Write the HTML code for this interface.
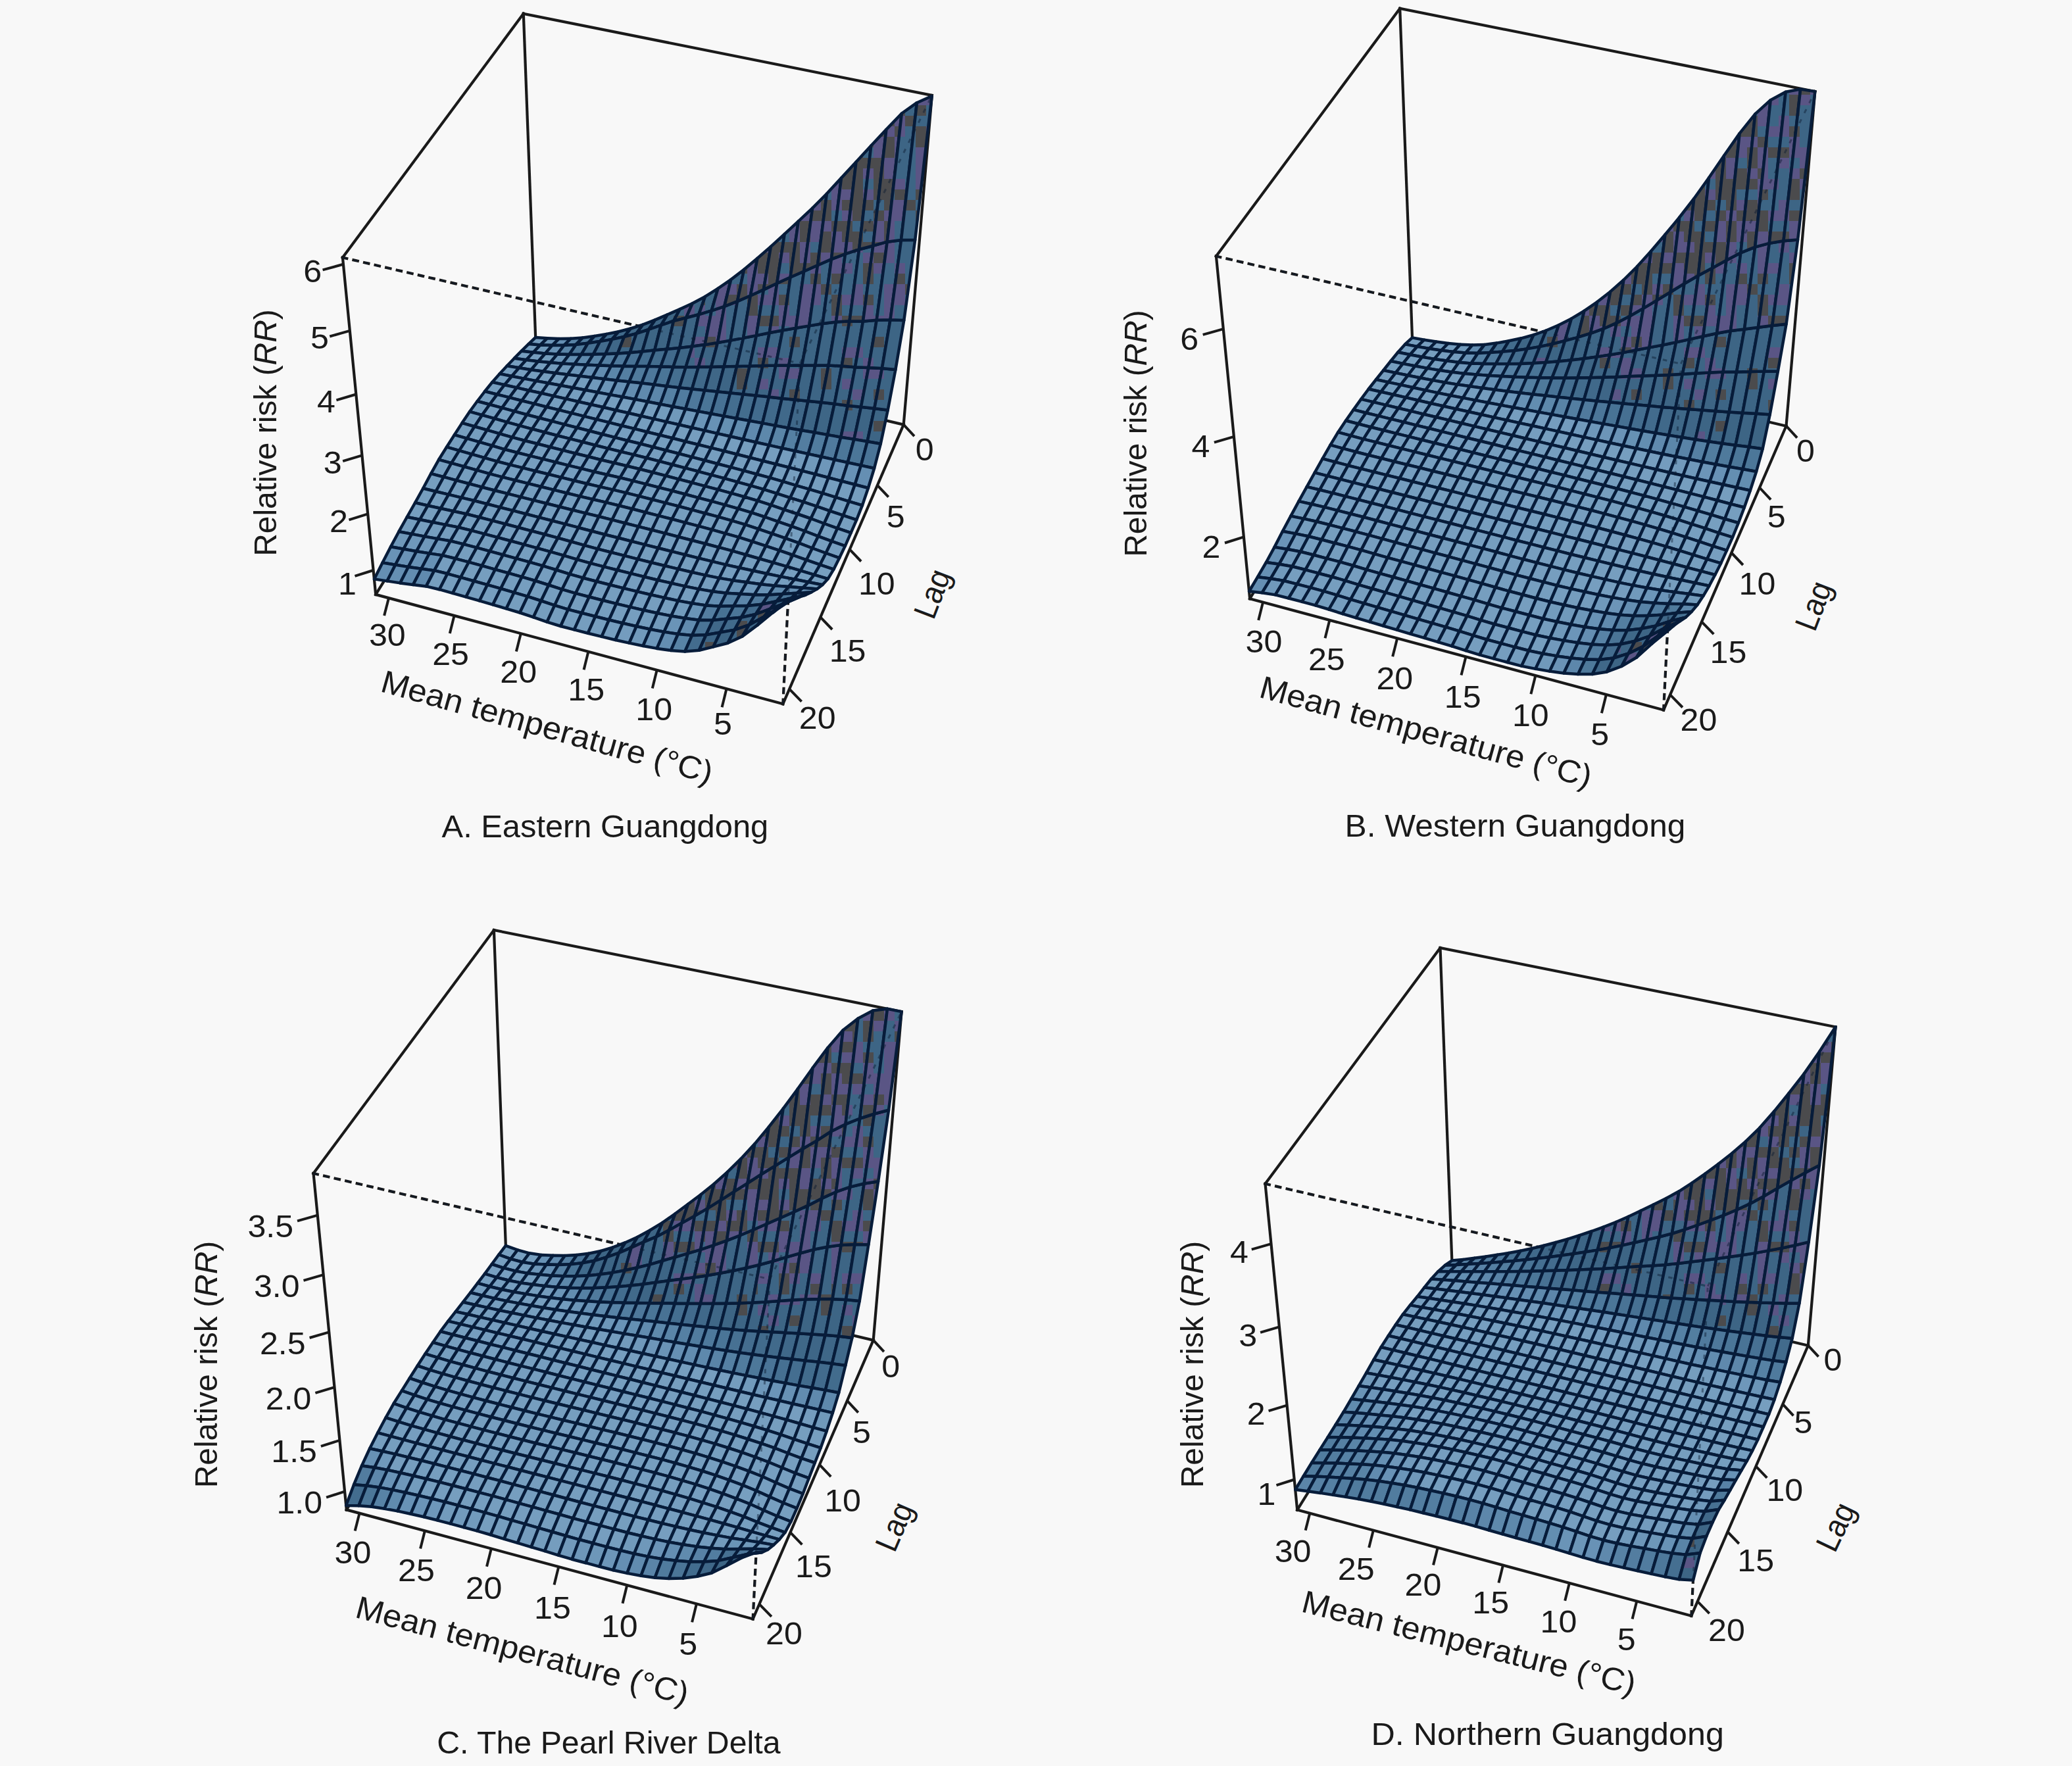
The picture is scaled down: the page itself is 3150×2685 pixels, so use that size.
<!DOCTYPE html>
<html><head><meta charset="utf-8"><title>Figure</title>
<style>html,body{margin:0;padding:0;background:#f8f8f8;}svg{display:block}text{font-family:"Liberation Sans",sans-serif;fill:#1a1a1a}</style>
</head><body>
<svg xmlns="http://www.w3.org/2000/svg" width="3150" height="2685" viewBox="0 0 3150 2685">
<rect width="3150" height="2685" fill="#f8f8f8"/>
<defs><pattern id="pd" patternUnits="userSpaceOnUse" width="128" height="128"><rect width="128" height="128" fill="#4b4b4d"/><rect x="0" y="32" width="16" height="16" fill="#5a5585"/><rect x="0" y="64" width="16" height="16" fill="#5a5585"/><rect x="0" y="112" width="16" height="16" fill="#5a5585"/><rect x="16" y="80" width="16" height="16" fill="#3d6585"/><rect x="32" y="0" width="16" height="16" fill="#5a5585"/><rect x="32" y="16" width="16" height="16" fill="#3d6585"/><rect x="32" y="32" width="16" height="16" fill="#5a5585"/><rect x="32" y="64" width="16" height="16" fill="#3d6585"/><rect x="32" y="96" width="16" height="16" fill="#3d6585"/><rect x="48" y="48" width="16" height="16" fill="#3d6585"/><rect x="48" y="80" width="16" height="16" fill="#5a5585"/><rect x="48" y="96" width="16" height="16" fill="#5a5585"/><rect x="64" y="0" width="16" height="16" fill="#5a5585"/><rect x="64" y="64" width="16" height="16" fill="#5a5585"/><rect x="64" y="112" width="16" height="16" fill="#5a5585"/><rect x="80" y="32" width="16" height="16" fill="#3d6585"/><rect x="80" y="48" width="16" height="16" fill="#5a5585"/><rect x="80" y="80" width="16" height="16" fill="#5a5585"/><rect x="80" y="96" width="16" height="16" fill="#5a5585"/><rect x="80" y="112" width="16" height="16" fill="#3d6585"/><rect x="96" y="0" width="16" height="16" fill="#5a5585"/><rect x="96" y="32" width="16" height="16" fill="#3d6585"/><rect x="96" y="80" width="16" height="16" fill="#5a5585"/><rect x="112" y="16" width="16" height="16" fill="#5a5585"/><rect x="112" y="32" width="16" height="16" fill="#5a5585"/><rect x="112" y="48" width="16" height="16" fill="#5a5585"/><rect x="112" y="64" width="16" height="16" fill="#3d6585"/><rect x="112" y="96" width="16" height="16" fill="#5a5585"/><rect x="112" y="112" width="16" height="16" fill="#5a5585"/></pattern><pattern id="pm" patternUnits="userSpaceOnUse" width="128" height="128"><rect width="128" height="128" fill="#3d6585"/><rect x="0" y="16" width="16" height="16" fill="#5a5585"/><rect x="0" y="64" width="16" height="16" fill="#5a5585"/><rect x="0" y="96" width="16" height="16" fill="#4b4b4d"/><rect x="16" y="48" width="16" height="16" fill="#5a5585"/><rect x="16" y="64" width="16" height="16" fill="#5a5585"/><rect x="16" y="96" width="16" height="16" fill="#4b4b4d"/><rect x="16" y="112" width="16" height="16" fill="#5a5585"/><rect x="32" y="0" width="16" height="16" fill="#5a5585"/><rect x="32" y="16" width="16" height="16" fill="#4b4b4d"/><rect x="32" y="32" width="16" height="16" fill="#4b4b4d"/><rect x="32" y="64" width="16" height="16" fill="#4b4b4d"/><rect x="32" y="80" width="16" height="16" fill="#5a5585"/><rect x="32" y="96" width="16" height="16" fill="#5a5585"/><rect x="48" y="0" width="16" height="16" fill="#4b4b4d"/><rect x="48" y="16" width="16" height="16" fill="#5a5585"/><rect x="48" y="96" width="16" height="16" fill="#5a5585"/><rect x="48" y="112" width="16" height="16" fill="#5a5585"/><rect x="64" y="0" width="16" height="16" fill="#5a5585"/><rect x="64" y="48" width="16" height="16" fill="#5a5585"/><rect x="64" y="64" width="16" height="16" fill="#5a5585"/><rect x="64" y="80" width="16" height="16" fill="#5a5585"/><rect x="64" y="96" width="16" height="16" fill="#5a5585"/><rect x="64" y="112" width="16" height="16" fill="#5a5585"/><rect x="80" y="16" width="16" height="16" fill="#5a5585"/><rect x="80" y="32" width="16" height="16" fill="#4b4b4d"/><rect x="80" y="48" width="16" height="16" fill="#5a5585"/><rect x="80" y="64" width="16" height="16" fill="#5a5585"/><rect x="96" y="48" width="16" height="16" fill="#4b4b4d"/><rect x="112" y="0" width="16" height="16" fill="#5a5585"/><rect x="112" y="16" width="16" height="16" fill="#5a5585"/><rect x="112" y="32" width="16" height="16" fill="#4b4b4d"/><rect x="112" y="64" width="16" height="16" fill="#4b4b4d"/><rect x="112" y="80" width="16" height="16" fill="#4b4b4d"/><rect x="112" y="96" width="16" height="16" fill="#5a5585"/><rect x="112" y="112" width="16" height="16" fill="#5a5585"/></pattern><pattern id="pb" patternUnits="userSpaceOnUse" width="128" height="128"><rect width="128" height="128" fill="#3d6585"/><rect x="0" y="16" width="16" height="16" fill="#5a5585"/><rect x="0" y="32" width="16" height="16" fill="#4b4b4d"/><rect x="0" y="64" width="16" height="16" fill="#5a5585"/><rect x="0" y="96" width="16" height="16" fill="#4b4b4d"/><rect x="16" y="16" width="16" height="16" fill="#5a5585"/><rect x="16" y="80" width="16" height="16" fill="#5a5585"/><rect x="32" y="32" width="16" height="16" fill="#5a5585"/><rect x="32" y="48" width="16" height="16" fill="#5a5585"/><rect x="48" y="0" width="16" height="16" fill="#4b4b4d"/><rect x="48" y="48" width="16" height="16" fill="#5a5585"/><rect x="48" y="80" width="16" height="16" fill="#4b4b4d"/><rect x="96" y="48" width="16" height="16" fill="#4b4b4d"/><rect x="96" y="64" width="16" height="16" fill="#4b4b4d"/></pattern></defs>
<g stroke="#1a1a1a" stroke-width="4.2" stroke-linecap="square" fill="none">
<line x1="520.9" y1="391.5" x2="795.8" y2="20.8"/>
<line x1="795.8" y1="20.8" x2="1416.8" y2="145"/>
<line x1="795.8" y1="20.8" x2="814.2" y2="513.7"/>
<line x1="520.9" y1="391.5" x2="571.2" y2="903.9"/>
<line x1="1416.8" y1="145" x2="1373.7" y2="645.6"/>
<line x1="571.2" y1="903.9" x2="1190.3" y2="1070.3"/>
<line x1="1190.3" y1="1070.3" x2="1373.7" y2="645.6"/>
<line x1="571.2" y1="903.9" x2="814.2" y2="513.7"/>
<line x1="814.2" y1="513.7" x2="1373.7" y2="645.6"/>
<line x1="520.9" y1="391.5" x2="1216.1" y2="552.6" stroke-dasharray="6.5 10.5"/>
<line x1="1216.1" y1="552.6" x2="1416.8" y2="145" stroke-dasharray="6.5 10.5"/>
<line x1="1190.3" y1="1070.3" x2="1216.1" y2="552.6" stroke-dasharray="6.5 10.5"/>
</g>
<g stroke="#071c3a" stroke-width="4.5" stroke-linejoin="round">
<polygon fill="#749cbe" points="832,514.3 814.2,513 803.5,523.1 821.5,524.4"/>
<polygon fill="#6d96b9" points="849.9,514.9 832,514.3 821.5,524.4 839.5,525.1"/>
<polygon fill="#658fb3" points="867.9,514.7 849.9,514.9 839.5,525.1 857.5,525"/>
<polygon fill="#769ebf" points="821.5,524.4 803.5,523.1 792.8,533.7 810.8,535.8"/>
<polygon fill="#5883a6" points="885.9,513.4 867.9,514.7 857.5,525 875.6,523.9"/>
<polygon fill="#7099bb" points="839.5,525.1 821.5,524.4 810.8,535.8 828.9,537.4"/>
<polygon fill="#4f7a9c" points="903.9,511 885.9,513.4 875.6,523.9 893.8,521.8"/>
<polygon fill="#6892b6" points="857.5,525 839.5,525.1 828.9,537.4 847.1,538.6"/>
<polygon fill="#4a7497" points="922.1,507.9 903.9,511 893.8,521.8 912.1,519.1"/>
<polygon fill="#5a85a8" points="875.6,523.9 857.5,525 847.1,538.6 865.4,539.1"/>
<polygon fill="#769ebf" points="810.8,535.8 792.8,533.7 781.9,544.7 800,547.2"/>
<polygon fill="#769ebf" points="828.9,537.4 810.8,535.8 800,547.2 818.3,549.4"/>
<polygon fill="#456f91" points="940.4,504.2 922.1,507.9 912.1,519.1 930.4,515.9"/>
<polygon fill="#4f7a9c" points="893.8,521.8 875.6,523.9 865.4,539.1 883.6,539.1"/>
<polygon fill="#739cbd" points="847.1,538.6 828.9,537.4 818.3,549.4 836.6,551.3"/>
<polygon fill="#487294" points="912.1,519.1 893.8,521.8 883.6,539.1 902,538.8"/>
<polygon fill="#426b8c" points="958.8,499.5 940.4,504.2 930.4,515.9 948.9,512"/>
<polygon fill="#6b95b8" points="865.4,539.1 847.1,538.6 836.6,551.3 854.9,552.7"/>
<polygon fill="#769ebf" points="800,547.2 781.9,544.7 770.8,556.2 789.1,559.3"/>
<polygon fill="#436c8e" points="930.4,515.9 912.1,519.1 902,538.8 920.5,538.3"/>
<polygon fill="#648fb2" points="883.6,539.1 865.4,539.1 854.9,552.7 873.3,553.7"/>
<polygon fill="#769ebf" points="818.3,549.4 800,547.2 789.1,559.3 807.5,562.2"/>
<polygon fill="#3e6787" points="977.3,493.7 958.8,499.5 948.9,512 967.5,507.1"/>
<polygon fill="#769ebf" points="836.6,551.3 818.3,549.4 807.5,562.2 825.9,564.8"/>
<polygon fill="#5f8aad" points="902,538.8 883.6,539.1 873.3,553.7 891.8,554.7"/>
<polygon fill="#3f6788" points="948.9,512 930.4,515.9 920.5,538.3 939,537.5"/>
<polygon fill="#749cbd" points="854.9,552.7 836.6,551.3 825.9,564.8 844.4,567.2"/>
<polygon fill="url(#pb)" points="995.9,486.4 977.3,493.7 967.5,507.1 986.2,501"/>
<polygon fill="#5a85a8" points="920.5,538.3 902,538.8 891.8,554.7 910.4,555.6"/>
<polygon fill="#769ebf" points="789.1,559.3 770.8,556.2 759.7,568.3 778.1,572"/>
<polygon fill="url(#pb)" points="967.5,507.1 948.9,512 939,537.5 957.7,536.2"/>
<polygon fill="#6f98ba" points="873.3,553.7 854.9,552.7 844.4,567.2 862.9,569.5"/>
<polygon fill="#769ebf" points="807.5,562.2 789.1,559.3 778.1,572 796.6,575.6"/>
<polygon fill="#547fa2" points="939,537.5 920.5,538.3 910.4,555.6 929,556.2"/>
<polygon fill="#6b95b8" points="891.8,554.7 873.3,553.7 862.9,569.5 881.5,571.8"/>
<polygon fill="url(#pb)" points="1014.7,478.3 995.9,486.4 986.2,501 1005,494.4"/>
<polygon fill="#769ebf" points="825.9,564.8 807.5,562.2 796.6,575.6 815.1,579.1"/>
<polygon fill="url(#pb)" points="986.2,501 967.5,507.1 957.7,536.2 976.4,534.4"/>
<polygon fill="#4e799c" points="957.7,536.2 939,537.5 929,556.2 947.7,556.7"/>
<polygon fill="#6791b5" points="910.4,555.6 891.8,554.7 881.5,571.8 900.2,574.1"/>
<polygon fill="#769ebf" points="844.4,567.2 825.9,564.8 815.1,579.1 833.7,582.5"/>
<polygon fill="#769ebf" points="778.1,572 759.7,568.3 748.4,581 767,585.2"/>
<polygon fill="url(#pb)" points="1005,494.4 986.2,501 976.4,534.4 995.2,532.5"/>
<polygon fill="#487295" points="976.4,534.4 957.7,536.2 947.7,556.7 966.5,556.9"/>
<polygon fill="#769ebf" points="862.9,569.5 844.4,567.2 833.7,582.5 852.4,586"/>
<polygon fill="url(#pb)" points="1033.6,470.1 1014.7,478.3 1005,494.4 1024,488"/>
<polygon fill="#628cb0" points="929,556.2 910.4,555.6 900.2,574.1 918.9,576.3"/>
<polygon fill="#769ebf" points="796.6,575.6 778.1,572 767,585.2 785.6,589.4"/>
<polygon fill="#769ebf" points="881.5,571.8 862.9,569.5 852.4,586 871.1,589.5"/>
<polygon fill="#5b86a9" points="947.7,556.7 929,556.2 918.9,576.3 937.7,578.4"/>
<polygon fill="#446e90" points="995.2,532.5 976.4,534.4 966.5,556.9 985.4,557.1"/>
<polygon fill="#769ebf" points="815.1,579.1 796.6,575.6 785.6,589.4 804.3,593.7"/>
<polygon fill="url(#pb)" points="1024,488 1005,494.4 995.2,532.5 1014.2,530.8"/>
<polygon fill="#749dbe" points="900.2,574.1 881.5,571.8 871.1,589.5 889.9,593"/>
<polygon fill="url(#pb)" points="1052.7,461.3 1033.6,470.1 1024,488 1043.1,483.2"/>
<polygon fill="#769ebf" points="833.7,582.5 815.1,579.1 804.3,593.7 823,597.8"/>
<polygon fill="#547fa2" points="966.5,556.9 947.7,556.7 937.7,578.4 956.6,580.4"/>
<polygon fill="#436d8e" points="1014.2,530.8 995.2,532.5 985.4,557.1 1004.4,557.5"/>
<polygon fill="#7099bb" points="918.9,576.3 900.2,574.1 889.9,593 908.7,596.5"/>
<polygon fill="#769ebf" points="852.4,586 833.7,582.5 823,597.8 841.7,602.1"/>
<polygon fill="#769ebf" points="767,585.2 748.4,581 737.1,595 755.8,599.7"/>
<polygon fill="url(#pb)" points="1043.1,483.2 1024,488 1014.2,530.8 1033.2,529.1"/>
<polygon fill="#507b9d" points="985.4,557.1 966.5,556.9 956.6,580.4 975.5,582.5"/>
<polygon fill="#6c96b9" points="937.7,578.4 918.9,576.3 908.7,596.5 927.6,600.1"/>
<polygon fill="#769ebf" points="871.1,589.5 852.4,586 841.7,602.1 860.6,606.4"/>
<polygon fill="#769ebf" points="785.6,589.4 767,585.2 755.8,599.7 774.5,604.4"/>
<polygon fill="#416a8c" points="1033.2,529.1 1014.2,530.8 1004.4,557.5 1023.4,558"/>
<polygon fill="url(#pb)" points="1072,450.9 1052.7,461.3 1043.1,483.2 1062.3,478.3"/>
<polygon fill="#4e789b" points="1004.4,557.5 985.4,557.1 975.5,582.5 994.5,584.8"/>
<polygon fill="#6791b5" points="956.6,580.4 937.7,578.4 927.6,600.1 946.5,603.5"/>
<polygon fill="#769ebf" points="804.3,593.7 785.6,589.4 774.5,604.4 793.3,609.2"/>
<polygon fill="#769ebf" points="889.9,593 871.1,589.5 860.6,606.4 879.4,610.7"/>
<polygon fill="url(#pb)" points="1062.3,478.3 1043.1,483.2 1033.2,529.1 1052.3,526.8"/>
<polygon fill="#3e6787" points="1052.3,526.8 1033.2,529.1 1023.4,558 1042.6,558.2"/>
<polygon fill="#769ebf" points="823,597.8 804.3,593.7 793.3,609.2 812.1,613.9"/>
<polygon fill="#769ebf" points="908.7,596.5 889.9,593 879.4,610.7 898.4,615"/>
<polygon fill="#638db1" points="975.5,582.5 956.6,580.4 946.5,603.5 965.6,607.1"/>
<polygon fill="#4a7597" points="1023.4,558 1004.4,557.5 994.5,584.8 1013.6,587.2"/>
<polygon fill="#769ebf" points="841.7,602.1 823,597.8 812.1,613.9 831,618.7"/>
<polygon fill="#769ebf" points="927.6,600.1 908.7,596.5 898.4,615 917.4,619.3"/>
<polygon fill="url(#pm)" points="1091.5,438.7 1072,450.9 1062.3,478.3 1081.7,472.4"/>
<polygon fill="#769ebf" points="755.8,599.7 737.1,595 725.6,610 744.4,615"/>
<polygon fill="#608aae" points="994.5,584.8 975.5,582.5 965.6,607.1 984.6,610.8"/>
<polygon fill="url(#pm)" points="1081.7,472.4 1062.3,478.3 1052.3,526.8 1071.6,524.1"/>
<polygon fill="url(#pb)" points="1071.6,524.1 1052.3,526.8 1042.6,558.2 1061.8,558.1"/>
<polygon fill="#456f91" points="1042.6,558.2 1023.4,558 1013.6,587.2 1032.8,589.4"/>
<polygon fill="#769ebf" points="860.6,606.4 841.7,602.1 831,618.7 849.9,623.4"/>
<polygon fill="#769ebf" points="946.5,603.5 927.6,600.1 917.4,619.3 936.4,623.7"/>
<polygon fill="#769ebf" points="774.5,604.4 755.8,599.7 744.4,615 763.3,620.1"/>
<polygon fill="#5c86aa" points="1013.6,587.2 994.5,584.8 984.6,610.8 1003.8,614.5"/>
<polygon fill="#769ebf" points="879.4,610.7 860.6,606.4 849.9,623.4 868.9,628.1"/>
<polygon fill="#769ebf" points="793.3,609.2 774.5,604.4 763.3,620.1 782.2,625.3"/>
<polygon fill="#426c8d" points="1061.8,558.1 1042.6,558.2 1032.8,589.4 1052,591.5"/>
<polygon fill="#769ebf" points="965.6,607.1 946.5,603.5 936.4,623.7 955.5,628"/>
<polygon fill="url(#pb)" points="1091,521 1071.6,524.1 1061.8,558.1 1081.2,557.9"/>
<polygon fill="#5681a4" points="1032.8,589.4 1013.6,587.2 1003.8,614.5 1023,618.2"/>
<polygon fill="url(#pm)" points="1101.2,465.9 1081.7,472.4 1071.6,524.1 1091,521"/>
<polygon fill="#769ebf" points="898.4,615 879.4,610.7 868.9,628.1 887.9,632.9"/>
<polygon fill="#769ebf" points="812.1,613.9 793.3,609.2 782.2,625.3 801.1,630.5"/>
<polygon fill="url(#pm)" points="1111.2,425.1 1091.5,438.7 1081.7,472.4 1101.2,465.9"/>
<polygon fill="#769ebf" points="984.6,610.8 965.6,607.1 955.5,628 974.6,632.5"/>
<polygon fill="#40698a" points="1081.2,557.9 1061.8,558.1 1052,591.5 1071.3,593.5"/>
<polygon fill="#769ebf" points="917.4,619.3 898.4,615 887.9,632.9 907,637.6"/>
<polygon fill="#769ebf" points="831,618.7 812.1,613.9 801.1,630.5 820.1,635.5"/>
<polygon fill="#517c9f" points="1052,591.5 1032.8,589.4 1023,618.2 1042.2,621.8"/>
<polygon fill="#769ebf" points="1003.8,614.5 984.6,610.8 974.6,632.5 993.8,636.9"/>
<polygon fill="url(#pb)" points="1110.5,517.6 1091,521 1081.2,557.9 1100.6,557.5"/>
<polygon fill="#779fc0" points="744.4,615 725.6,610 714.1,625.8 733,631.1"/>
<polygon fill="#769ebf" points="936.4,623.7 917.4,619.3 907,637.6 926.1,642.4"/>
<polygon fill="#769ebf" points="849.9,623.4 831,618.7 820.1,635.5 839.1,640.4"/>
<polygon fill="#4e789b" points="1071.3,593.5 1052,591.5 1042.2,621.8 1061.5,625.4"/>
<polygon fill="#3f6787" points="1100.6,557.5 1081.2,557.9 1071.3,593.5 1090.7,595.5"/>
<polygon fill="url(#pm)" points="1121,458.1 1101.2,465.9 1091,521 1110.5,517.6"/>
<polygon fill="#779fc0" points="763.3,620.1 744.4,615 733,631.1 751.9,636.4"/>
<polygon fill="#739cbd" points="1023,618.2 1003.8,614.5 993.8,636.9 1013.1,641.4"/>
<polygon fill="#769ebf" points="955.5,628 936.4,623.7 926.1,642.4 945.3,647.2"/>
<polygon fill="#769ebf" points="868.9,628.1 849.9,623.4 839.1,640.4 858.2,645.4"/>
<polygon fill="#779fc0" points="782.2,625.3 763.3,620.1 751.9,636.4 770.9,641.8"/>
<polygon fill="url(#pb)" points="1130.1,513.9 1110.5,517.6 1100.6,557.5 1120.1,557"/>
<polygon fill="#4a7597" points="1090.7,595.5 1071.3,593.5 1061.5,625.4 1080.9,629"/>
<polygon fill="#7099bb" points="1042.2,621.8 1023,618.2 1013.1,641.4 1032.4,645.8"/>
<polygon fill="url(#pd)" points="1131.1,409.7 1111.2,425.1 1101.2,465.9 1121,458.1"/>
<polygon fill="#769ebf" points="887.9,632.9 868.9,628.1 858.2,645.4 877.3,650.3"/>
<polygon fill="#769ebf" points="974.6,632.5 955.5,628 945.3,647.2 964.5,651.9"/>
<polygon fill="url(#pb)" points="1120.1,557 1100.6,557.5 1090.7,595.5 1110.2,597.5"/>
<polygon fill="#779fc0" points="801.1,630.5 782.2,625.3 770.9,641.8 790,647.2"/>
<polygon fill="#6e97ba" points="1061.5,625.4 1042.2,621.8 1032.4,645.8 1051.8,650.2"/>
<polygon fill="#769ebf" points="907,637.6 887.9,632.9 877.3,650.3 896.5,655.2"/>
<polygon fill="#477194" points="1110.2,597.5 1090.7,595.5 1080.9,629 1100.4,632.6"/>
<polygon fill="#769ebf" points="993.8,636.9 974.6,632.5 964.5,651.9 983.8,656.7"/>
<polygon fill="url(#pm)" points="1140.9,449.5 1121,458.1 1110.5,517.6 1130.1,513.9"/>
<polygon fill="#769ebf" points="820.1,635.5 801.1,630.5 790,647.2 809.1,652.3"/>
<polygon fill="url(#pb)" points="1139.7,556.6 1120.1,557 1110.2,597.5 1129.7,599.5"/>
<polygon fill="url(#pb)" points="1149.9,510.1 1130.1,513.9 1120.1,557 1139.7,556.6"/>
<polygon fill="#769ebf" points="733,631.1 714.1,625.8 702.5,643.1 721.5,648.5"/>
<polygon fill="#6b95b8" points="1080.9,629 1061.5,625.4 1051.8,650.2 1071.2,654.6"/>
<polygon fill="#769ebf" points="926.1,642.4 907,637.6 896.5,655.2 915.7,660.2"/>
<polygon fill="#769ebf" points="1013.1,641.4 993.8,636.9 983.8,656.7 1003.2,661.5"/>
<polygon fill="#769ebf" points="839.1,640.4 820.1,635.5 809.1,652.3 828.2,657.2"/>
<polygon fill="#446e90" points="1129.7,599.5 1110.2,597.5 1100.4,632.6 1119.9,636.2"/>
<polygon fill="#769ebf" points="751.9,636.4 733,631.1 721.5,648.5 740.5,653.9"/>
<polygon fill="#769ebf" points="945.3,647.2 926.1,642.4 915.7,660.2 935,665.1"/>
<polygon fill="#6892b6" points="1100.4,632.6 1080.9,629 1071.2,654.6 1090.7,659.1"/>
<polygon fill="#769ebf" points="1032.4,645.8 1013.1,641.4 1003.2,661.5 1022.6,666.3"/>
<polygon fill="#769ebf" points="858.2,645.4 839.1,640.4 828.2,657.2 847.3,662.2"/>
<polygon fill="url(#pb)" points="1159.5,556 1139.7,556.6 1129.7,599.5 1149.3,601.4"/>
<polygon fill="url(#pd)" points="1151.4,392.8 1131.1,409.7 1121,458.1 1140.9,449.5"/>
<polygon fill="#436d8e" points="1149.3,601.4 1129.7,599.5 1119.9,636.2 1139.4,639.8"/>
<polygon fill="#769ebf" points="770.9,641.8 751.9,636.4 740.5,653.9 759.6,659.4"/>
<polygon fill="url(#pm)" points="1160.9,440.4 1140.9,449.5 1130.1,513.9 1149.9,510.1"/>
<polygon fill="url(#pb)" points="1169.8,506 1149.9,510.1 1139.7,556.6 1159.5,556"/>
<polygon fill="#769ebf" points="964.5,651.9 945.3,647.2 935,665.1 954.3,670"/>
<polygon fill="#769ebf" points="1051.8,650.2 1032.4,645.8 1022.6,666.3 1042,671.2"/>
<polygon fill="#6590b3" points="1119.9,636.2 1100.4,632.6 1090.7,659.1 1110.2,663.5"/>
<polygon fill="#769ebf" points="877.3,650.3 858.2,645.4 847.3,662.2 866.6,667.1"/>
<polygon fill="#769ebf" points="790,647.2 770.9,641.8 759.6,659.4 778.8,664.9"/>
<polygon fill="url(#pb)" points="1179.3,555.6 1159.5,556 1149.3,601.4 1169,603.5"/>
<polygon fill="#426b8d" points="1169,603.5 1149.3,601.4 1139.4,639.8 1159.1,643.4"/>
<polygon fill="#769ebf" points="983.8,656.7 964.5,651.9 954.3,670 973.7,674.8"/>
<polygon fill="#769ebf" points="1071.2,654.6 1051.8,650.2 1042,671.2 1061.5,676"/>
<polygon fill="#769ebf" points="896.5,655.2 877.3,650.3 866.6,667.1 885.8,672"/>
<polygon fill="#628db0" points="1139.4,639.8 1119.9,636.2 1110.2,663.5 1129.8,668"/>
<polygon fill="#769ebf" points="809.1,652.3 790,647.2 778.8,664.9 797.9,670"/>
<polygon fill="url(#pb)" points="1189.8,502.2 1169.8,506 1159.5,556 1179.3,555.6"/>
<polygon fill="#769ebf" points="721.5,648.5 702.5,643.1 690.8,661.2 709.9,666.7"/>
<polygon fill="#769ebf" points="1003.2,661.5 983.8,656.7 973.7,674.8 993.1,679.7"/>
<polygon fill="#769ebf" points="915.7,660.2 896.5,655.2 885.8,672 905.2,677"/>
<polygon fill="#769ebf" points="1090.7,659.1 1071.2,654.6 1061.5,676 1081.1,680.9"/>
<polygon fill="#416a8b" points="1188.8,605.7 1169,603.5 1159.1,643.4 1178.8,647.1"/>
<polygon fill="#608aae" points="1159.1,643.4 1139.4,639.8 1129.8,668 1149.5,672.5"/>
<polygon fill="#769ebf" points="828.2,657.2 809.1,652.3 797.9,670 817.1,674.8"/>
<polygon fill="url(#pm)" points="1181.2,430.8 1160.9,440.4 1149.9,510.1 1169.8,506"/>
<polygon fill="url(#pb)" points="1199.2,555.6 1179.3,555.6 1169,603.5 1188.8,605.7"/>
<polygon fill="#769ebf" points="740.5,653.9 721.5,648.5 709.9,666.7 729,672.1"/>
<polygon fill="#769ebf" points="1022.6,666.3 1003.2,661.5 993.1,679.7 1012.6,684.7"/>
<polygon fill="url(#pd)" points="1171.9,374.9 1151.4,392.8 1140.9,449.5 1160.9,440.4"/>
<polygon fill="#769ebf" points="935,665.1 915.7,660.2 905.2,677 924.5,681.9"/>
<polygon fill="#769ebf" points="1110.2,663.5 1090.7,659.1 1081.1,680.9 1100.7,685.8"/>
<polygon fill="#769ebf" points="847.3,662.2 828.2,657.2 817.1,674.8 836.4,679.7"/>
<polygon fill="#40698a" points="1208.6,607.8 1188.8,605.7 1178.8,647.1 1198.5,650.7"/>
<polygon fill="#5d88ab" points="1178.8,647.1 1159.1,643.4 1149.5,672.5 1169.2,676.9"/>
<polygon fill="#769ebf" points="759.6,659.4 740.5,653.9 729,672.1 748.2,677.7"/>
<polygon fill="url(#pb)" points="1210,498.8 1189.8,502.2 1179.3,555.6 1199.2,555.6"/>
<polygon fill="#769ebf" points="1042,671.2 1022.6,666.3 1012.6,684.7 1032.2,689.8"/>
<polygon fill="url(#pb)" points="1219.2,555.5 1199.2,555.6 1188.8,605.7 1208.6,607.8"/>
<polygon fill="#769ebf" points="954.3,670 935,665.1 924.5,681.9 944,686.7"/>
<polygon fill="#769ebf" points="1129.8,668 1110.2,663.5 1100.7,685.8 1120.4,690.8"/>
<polygon fill="#769ebf" points="866.6,667.1 847.3,662.2 836.4,679.7 855.7,684.6"/>
<polygon fill="#769ebf" points="778.8,664.9 759.6,659.4 748.2,677.7 767.4,683.3"/>
<polygon fill="#5a85a8" points="1198.5,650.7 1178.8,647.1 1169.2,676.9 1189,681.4"/>
<polygon fill="#3f6788" points="1228.6,609.8 1208.6,607.8 1198.5,650.7 1218.4,654.2"/>
<polygon fill="#769ebf" points="1061.5,676 1042,671.2 1032.2,689.8 1051.8,694.9"/>
<polygon fill="#769ebf" points="973.7,674.8 954.3,670 944,686.7 963.5,691.4"/>
<polygon fill="url(#pm)" points="1201.6,421.5 1181.2,430.8 1169.8,506 1189.8,502.2"/>
<polygon fill="#769ebf" points="1149.5,672.5 1129.8,668 1120.4,690.8 1140.1,695.7"/>
<polygon fill="#769ebf" points="885.8,672 866.6,667.1 855.7,684.6 875.1,689.5"/>
<polygon fill="#769ebf" points="797.9,670 778.8,664.9 767.4,683.3 786.7,688.3"/>
<polygon fill="url(#pb)" points="1239.3,555.3 1219.2,555.5 1208.6,607.8 1228.6,609.8"/>
<polygon fill="#5580a3" points="1218.4,654.2 1198.5,650.7 1189,681.4 1208.8,685.8"/>
<polygon fill="#769ebf" points="1081.1,680.9 1061.5,676 1051.8,694.9 1071.4,700"/>
<polygon fill="url(#pb)" points="1230.2,495.4 1210,498.8 1199.2,555.6 1219.2,555.5"/>
<polygon fill="#769ebf" points="709.9,666.7 690.8,661.2 679,679.7 698.2,685.1"/>
<polygon fill="#769ebf" points="993.1,679.7 973.7,674.8 963.5,691.4 983,696.3"/>
<polygon fill="#3e6686" points="1248.6,611.7 1228.6,609.8 1218.4,654.2 1238.3,657.5"/>
<polygon fill="#769ebf" points="1169.2,676.9 1149.5,672.5 1140.1,695.7 1159.8,700.7"/>
<polygon fill="#769ebf" points="905.2,677 885.8,672 875.1,689.5 894.5,694.3"/>
<polygon fill="#769ebf" points="817.1,674.8 797.9,670 786.7,688.3 806,693.1"/>
<polygon fill="url(#pd)" points="1192.7,355.8 1171.9,374.9 1160.9,440.4 1181.2,430.8"/>
<polygon fill="#769ebf" points="729,672.1 709.9,666.7 698.2,685.1 717.4,690.6"/>
<polygon fill="#769ebf" points="1100.7,685.8 1081.1,680.9 1071.4,700 1091.1,705.2"/>
<polygon fill="#537da0" points="1238.3,657.5 1218.4,654.2 1208.8,685.8 1228.7,690.1"/>
<polygon fill="#769ebf" points="1012.6,684.7 993.1,679.7 983,696.3 1002.6,701.4"/>
<polygon fill="url(#pb)" points="1259.5,555.6 1239.3,555.3 1228.6,609.8 1248.6,611.7"/>
<polygon fill="#769ebf" points="1189,681.4 1169.2,676.9 1159.8,700.7 1179.7,705.7"/>
<polygon fill="#769ebf" points="924.5,681.9 905.2,677 894.5,694.3 914,699.2"/>
<polygon fill="#3e6686" points="1268.6,614.1 1248.6,611.7 1238.3,657.5 1258.2,661.1"/>
<polygon fill="#769ebf" points="836.4,679.7 817.1,674.8 806,693.1 825.3,697.9"/>
<polygon fill="#769ebf" points="748.2,677.7 729,672.1 717.4,690.6 736.7,696.1"/>
<polygon fill="#769ebf" points="1120.4,690.8 1100.7,685.8 1091.1,705.2 1110.9,710.4"/>
<polygon fill="url(#pb)" points="1250.6,492 1230.2,495.4 1219.2,555.5 1239.3,555.3"/>
<polygon fill="url(#pm)" points="1222.2,412.5 1201.6,421.5 1189.8,502.2 1210,498.8"/>
<polygon fill="#769ebf" points="1032.2,689.8 1012.6,684.7 1002.6,701.4 1022.2,706.5"/>
<polygon fill="#517c9f" points="1258.2,661.1 1238.3,657.5 1228.7,690.1 1248.7,694.5"/>
<polygon fill="#759dbe" points="1208.8,685.8 1189,681.4 1179.7,705.7 1199.5,710.8"/>
<polygon fill="#769ebf" points="944,686.7 924.5,681.9 914,699.2 933.5,703.8"/>
<polygon fill="#769ebf" points="855.7,684.6 836.4,679.7 825.3,697.9 844.8,702.7"/>
<polygon fill="#769ebf" points="767.4,683.3 748.2,677.7 736.7,696.1 756,701.6"/>
<polygon fill="#3d6686" points="1288.8,616.8 1268.6,614.1 1258.2,661.1 1278.3,664.7"/>
<polygon fill="url(#pb)" points="1279.7,556.5 1259.5,555.6 1248.6,611.7 1268.6,614.1"/>
<polygon fill="#769ebf" points="1140.1,695.7 1120.4,690.8 1110.9,710.4 1130.7,715.6"/>
<polygon fill="#769ebf" points="1051.8,694.9 1032.2,689.8 1022.2,706.5 1041.9,711.6"/>
<polygon fill="#507a9d" points="1278.3,664.7 1258.2,661.1 1248.7,694.5 1268.7,698.9"/>
<polygon fill="#729bbd" points="1228.7,690.1 1208.8,685.8 1199.5,710.8 1219.5,715.9"/>
<polygon fill="#769ebf" points="963.5,691.4 944,686.7 933.5,703.8 953.1,708.5"/>
<polygon fill="#769ebf" points="875.1,689.5 855.7,684.6 844.8,702.7 864.2,707.6"/>
<polygon fill="#769ebf" points="786.7,688.3 767.4,683.3 756,701.6 775.3,706.6"/>
<polygon fill="#769ebf" points="1159.8,700.7 1140.1,695.7 1130.7,715.6 1150.5,721"/>
<polygon fill="url(#pb)" points="1271,489.5 1250.6,492 1239.3,555.3 1259.5,555.6"/>
<polygon fill="#769ebf" points="698.2,685.1 679,679.7 667.1,698.8 686.3,704.2"/>
<polygon fill="#769ebf" points="1071.4,700 1051.8,694.9 1041.9,711.6 1061.7,716.8"/>
<polygon fill="url(#pb)" points="1309,618.7 1288.8,616.8 1278.3,664.7 1298.4,667.9"/>
<polygon fill="url(#pb)" points="1300,558.3 1279.7,556.5 1268.6,614.1 1288.8,616.8"/>
<polygon fill="#7099bb" points="1248.7,694.5 1228.7,690.1 1219.5,715.9 1239.5,721"/>
<polygon fill="#4c7799" points="1298.4,667.9 1278.3,664.7 1268.7,698.9 1288.8,703.2"/>
<polygon fill="#769ebf" points="983,696.3 963.5,691.4 953.1,708.5 972.7,713.3"/>
<polygon fill="#769ebf" points="894.5,694.3 875.1,689.5 864.2,707.6 883.7,712.4"/>
<polygon fill="url(#pm)" points="1243,403.2 1222.2,412.5 1210,498.8 1230.2,495.4"/>
<polygon fill="#769ebf" points="806,693.1 786.7,688.3 775.3,706.6 794.7,711.4"/>
<polygon fill="url(#pd)" points="1213.8,336.3 1192.7,355.8 1181.2,430.8 1201.6,421.5"/>
<polygon fill="#769ebf" points="1179.7,705.7 1159.8,700.7 1150.5,721 1170.4,726.4"/>
<polygon fill="#769ebf" points="717.4,690.6 698.2,685.1 686.3,704.2 705.6,709.5"/>
<polygon fill="#769ebf" points="1091.1,705.2 1071.4,700 1061.7,716.8 1081.5,722.1"/>
<polygon fill="#6e97ba" points="1268.7,698.9 1248.7,694.5 1239.5,721 1259.5,726.2"/>
<polygon fill="#769ebf" points="1002.6,701.4 983,696.3 972.7,713.3 992.4,718.3"/>
<polygon fill="url(#pb)" points="1329.3,621 1309,618.7 1298.4,667.9 1318.6,671.3"/>
<polygon fill="#769ebf" points="914,699.2 894.5,694.3 883.7,712.4 903.3,717.2"/>
<polygon fill="#4b7698" points="1318.6,671.3 1298.4,667.9 1288.8,703.2 1308.9,707.6"/>
<polygon fill="#769ebf" points="825.3,697.9 806,693.1 794.7,711.4 814.2,716.2"/>
<polygon fill="#769ebf" points="1199.5,710.8 1179.7,705.7 1170.4,726.4 1190.4,732.1"/>
<polygon fill="url(#pb)" points="1291.5,488.2 1271,489.5 1259.5,555.6 1279.7,556.5"/>
<polygon fill="url(#pb)" points="1320.4,558.9 1300,558.3 1288.8,616.8 1309,618.7"/>
<polygon fill="#769ebf" points="736.7,696.1 717.4,690.6 705.6,709.5 725,714.9"/>
<polygon fill="#769ebf" points="1110.9,710.4 1091.1,705.2 1081.5,722.1 1101.4,727.4"/>
<polygon fill="#6b94b8" points="1288.8,703.2 1268.7,698.9 1259.5,726.2 1279.6,731.5"/>
<polygon fill="#769ebf" points="1022.2,706.5 1002.6,701.4 992.4,718.3 1012.2,723.4"/>
<polygon fill="#769ebf" points="1219.5,715.9 1199.5,710.8 1190.4,732.1 1210.3,738.1"/>
<polygon fill="#769ebf" points="933.5,703.8 914,699.2 903.3,717.2 922.9,721.8"/>
<polygon fill="#769ebf" points="844.8,702.7 825.3,697.9 814.2,716.2 833.7,721"/>
<polygon fill="#769ebf" points="756,701.6 736.7,696.1 725,714.9 744.4,720.4"/>
<polygon fill="url(#pb)" points="1349.7,623.6 1329.3,621 1318.6,671.3 1338.8,674.8"/>
<polygon fill="#4a7497" points="1338.8,674.8 1318.6,671.3 1308.9,707.6 1329.1,712"/>
<polygon fill="#769ebf" points="1130.7,715.6 1110.9,710.4 1101.4,727.4 1121.3,732.8"/>
<polygon fill="url(#pm)" points="1263.9,394.1 1243,403.2 1230.2,495.4 1250.6,492"/>
<polygon fill="url(#pb)" points="1340.9,560.1 1320.4,558.9 1309,618.7 1329.3,621"/>
<polygon fill="url(#pb)" points="1312,488.4 1291.5,488.2 1279.7,556.5 1300,558.3"/>
<polygon fill="#769ebf" points="1041.9,711.6 1022.2,706.5 1012.2,723.4 1032,728.6"/>
<polygon fill="#6892b6" points="1308.9,707.6 1288.8,703.2 1279.6,731.5 1299.7,736.7"/>
<polygon fill="#769ebf" points="1239.5,721 1219.5,715.9 1210.3,738.1 1230.4,743.9"/>
<polygon fill="#769ebf" points="775.3,706.6 756,701.6 744.4,720.4 763.8,725.4"/>
<polygon fill="#769ebf" points="864.2,707.6 844.8,702.7 833.7,721 853.2,725.9"/>
<polygon fill="#769ebf" points="953.1,708.5 933.5,703.8 922.9,721.8 942.6,726.3"/>
<polygon fill="#769ebf" points="686.3,704.2 667.1,698.8 655.2,720.1 674.5,725.2"/>
<polygon fill="#769ebf" points="1150.5,721 1130.7,715.6 1121.3,732.8 1141.2,738.4"/>
<polygon fill="#769ebf" points="1061.7,716.8 1041.9,711.6 1032,728.6 1051.9,733.8"/>
<polygon fill="#769ebf" points="1259.5,726.2 1239.5,721 1230.4,743.9 1250.5,749.9"/>
<polygon fill="#658fb3" points="1329.1,712 1308.9,707.6 1299.7,736.7 1319.9,742"/>
<polygon fill="url(#pd)" points="1235.2,316.3 1213.8,336.3 1201.6,421.5 1222.2,412.5"/>
<polygon fill="#769ebf" points="794.7,711.4 775.3,706.6 763.8,725.4 783.3,730.3"/>
<polygon fill="url(#pb)" points="1361.4,562.1 1340.9,560.1 1329.3,621 1349.7,623.6"/>
<polygon fill="#769ebf" points="883.7,712.4 864.2,707.6 853.2,725.9 872.8,730.7"/>
<polygon fill="#769ebf" points="705.6,709.5 686.3,704.2 674.5,725.2 693.9,730.4"/>
<polygon fill="#769ebf" points="972.7,713.3 953.1,708.5 942.6,726.3 962.4,731.1"/>
<polygon fill="#779fc0" points="1170.4,726.4 1150.5,721 1141.2,738.4 1161.2,744.1"/>
<polygon fill="url(#pb)" points="1332.7,486.7 1312,488.4 1300,558.3 1320.4,558.9"/>
<polygon fill="#769ebf" points="1279.6,731.5 1259.5,726.2 1250.5,749.9 1270.6,756.2"/>
<polygon fill="#769ebf" points="1081.5,722.1 1061.7,716.8 1051.9,733.8 1071.8,739.1"/>
<polygon fill="#779fc0" points="1190.4,732.1 1170.4,726.4 1161.2,744.1 1181.2,750.3"/>
<polygon fill="#769ebf" points="725,714.9 705.6,709.5 693.9,730.4 713.3,735.5"/>
<polygon fill="#769ebf" points="814.2,716.2 794.7,711.4 783.3,730.3 802.9,735.1"/>
<polygon fill="#769ebf" points="903.3,717.2 883.7,712.4 872.8,730.7 892.5,735.5"/>
<polygon fill="#769ebf" points="992.4,718.3 972.7,713.3 962.4,731.1 982.2,736.1"/>
<polygon fill="url(#pm)" points="1285,386.1 1263.9,394.1 1250.6,492 1271,489.5"/>
<polygon fill="#769ebf" points="1299.7,736.7 1279.6,731.5 1270.6,756.2 1290.7,762.3"/>
<polygon fill="#769ebf" points="1101.4,727.4 1081.5,722.1 1071.8,739.1 1091.7,744.4"/>
<polygon fill="#779fc0" points="1210.3,738.1 1190.4,732.1 1181.2,750.3 1201.3,756.8"/>
<polygon fill="#769ebf" points="744.4,720.4 725,714.9 713.3,735.5 732.8,740.7"/>
<polygon fill="#769ebf" points="833.7,721 814.2,716.2 802.9,735.1 822.5,740"/>
<polygon fill="#769ebf" points="1012.2,723.4 992.4,718.3 982.2,736.1 1002,741.2"/>
<polygon fill="#769ebf" points="922.9,721.8 903.3,717.2 892.5,735.5 912.2,740.1"/>
<polygon fill="url(#pb)" points="1353.5,486.2 1332.7,486.7 1320.4,558.9 1340.9,560.1"/>
<polygon fill="#769ebf" points="1319.9,742 1299.7,736.7 1290.7,762.3 1310.9,768.4"/>
<polygon fill="#779fc0" points="1121.3,732.8 1101.4,727.4 1091.7,744.4 1111.8,749.9"/>
<polygon fill="#779fc0" points="1230.4,743.9 1210.3,738.1 1201.3,756.8 1221.4,763.2"/>
<polygon fill="#769ebf" points="674.5,725.2 655.2,720.1 643.2,742.5 662.6,747.2"/>
<polygon fill="#769ebf" points="763.8,725.4 744.4,720.4 732.8,740.7 752.3,745.7"/>
<polygon fill="#769ebf" points="1032,728.6 1012.2,723.4 1002,741.2 1021.9,746.3"/>
<polygon fill="#769ebf" points="853.2,725.9 833.7,721 822.5,740 842.1,744.9"/>
<polygon fill="#769ebf" points="942.6,726.3 922.9,721.8 912.2,740.1 932,744.6"/>
<polygon fill="#779fc0" points="1250.5,749.9 1230.4,743.9 1221.4,763.2 1241.6,769.9"/>
<polygon fill="#779fc0" points="1141.2,738.4 1121.3,732.8 1111.8,749.9 1131.8,755.5"/>
<polygon fill="url(#pm)" points="1306.1,379.2 1285,386.1 1271,489.5 1291.5,488.2"/>
<polygon fill="#769ebf" points="693.9,730.4 674.5,725.2 662.6,747.2 682,751.9"/>
<polygon fill="url(#pb)" points="1374.3,486.9 1353.5,486.2 1340.9,560.1 1361.4,562.1"/>
<polygon fill="url(#pd)" points="1256.9,294.5 1235.2,316.3 1222.2,412.5 1243,403.2"/>
<polygon fill="#769ebf" points="783.3,730.3 763.8,725.4 752.3,745.7 771.9,750.6"/>
<polygon fill="#769ebf" points="1051.9,733.8 1032,728.6 1021.9,746.3 1041.9,751.5"/>
<polygon fill="#769ebf" points="872.8,730.7 853.2,725.9 842.1,744.9 861.8,749.7"/>
<polygon fill="#779fc0" points="1270.6,756.2 1250.5,749.9 1241.6,769.9 1261.7,776.8"/>
<polygon fill="#769ebf" points="962.4,731.1 942.6,726.3 932,744.6 951.8,749.4"/>
<polygon fill="#779fc0" points="1161.2,744.1 1141.2,738.4 1131.8,755.5 1151.9,761.4"/>
<polygon fill="#769ebf" points="713.3,735.5 693.9,730.4 682,751.9 701.5,756.6"/>
<polygon fill="#779fc0" points="1290.7,762.3 1270.6,756.2 1261.7,776.8 1281.9,783.6"/>
<polygon fill="#769ebf" points="802.9,735.1 783.3,730.3 771.9,750.6 791.5,755.6"/>
<polygon fill="#769ebf" points="1071.8,739.1 1051.9,733.8 1041.9,751.5 1061.9,756.8"/>
<polygon fill="#769ebf" points="892.5,735.5 872.8,730.7 861.8,749.7 881.6,754.6"/>
<polygon fill="#779fc0" points="1181.2,750.3 1161.2,744.1 1151.9,761.4 1172.1,767.9"/>
<polygon fill="#769ebf" points="982.2,736.1 962.4,731.1 951.8,749.4 971.7,754.4"/>
<polygon fill="#769ebf" points="1310.9,768.4 1290.7,762.3 1281.9,783.6 1302.2,790.3"/>
<polygon fill="#769ebf" points="732.8,740.7 713.3,735.5 701.5,756.6 721,761.3"/>
<polygon fill="url(#pm)" points="1327.3,373.7 1306.1,379.2 1291.5,488.2 1312,488.4"/>
<polygon fill="#769ebf" points="1091.7,744.4 1071.8,739.1 1061.9,756.8 1082,762.2"/>
<polygon fill="#769ebf" points="822.5,740 802.9,735.1 791.5,755.6 811.2,760.6"/>
<polygon fill="#779fc0" points="1201.3,756.8 1181.2,750.3 1172.1,767.9 1192.2,774.8"/>
<polygon fill="#769ebf" points="912.2,740.1 892.5,735.5 881.6,754.6 901.4,759.3"/>
<polygon fill="#769ebf" points="1002,741.2 982.2,736.1 971.7,754.4 991.7,759.5"/>
<polygon fill="#769ebf" points="662.6,747.2 643.2,742.5 631.1,764.3 650.5,768.7"/>
<polygon fill="#779fc0" points="1221.4,763.2 1201.3,756.8 1192.2,774.8 1212.4,781.5"/>
<polygon fill="#769ebf" points="752.3,745.7 732.8,740.7 721,761.3 740.6,766.3"/>
<polygon fill="#769ebf" points="1111.8,749.9 1091.7,744.4 1082,762.2 1102.1,767.7"/>
<polygon fill="#769ebf" points="842.1,744.9 822.5,740 811.2,760.6 830.9,765.5"/>
<polygon fill="#769ebf" points="1021.9,746.3 1002,741.2 991.7,759.5 1011.7,764.6"/>
<polygon fill="#769ebf" points="932,744.6 912.2,740.1 901.4,759.3 921.3,763.9"/>
<polygon fill="#769ebf" points="682,751.9 662.6,747.2 650.5,768.7 670,773"/>
<polygon fill="#779fc0" points="1241.6,769.9 1221.4,763.2 1212.4,781.5 1232.7,788.5"/>
<polygon fill="url(#pd)" points="1279,270.6 1256.9,294.5 1243,403.2 1263.9,394.1"/>
<polygon fill="#769ebf" points="771.9,750.6 752.3,745.7 740.6,766.3 760.3,771.4"/>
<polygon fill="#779fc0" points="1131.8,755.5 1111.8,749.9 1102.1,767.7 1122.3,773.4"/>
<polygon fill="url(#pm)" points="1348.7,367.7 1327.3,373.7 1312,488.4 1332.7,486.7"/>
<polygon fill="#769ebf" points="861.8,749.7 842.1,744.9 830.9,765.5 850.7,770.5"/>
<polygon fill="#779fc0" points="1261.7,776.8 1241.6,769.9 1232.7,788.5 1252.9,796"/>
<polygon fill="#769ebf" points="1041.9,751.5 1021.9,746.3 1011.7,764.6 1031.8,769.8"/>
<polygon fill="#769ebf" points="951.8,749.4 932,744.6 921.3,763.9 941.2,768.8"/>
<polygon fill="#769ebf" points="701.5,756.6 682,751.9 670,773 689.5,777.3"/>
<polygon fill="#779fc0" points="1151.9,761.4 1131.8,755.5 1122.3,773.4 1142.5,779.4"/>
<polygon fill="#769ebf" points="791.5,755.6 771.9,750.6 760.3,771.4 780,776.4"/>
<polygon fill="#779fc0" points="1281.9,783.6 1261.7,776.8 1252.9,796 1273.2,803.2"/>
<polygon fill="#769ebf" points="881.6,754.6 861.8,749.7 850.7,770.5 870.6,775.5"/>
<polygon fill="#769ebf" points="1061.9,756.8 1041.9,751.5 1031.8,769.8 1051.9,775.1"/>
<polygon fill="#769ebf" points="971.7,754.4 951.8,749.4 941.2,768.8 961.2,773.8"/>
<polygon fill="#779fc0" points="1172.1,767.9 1151.9,761.4 1142.5,779.4 1162.7,786"/>
<polygon fill="#769ebf" points="721,761.3 701.5,756.6 689.5,777.3 709.1,781.5"/>
<polygon fill="#779fc0" points="1302.2,790.3 1281.9,783.6 1273.2,803.2 1293.6,810.2"/>
<polygon fill="#769ebf" points="811.2,760.6 791.5,755.6 780,776.4 799.8,781.5"/>
<polygon fill="#769ebf" points="650.5,768.7 631.1,764.3 618.8,786 638.3,790"/>
<polygon fill="url(#pm)" points="1370,365.1 1348.7,367.7 1332.7,486.7 1353.5,486.2"/>
<polygon fill="#769ebf" points="901.4,759.3 881.6,754.6 870.6,775.5 890.5,780.4"/>
<polygon fill="#769ebf" points="1082,762.2 1061.9,756.8 1051.9,775.1 1072.1,780.5"/>
<polygon fill="#779fc0" points="1192.2,774.8 1172.1,767.9 1162.7,786 1183,793.2"/>
<polygon fill="#769ebf" points="991.7,759.5 971.7,754.4 961.2,773.8 981.3,779"/>
<polygon fill="#769ebf" points="740.6,766.3 721,761.3 709.1,781.5 728.8,786.5"/>
<polygon fill="#769ebf" points="830.9,765.5 811.2,760.6 799.8,781.5 819.6,786.6"/>
<polygon fill="#779fc0" points="1212.4,781.5 1192.2,774.8 1183,793.2 1203.3,800.2"/>
<polygon fill="#769ebf" points="670,773 650.5,768.7 638.3,790 657.8,794"/>
<polygon fill="#769ebf" points="1102.1,767.7 1082,762.2 1072.1,780.5 1092.3,785.9"/>
<polygon fill="#769ebf" points="921.3,763.9 901.4,759.3 890.5,780.4 910.5,785.3"/>
<polygon fill="#769ebf" points="1011.7,764.6 991.7,759.5 981.3,779 1001.4,784.1"/>
<polygon fill="#769ebf" points="760.3,771.4 740.6,766.3 728.8,786.5 748.6,791.6"/>
<polygon fill="#779fc0" points="1232.7,788.5 1212.4,781.5 1203.3,800.2 1223.6,807.5"/>
<polygon fill="url(#pd)" points="1301.5,246.2 1279,270.6 1263.9,394.1 1285,386.1"/>
<polygon fill="url(#pm)" points="1391.2,364.8 1370,365.1 1353.5,486.2 1374.3,486.9"/>
<polygon fill="#769ebf" points="850.7,770.5 830.9,765.5 819.6,786.6 839.5,791.8"/>
<polygon fill="#779fc0" points="1122.3,773.4 1102.1,767.7 1092.3,785.9 1112.6,791.7"/>
<polygon fill="#769ebf" points="941.2,768.8 921.3,763.9 910.5,785.3 930.5,790.4"/>
<polygon fill="#769ebf" points="689.5,777.3 670,773 657.8,794 677.4,797.9"/>
<polygon fill="#779fc0" points="1252.9,796 1232.7,788.5 1223.6,807.5 1244,815.3"/>
<polygon fill="#769ebf" points="1031.8,769.8 1011.7,764.6 1001.4,784.1 1021.6,789.3"/>
<polygon fill="#769ebf" points="780,776.4 760.3,771.4 748.6,791.6 768.4,796.8"/>
<polygon fill="#769ebf" points="870.6,775.5 850.7,770.5 839.5,791.8 859.5,796.9"/>
<polygon fill="#779fc0" points="1273.2,803.2 1252.9,796 1244,815.3 1264.4,822.8"/>
<polygon fill="#779fc0" points="1142.5,779.4 1122.3,773.4 1112.6,791.7 1133,797.7"/>
<polygon fill="#769ebf" points="961.2,773.8 941.2,768.8 930.5,790.4 950.6,795.5"/>
<polygon fill="#769ebf" points="1051.9,775.1 1031.8,769.8 1021.6,789.3 1041.8,794.6"/>
<polygon fill="#769ebf" points="709.1,781.5 689.5,777.3 677.4,797.9 697,801.7"/>
<polygon fill="#779fc0" points="1293.6,810.2 1273.2,803.2 1264.4,822.8 1284.8,830.1"/>
<polygon fill="#759dbe" points="638.3,790 618.8,786 606.4,808.2 625.9,811.9"/>
<polygon fill="#769ebf" points="799.8,781.5 780,776.4 768.4,796.8 788.2,802"/>
<polygon fill="#779fc0" points="1162.7,786 1142.5,779.4 1133,797.7 1153.3,804.3"/>
<polygon fill="#769ebf" points="890.5,780.4 870.6,775.5 859.5,796.9 879.5,802.2"/>
<polygon fill="#769ebf" points="981.3,779 961.2,773.8 950.6,795.5 970.7,800.6"/>
<polygon fill="#769ebf" points="1072.1,780.5 1051.9,775.1 1041.8,794.6 1062.1,799.9"/>
<polygon fill="#779fc0" points="1183,793.2 1162.7,786 1153.3,804.3 1173.7,811.4"/>
<polygon fill="#769ebf" points="728.8,786.5 709.1,781.5 697,801.7 716.8,806.6"/>
<polygon fill="#769ebf" points="819.6,786.6 799.8,781.5 788.2,802 808.2,807.3"/>
<polygon fill="#769ebf" points="657.8,794 638.3,790 625.9,811.9 645.5,815.6"/>
<polygon fill="#769ebf" points="910.5,785.3 890.5,780.4 879.5,802.2 899.6,807.5"/>
<polygon fill="#779fc0" points="1203.3,800.2 1183,793.2 1173.7,811.4 1194.1,818.4"/>
<polygon fill="#769ebf" points="1001.4,784.1 981.3,779 970.7,800.6 991,805.8"/>
<polygon fill="#769ebf" points="1092.3,785.9 1072.1,780.5 1062.1,799.9 1082.4,805.4"/>
<polygon fill="#769ebf" points="748.6,791.6 728.8,786.5 716.8,806.6 736.7,811.9"/>
<polygon fill="#769ebf" points="839.5,791.8 819.6,786.6 808.2,807.3 828.2,812.5"/>
<polygon fill="url(#pd)" points="1324.3,221.5 1301.5,246.2 1285,386.1 1306.1,379.2"/>
<polygon fill="#769ebf" points="930.5,790.4 910.5,785.3 899.6,807.5 919.7,812.7"/>
<polygon fill="#779fc0" points="1223.6,807.5 1203.3,800.2 1194.1,818.4 1214.6,825.7"/>
<polygon fill="#759dbe" points="677.4,797.9 657.8,794 645.5,815.6 665.2,819.1"/>
<polygon fill="#769ebf" points="1112.6,791.7 1092.3,785.9 1082.4,805.4 1102.8,811.1"/>
<polygon fill="#769ebf" points="1021.6,789.3 1001.4,784.1 991,805.8 1011.2,810.9"/>
<polygon fill="#779fc0" points="1244,815.3 1223.6,807.5 1214.6,825.7 1235,833.5"/>
<polygon fill="#769ebf" points="768.4,796.8 748.6,791.6 736.7,811.9 756.6,817.2"/>
<polygon fill="#769ebf" points="859.5,796.9 839.5,791.8 828.2,812.5 848.2,817.9"/>
<polygon fill="#769ebf" points="950.6,795.5 930.5,790.4 919.7,812.7 939.9,817.8"/>
<polygon fill="#779fc0" points="1264.4,822.8 1244,815.3 1235,833.5 1255.6,841"/>
<polygon fill="#769ebf" points="1133,797.7 1112.6,791.7 1102.8,811.1 1123.3,816.9"/>
<polygon fill="#6f98ba" points="625.9,811.9 606.4,808.2 594,831.3 613.5,834.8"/>
<polygon fill="#769ebf" points="1041.8,794.6 1021.6,789.3 1011.2,810.9 1031.5,816.2"/>
<polygon fill="#759dbe" points="697,801.7 677.4,797.9 665.2,819.1 684.8,822.5"/>
<polygon fill="#769ebf" points="788.2,802 768.4,796.8 756.6,817.2 776.6,822.5"/>
<polygon fill="#769ebf" points="879.5,802.2 859.5,796.9 848.2,817.9 868.3,823.5"/>
<polygon fill="#779fc0" points="1284.8,830.1 1264.4,822.8 1255.6,841 1276.1,848.3"/>
<polygon fill="#769ebf" points="970.7,800.6 950.6,795.5 939.9,817.8 960.1,823"/>
<polygon fill="#779fc0" points="1153.3,804.3 1133,797.7 1123.3,816.9 1143.7,823.4"/>
<polygon fill="#769ebf" points="1062.1,799.9 1041.8,794.6 1031.5,816.2 1051.9,821.5"/>
<polygon fill="#769ebf" points="716.8,806.6 697,801.7 684.8,822.5 704.7,827.4"/>
<polygon fill="#6f98bb" points="645.5,815.6 625.9,811.9 613.5,834.8 633.2,838.2"/>
<polygon fill="#769ebf" points="808.2,807.3 788.2,802 776.6,822.5 796.6,827.9"/>
<polygon fill="#769ebf" points="899.6,807.5 879.5,802.2 868.3,823.5 888.5,829.1"/>
<polygon fill="#779fc0" points="1173.7,811.4 1153.3,804.3 1143.7,823.4 1164.3,830.2"/>
<polygon fill="#769ebf" points="991,805.8 970.7,800.6 960.1,823 980.4,828.1"/>
<polygon fill="#769ebf" points="1082.4,805.4 1062.1,799.9 1051.9,821.5 1072.4,826.8"/>
<polygon fill="#779fc0" points="1194.1,818.4 1173.7,811.4 1164.3,830.2 1184.8,836.9"/>
<polygon fill="#769ebf" points="736.7,811.9 716.8,806.6 704.7,827.4 724.7,832.7"/>
<polygon fill="#769ebf" points="828.2,812.5 808.2,807.3 796.6,827.9 816.7,833.3"/>
<polygon fill="url(#pd)" points="1347.4,196.9 1324.3,221.5 1306.1,379.2 1327.3,373.7"/>
<polygon fill="#769ebf" points="919.7,812.7 899.6,807.5 888.5,829.1 908.7,834.6"/>
<polygon fill="#6f98ba" points="665.2,819.1 645.5,815.6 633.2,838.2 652.8,841.4"/>
<polygon fill="#769ebf" points="1011.2,810.9 991,805.8 980.4,828.1 1000.8,833.3"/>
<polygon fill="#779fc0" points="1214.6,825.7 1194.1,818.4 1184.8,836.9 1205.4,844"/>
<polygon fill="#769ebf" points="1102.8,811.1 1082.4,805.4 1072.4,826.8 1092.9,832.2"/>
<polygon fill="#769ebf" points="756.6,817.2 736.7,811.9 724.7,832.7 744.7,838.2"/>
<polygon fill="#769ebf" points="848.2,817.9 828.2,812.5 816.7,833.3 836.8,838.8"/>
<polygon fill="#769ebf" points="939.9,817.8 919.7,812.7 908.7,834.6 929,839.8"/>
<polygon fill="#6993b7" points="613.5,834.8 594,831.3 581.5,855.5 601.1,858.7"/>
<polygon fill="#779fc0" points="1235,833.5 1214.6,825.7 1205.4,844 1226,851.4"/>
<polygon fill="#769ebf" points="1031.5,816.2 1011.2,810.9 1000.8,833.3 1021.2,838.4"/>
<polygon fill="#6e97ba" points="684.8,822.5 665.2,819.1 652.8,841.4 672.6,844.4"/>
<polygon fill="#769ebf" points="1123.3,816.9 1102.8,811.1 1092.9,832.2 1113.4,837.7"/>
<polygon fill="#769ebf" points="868.3,823.5 848.2,817.9 836.8,838.8 857.1,844.7"/>
<polygon fill="#769ebf" points="776.6,822.5 756.6,817.2 744.7,838.2 764.8,843.6"/>
<polygon fill="#779fc0" points="1255.6,841 1235,833.5 1226,851.4 1246.7,858.6"/>
<polygon fill="#769ebf" points="960.1,823 939.9,817.8 929,839.8 949.3,844.9"/>
<polygon fill="#769ebf" points="1051.9,821.5 1031.5,816.2 1021.2,838.4 1041.7,843.5"/>
<polygon fill="#6a93b7" points="633.2,838.2 613.5,834.8 601.1,858.7 620.8,861.9"/>
<polygon fill="#769ebf" points="1143.7,823.4 1123.3,816.9 1113.4,837.7 1134,843.5"/>
<polygon fill="#779fc0" points="1276.1,848.3 1255.6,841 1246.7,858.6 1267.4,865.7"/>
<polygon fill="#769ebf" points="704.7,827.4 684.8,822.5 672.6,844.4 692.5,849.3"/>
<polygon fill="#769ebf" points="888.5,829.1 868.3,823.5 857.1,844.7 877.3,850.7"/>
<polygon fill="#769ebf" points="796.6,827.9 776.6,822.5 764.8,843.6 784.9,849.1"/>
<polygon fill="#769ebf" points="980.4,828.1 960.1,823 949.3,844.9 969.7,850.1"/>
<polygon fill="#779fc0" points="1164.3,830.2 1143.7,823.4 1134,843.5 1154.7,849.5"/>
<polygon fill="#769ebf" points="1072.4,826.8 1051.9,821.5 1041.7,843.5 1062.2,848.6"/>
<polygon fill="url(#pd)" points="1370.8,172.5 1347.4,196.9 1327.3,373.7 1348.7,367.7"/>
<polygon fill="#769ebf" points="724.7,832.7 704.7,827.4 692.5,849.3 712.6,854.7"/>
<polygon fill="#769ebf" points="908.7,834.6 888.5,829.1 877.3,850.7 897.7,856.4"/>
<polygon fill="#6892b6" points="652.8,841.4 633.2,838.2 620.8,861.9 640.5,864.8"/>
<polygon fill="#769ebf" points="816.7,833.3 796.6,827.9 784.9,849.1 805.1,854.7"/>
<polygon fill="#769ebf" points="1000.8,833.3 980.4,828.1 969.7,850.1 990.2,855.2"/>
<polygon fill="#779fc0" points="1184.8,836.9 1164.3,830.2 1154.7,849.5 1175.4,855.4"/>
<polygon fill="#769ebf" points="1092.9,832.2 1072.4,826.8 1062.2,848.6 1082.8,853.6"/>
<polygon fill="#658fb3" points="601.1,858.7 581.5,855.5 568.9,880.4 588.5,883.4"/>
<polygon fill="#769ebf" points="744.7,838.2 724.7,832.7 712.6,854.7 732.7,860.2"/>
<polygon fill="#769ebf" points="929,839.8 908.7,834.6 897.7,856.4 918,861.6"/>
<polygon fill="#769ebf" points="836.8,838.8 816.7,833.3 805.1,854.7 825.3,860.4"/>
<polygon fill="#779fc0" points="1205.4,844 1184.8,836.9 1175.4,855.4 1196.2,861.4"/>
<polygon fill="#769ebf" points="1021.2,838.4 1000.8,833.3 990.2,855.2 1010.7,860.2"/>
<polygon fill="#6791b5" points="672.6,844.4 652.8,841.4 640.5,864.8 660.3,867.4"/>
<polygon fill="#769ebf" points="1113.4,837.7 1092.9,832.2 1082.8,853.6 1103.5,858.6"/>
<polygon fill="#769ebf" points="764.8,843.6 744.7,838.2 732.7,860.2 752.9,865.8"/>
<polygon fill="#779fc0" points="1226,851.4 1205.4,844 1196.2,861.4 1217,867.7"/>
<polygon fill="#769ebf" points="857.1,844.7 836.8,838.8 825.3,860.4 845.7,866.5"/>
<polygon fill="#769ebf" points="949.3,844.9 929,839.8 918,861.6 938.4,866.8"/>
<polygon fill="#658fb3" points="620.8,861.9 601.1,858.7 588.5,883.4 608.3,886.4"/>
<polygon fill="#769ebf" points="1041.7,843.5 1021.2,838.4 1010.7,860.2 1031.3,865.1"/>
<polygon fill="#769ebf" points="692.5,849.3 672.6,844.4 660.3,867.4 680.3,872.3"/>
<polygon fill="#769ebf" points="1134,843.5 1113.4,837.7 1103.5,858.6 1124.2,863.2"/>
<polygon fill="#779fc0" points="1246.7,858.6 1226,851.4 1217,867.7 1237.8,873.9"/>
<polygon fill="#769ebf" points="877.3,850.7 857.1,844.7 845.7,866.5 866,872.9"/>
<polygon fill="#769ebf" points="784.9,849.1 764.8,843.6 752.9,865.8 773.1,871.4"/>
<polygon fill="#769ebf" points="969.7,850.1 949.3,844.9 938.4,866.8 958.9,871.9"/>
<polygon fill="url(#pm)" points="1393.9,156.2 1370.8,172.5 1348.7,367.7 1370,365.1"/>
<polygon fill="#769ebf" points="1062.2,848.6 1041.7,843.5 1031.3,865.1 1051.9,870"/>
<polygon fill="#638db1" points="640.5,864.8 620.8,861.9 608.3,886.4 628,889.1"/>
<polygon fill="#779fc0" points="1267.4,865.7 1246.7,858.6 1237.8,873.9 1258.7,880.1"/>
<polygon fill="#769ebf" points="712.6,854.7 692.5,849.3 680.3,872.3 700.4,877.8"/>
<polygon fill="#769ebf" points="1154.7,849.5 1134,843.5 1124.2,863.2 1145.1,867.7"/>
<polygon fill="#769ebf" points="897.7,856.4 877.3,850.7 866,872.9 886.5,878.7"/>
<polygon fill="#769ebf" points="805.1,854.7 784.9,849.1 773.1,871.4 793.4,877.2"/>
<polygon fill="#769ebf" points="990.2,855.2 969.7,850.1 958.9,871.9 979.5,877"/>
<polygon fill="#769ebf" points="1082.8,853.6 1062.2,848.6 1051.9,870 1072.6,874.6"/>
<polygon fill="#769ebf" points="732.7,860.2 712.6,854.7 700.4,877.8 720.6,883.5"/>
<polygon fill="#769ebf" points="1175.4,855.4 1154.7,849.5 1145.1,867.7 1165.9,872.3"/>
<polygon fill="#769ebf" points="918,861.6 897.7,856.4 886.5,878.7 906.9,884"/>
<polygon fill="#769ebf" points="825.3,860.4 805.1,854.7 793.4,877.2 813.7,883"/>
<polygon fill="#608aae" points="660.3,867.4 640.5,864.8 628,889.1 647.9,891.4"/>
<polygon fill="#769ebf" points="1010.7,860.2 990.2,855.2 979.5,877 1000.1,882"/>
<polygon fill="#769ebf" points="752.9,865.8 732.7,860.2 720.6,883.5 740.9,889.2"/>
<polygon fill="#769ebf" points="1103.5,858.6 1082.8,853.6 1072.6,874.6 1093.4,878.9"/>
<polygon fill="#769ebf" points="845.7,866.5 825.3,860.4 813.7,883 834.2,889.5"/>
<polygon fill="#769ebf" points="1196.2,861.4 1175.4,855.4 1165.9,872.3 1186.9,876.6"/>
<polygon fill="#769ebf" points="938.4,866.8 918,861.6 906.9,884 927.4,889.2"/>
<polygon fill="url(#pm)" points="1416.7,146 1393.9,156.2 1370,365.1 1391.2,364.8"/>
<polygon fill="#769ebf" points="680.3,872.3 660.3,867.4 647.9,891.4 668,896.2"/>
<polygon fill="#769ebf" points="1031.3,865.1 1010.7,860.2 1000.1,882 1020.8,886.7"/>
<polygon fill="#769ebf" points="866,872.9 845.7,866.5 834.2,889.5 854.6,896.1"/>
<polygon fill="#769ebf" points="773.1,871.4 752.9,865.8 740.9,889.2 761.2,894.9"/>
<polygon fill="#769ebf" points="1124.2,863.2 1103.5,858.6 1093.4,878.9 1114.3,882.4"/>
<polygon fill="#779fc0" points="1217,867.7 1196.2,861.4 1186.9,876.6 1208,880.8"/>
<polygon fill="#769ebf" points="958.9,871.9 938.4,866.8 927.4,889.2 948,894.4"/>
<polygon fill="#769ebf" points="700.4,877.8 680.3,872.3 668,896.2 688.2,901.9"/>
<polygon fill="#769ebf" points="1051.9,870 1031.3,865.1 1020.8,886.7 1041.5,891.4"/>
<polygon fill="#769ebf" points="886.5,878.7 866,872.9 854.6,896.1 875.2,902.1"/>
<polygon fill="#769ebf" points="793.4,877.2 773.1,871.4 761.2,894.9 781.6,900.8"/>
<polygon fill="#779fc0" points="1237.8,873.9 1217,867.7 1208,880.8 1229.1,885"/>
<polygon fill="#769ebf" points="979.5,877 958.9,871.9 948,894.4 968.7,899.4"/>
<polygon fill="#769ebf" points="1145.1,867.7 1124.2,863.2 1114.3,882.4 1135.3,885.3"/>
<polygon fill="#769ebf" points="720.6,883.5 700.4,877.8 688.2,901.9 708.5,907.6"/>
<polygon fill="#769ebf" points="906.9,884 886.5,878.7 875.2,902.1 895.7,907.5"/>
<polygon fill="#769ebf" points="1072.6,874.6 1051.9,870 1041.5,891.4 1062.4,895.6"/>
<polygon fill="#769ebf" points="813.7,883 793.4,877.2 781.6,900.8 802.1,906.8"/>
<polygon fill="#779fc0" points="1258.7,880.1 1237.8,873.9 1229.1,885 1250.3,889.3"/>
<polygon fill="#769ebf" points="1000.1,882 979.5,877 968.7,899.4 989.4,904.3"/>
<polygon fill="#769ebf" points="740.9,889.2 720.6,883.5 708.5,907.6 728.9,913.4"/>
<polygon fill="#769ebf" points="1165.9,872.3 1145.1,867.7 1135.3,885.3 1156.4,888.3"/>
<polygon fill="#769ebf" points="834.2,889.5 813.7,883 802.1,906.8 822.6,913.5"/>
<polygon fill="#769ebf" points="927.4,889.2 906.9,884 895.7,907.5 916.3,912.7"/>
<polygon fill="#769ebf" points="1093.4,878.9 1072.6,874.6 1062.4,895.6 1083.3,899.3"/>
<polygon fill="#769ebf" points="1020.8,886.7 1000.1,882 989.4,904.3 1010.2,908.9"/>
<polygon fill="#769ebf" points="761.2,894.9 740.9,889.2 728.9,913.4 749.3,919.3"/>
<polygon fill="#769ebf" points="854.6,896.1 834.2,889.5 822.6,913.5 843.2,920.4"/>
<polygon fill="#769ebf" points="948,894.4 927.4,889.2 916.3,912.7 937,917.9"/>
<polygon fill="#769ebf" points="1186.9,876.6 1165.9,872.3 1156.4,888.3 1177.6,890.6"/>
<polygon fill="#719abc" points="1114.3,882.4 1093.4,878.9 1083.3,899.3 1104.3,901.7"/>
<polygon fill="#769ebf" points="875.2,902.1 854.6,896.1 843.2,920.4 863.8,926.6"/>
<polygon fill="#769ebf" points="781.6,900.8 761.2,894.9 749.3,919.3 769.7,925.3"/>
<polygon fill="#769ebf" points="1041.5,891.4 1020.8,886.7 1010.2,908.9 1031,913.4"/>
<polygon fill="#769ebf" points="968.7,899.4 948,894.4 937,917.9 957.8,922.9"/>
<polygon fill="#769ebf" points="895.7,907.5 875.2,902.1 863.8,926.6 884.4,932"/>
<polygon fill="#769ebf" points="802.1,906.8 781.6,900.8 769.7,925.3 790.3,931.5"/>
<polygon fill="#769ebf" points="1208,880.8 1186.9,876.6 1177.6,890.6 1198.9,892.1"/>
<polygon fill="#769ebf" points="1062.4,895.6 1041.5,891.4 1031,913.4 1052,917.2"/>
<polygon fill="#6a94b7" points="1135.3,885.3 1114.3,882.4 1104.3,901.7 1125.5,902.9"/>
<polygon fill="#769ebf" points="989.4,904.3 968.7,899.4 957.8,922.9 978.6,927.7"/>
<polygon fill="#769ebf" points="822.6,913.5 802.1,906.8 790.3,931.5 810.9,938.4"/>
<polygon fill="#769ebf" points="916.3,912.7 895.7,907.5 884.4,932 905.1,937.3"/>
<polygon fill="#769ebf" points="1229.1,885 1208,880.8 1198.9,892.1 1220.4,893.8"/>
<polygon fill="#769ebf" points="843.2,920.4 822.6,913.5 810.9,938.4 831.6,945.6"/>
<polygon fill="#739bbd" points="1083.3,899.3 1062.4,895.6 1052,917.2 1073,920.4"/>
<polygon fill="#769ebf" points="1010.2,908.9 989.4,904.3 978.6,927.7 999.4,932.2"/>
<polygon fill="#6f98bb" points="1156.4,888.3 1135.3,885.3 1125.5,902.9 1146.7,904.3"/>
<polygon fill="#769ebf" points="937,917.9 916.3,912.7 905.1,937.3 925.9,942.5"/>
<polygon fill="#769ebf" points="863.8,926.6 843.2,920.4 831.6,945.6 852.3,952"/>
<polygon fill="#769ebf" points="1250.3,889.3 1229.1,885 1220.4,893.8 1241.9,895.6"/>
<polygon fill="#769ebf" points="1031,913.4 1010.2,908.9 999.4,932.2 1020.4,936.5"/>
<polygon fill="#769ebf" points="957.8,922.9 937,917.9 925.9,942.5 946.7,947.5"/>
<polygon fill="#638db1" points="1104.3,901.7 1083.3,899.3 1073,920.4 1094.2,921.7"/>
<polygon fill="#769ebf" points="884.4,932 863.8,926.6 852.3,952 873,957.4"/>
<polygon fill="#6993b6" points="1177.6,890.6 1156.4,888.3 1146.7,904.3 1168.2,904.4"/>
<polygon fill="#719abc" points="1052,917.2 1031,913.4 1020.4,936.5 1041.4,940"/>
<polygon fill="#769ebf" points="978.6,927.7 957.8,922.9 946.7,947.5 967.6,952.2"/>
<polygon fill="#769ebf" points="905.1,937.3 884.4,932 873,957.4 893.8,962.7"/>
<polygon fill="#5681a4" points="1125.5,902.9 1104.3,901.7 1094.2,921.7 1115.5,921.3"/>
<polygon fill="#608bae" points="1198.9,892.1 1177.6,890.6 1168.2,904.4 1189.8,903.1"/>
<polygon fill="#749dbe" points="999.4,932.2 978.6,927.7 967.6,952.2 988.6,956.7"/>
<polygon fill="#769ebf" points="925.9,942.5 905.1,937.3 893.8,962.7 914.7,967.9"/>
<polygon fill="#6a94b7" points="1073,920.4 1052,917.2 1041.4,940 1062.6,942.7"/>
<polygon fill="#769ebf" points="946.7,947.5 925.9,942.5 914.7,967.9 935.6,973"/>
<polygon fill="#729abc" points="1020.4,936.5 999.4,932.2 988.6,956.7 1009.6,960.7"/>
<polygon fill="#5c86aa" points="1146.7,904.3 1125.5,902.9 1115.5,921.3 1136.9,921"/>
<polygon fill="#547ea1" points="1094.2,921.7 1073,920.4 1062.6,942.7 1083.8,942.9"/>
<polygon fill="#6690b4" points="1220.4,893.8 1198.9,892.1 1189.8,903.1 1211.5,901.8"/>
<polygon fill="#749cbe" points="967.6,952.2 946.7,947.5 935.6,973 956.6,977.6"/>
<polygon fill="#6a94b7" points="1041.4,940 1020.4,936.5 1009.6,960.7 1030.8,964"/>
<polygon fill="#517b9e" points="1168.2,904.4 1146.7,904.3 1136.9,921 1158.6,918.8"/>
<polygon fill="#719abc" points="988.6,956.7 967.6,952.2 956.6,977.6 977.6,982"/>
<polygon fill="#6892b6" points="1241.9,895.6 1220.4,893.8 1211.5,901.8 1233.4,900.4"/>
<polygon fill="#477294" points="1115.5,921.3 1094.2,921.7 1083.8,942.9 1105.3,940.8"/>
<polygon fill="#618baf" points="1062.6,942.7 1041.4,940 1030.8,964 1052,966.1"/>
<polygon fill="#6e97ba" points="1009.6,960.7 988.6,956.7 977.6,982 998.7,985.9"/>
<polygon fill="#477193" points="1189.8,903.1 1168.2,904.4 1158.6,918.8 1180.5,914.2"/>
<polygon fill="#4a7496" points="1083.8,942.9 1062.6,942.7 1052,966.1 1073.4,965.3"/>
<polygon fill="#4b7698" points="1136.9,921 1115.5,921.3 1105.3,940.8 1126.9,938.7"/>
<polygon fill="#648eb2" points="1030.8,964 1009.6,960.7 998.7,985.9 1020,988.9"/>
<polygon fill="#5883a6" points="1052,966.1 1030.8,964 1020,988.9 1041.3,990.6"/>
<polygon fill="#4b7698" points="1211.5,901.8 1189.8,903.1 1180.5,914.2 1202.5,909.6"/>
<polygon fill="#406889" points="1105.3,940.8 1083.8,942.9 1073.4,965.3 1095,961.5"/>
<polygon fill="#426b8d" points="1158.6,918.8 1136.9,921 1126.9,938.7 1148.8,934"/>
<polygon fill="#436c8e" points="1073.4,965.3 1052,966.1 1041.3,990.6 1062.8,988.8"/>
<polygon fill="#4d789a" points="1233.4,900.4 1211.5,901.8 1202.5,909.6 1224.8,904.5"/>
<polygon fill="#416a8b" points="1126.9,938.7 1105.3,940.8 1095,961.5 1116.8,957.6"/>
<polygon fill="url(#pb)" points="1180.5,914.2 1158.6,918.8 1148.8,934 1171,925.7"/>
<polygon fill="url(#pb)" points="1095,961.5 1073.4,965.3 1062.8,988.8 1084.5,983.4"/>
<polygon fill="url(#pb)" points="1148.8,934 1126.9,938.7 1116.8,957.6 1138.8,950.2"/>
<polygon fill="#3e6686" points="1202.5,909.6 1180.5,914.2 1171,925.7 1193.4,917.1"/>
<polygon fill="url(#pb)" points="1116.8,957.6 1095,961.5 1084.5,983.4 1106.4,977.7"/>
<polygon fill="url(#pb)" points="1171,925.7 1148.8,934 1138.8,950.2 1161.3,937.8"/>
<polygon fill="#3f6788" points="1224.8,904.5 1202.5,909.6 1193.4,917.1 1216.1,907.4"/>
<polygon fill="url(#pb)" points="1138.8,950.2 1116.8,957.6 1106.4,977.7 1128.7,967.4"/>
<polygon fill="url(#pb)" points="1193.4,917.1 1171,925.7 1161.3,937.8 1184.1,924.3"/>
<polygon fill="url(#pm)" points="1161.3,937.8 1138.8,950.2 1128.7,967.4 1151.5,950.4"/>
<polygon fill="url(#pb)" points="1216.1,907.4 1193.4,917.1 1184.1,924.3 1207.3,909.2"/>
<polygon fill="url(#pm)" points="1184.1,924.3 1161.3,937.8 1151.5,950.4 1174.6,931.6"/>
<polygon fill="url(#pm)" points="1207.3,909.2 1184.1,924.3 1174.6,931.6 1198.3,909.9"/>
</g>
<g stroke="#0a1a30" stroke-width="3" fill="none" opacity="0.45">
<line x1="520.9" y1="391.5" x2="1216.1" y2="552.6" stroke-dasharray="6.5 10.5"/>
<line x1="1216.1" y1="552.6" x2="1416.8" y2="145" stroke-dasharray="6.5 10.5"/>
<line x1="1190.3" y1="1070.3" x2="1216.1" y2="552.6" stroke-dasharray="6.5 10.5"/>
</g>
<g stroke="#1a1a1a" stroke-width="4" stroke-linecap="butt" fill="none">
<line x1="1104.5" y1="1047.3" x2="1097.6" y2="1075.2"/>
<line x1="998.7" y1="1018.8" x2="991.8" y2="1046.6"/>
<line x1="894.4" y1="990.8" x2="887.6" y2="1018.3"/>
<line x1="791.8" y1="963.2" x2="784.9" y2="990.5"/>
<line x1="690.6" y1="936" x2="683.8" y2="963.1"/>
<line x1="591" y1="909.2" x2="584.1" y2="936.1"/>
<line x1="1373.7" y1="645.6" x2="1390" y2="663.2"/>
<line x1="1333.9" y1="737.8" x2="1350.7" y2="755.7"/>
<line x1="1291.8" y1="835.3" x2="1309.1" y2="853.5"/>
<line x1="1247.3" y1="938.4" x2="1265.2" y2="957"/>
<line x1="1200.1" y1="1047.7" x2="1218.6" y2="1066.6"/>
<line x1="567.6" y1="867" x2="539.5" y2="875.9"/>
<line x1="559.2" y1="781.4" x2="530.5" y2="790.3"/>
<line x1="550.4" y1="692.3" x2="521.2" y2="701.2"/>
<line x1="541.3" y1="599.5" x2="511.4" y2="608.3"/>
<line x1="531.8" y1="502.8" x2="501.3" y2="511.5"/>
<line x1="521.9" y1="401.8" x2="490.6" y2="410.4"/>
</g>
<text x="1099" y="1117.3" font-size="48.5" text-anchor="middle" textLength="27.9" lengthAdjust="spacingAndGlyphs">5</text>
<text x="994.2" y="1095.3" font-size="48.5" text-anchor="middle" textLength="55.8" lengthAdjust="spacingAndGlyphs">10</text>
<text x="891.2" y="1064.9" font-size="48.5" text-anchor="middle" textLength="55.8" lengthAdjust="spacingAndGlyphs">15</text>
<text x="788.2" y="1037.9" font-size="48.5" text-anchor="middle" textLength="55.8" lengthAdjust="spacingAndGlyphs">20</text>
<text x="685.1" y="1010.9" font-size="48.5" text-anchor="middle" textLength="55.8" lengthAdjust="spacingAndGlyphs">25</text>
<text x="588.8" y="982.2" font-size="48.5" text-anchor="middle" textLength="55.8" lengthAdjust="spacingAndGlyphs">30</text>
<text x="1405.8" y="700.2" font-size="48.5" text-anchor="middle" textLength="27.9" lengthAdjust="spacingAndGlyphs">0</text>
<text x="1361.6" y="802.2" font-size="48.5" text-anchor="middle" textLength="27.9" lengthAdjust="spacingAndGlyphs">5</text>
<text x="1332.8" y="904.1" font-size="48.5" text-anchor="middle" textLength="55.8" lengthAdjust="spacingAndGlyphs">10</text>
<text x="1288.6" y="1006" font-size="48.5" text-anchor="middle" textLength="55.8" lengthAdjust="spacingAndGlyphs">15</text>
<text x="1242.7" y="1108" font-size="48.5" text-anchor="middle" textLength="55.8" lengthAdjust="spacingAndGlyphs">20</text>
<text x="542" y="903.6" font-size="48.5" text-anchor="end" textLength="27.9" lengthAdjust="spacingAndGlyphs">1</text>
<text x="529" y="809" font-size="48.5" text-anchor="end" textLength="27.9" lengthAdjust="spacingAndGlyphs">2</text>
<text x="519.7" y="719.9" font-size="48.5" text-anchor="end" textLength="27.9" lengthAdjust="spacingAndGlyphs">3</text>
<text x="509.9" y="627" font-size="48.5" text-anchor="end" textLength="27.9" lengthAdjust="spacingAndGlyphs">4</text>
<text x="499.8" y="530.2" font-size="48.5" text-anchor="end" textLength="27.9" lengthAdjust="spacingAndGlyphs">5</text>
<text x="489.1" y="429.1" font-size="48.5" text-anchor="end" textLength="27.9" lengthAdjust="spacingAndGlyphs">6</text>
<text transform="translate(576.5 1050.7) rotate(15.7)" font-size="48.5" text-anchor="start" textLength="521.2" lengthAdjust="spacingAndGlyphs">Mean temperature (°C)</text>
<text transform="translate(1419.3 944) rotate(-69)" font-size="48.5" text-anchor="start" textLength="75.4" lengthAdjust="spacingAndGlyphs">Lag</text>
<text transform="translate(420 658) rotate(-90)" font-size="48.5" text-anchor="middle" textLength="375.7" lengthAdjust="spacingAndGlyphs">Relative risk (<tspan font-style="italic">RR</tspan>)</text>
<text x="671.6" y="1272.5" font-size="48.5" text-anchor="start" textLength="496.6" lengthAdjust="spacingAndGlyphs">A. Eastern Guangdong</text>
<g stroke="#1a1a1a" stroke-width="4.2" stroke-linecap="square" fill="none">
<line x1="1848.9" y1="389.5" x2="2128.2" y2="12.9"/>
<line x1="2128.2" y1="12.9" x2="2759.3" y2="139.1"/>
<line x1="2128.2" y1="12.9" x2="2147" y2="513.7"/>
<line x1="1848.9" y1="389.5" x2="1900.1" y2="910.2"/>
<line x1="2759.3" y1="139.1" x2="2715.5" y2="647.7"/>
<line x1="1900.1" y1="910.2" x2="2529.1" y2="1079.4"/>
<line x1="2529.1" y1="1079.4" x2="2715.5" y2="647.7"/>
<line x1="1900.1" y1="910.2" x2="2147" y2="513.7"/>
<line x1="2147" y1="513.7" x2="2715.5" y2="647.7"/>
<line x1="1848.9" y1="389.5" x2="2555.4" y2="553.2" stroke-dasharray="6.5 10.5"/>
<line x1="2555.4" y1="553.2" x2="2759.3" y2="139.1" stroke-dasharray="6.5 10.5"/>
<line x1="2529.1" y1="1079.4" x2="2555.4" y2="553.2" stroke-dasharray="6.5 10.5"/>
</g>
<g stroke="#071c3a" stroke-width="4.5" stroke-linejoin="round">
<polygon fill="#769ebf" points="2165.2,516.7 2147,513.4 2136.1,523.4 2154.5,526.9"/>
<polygon fill="#769ebf" points="2183.4,519.5 2165.2,516.7 2154.5,526.9 2172.8,530"/>
<polygon fill="#769ebf" points="2201.7,522 2183.4,519.5 2172.8,530 2191.2,532.8"/>
<polygon fill="#769ebf" points="2220,523.7 2201.7,522 2191.2,532.8 2209.7,535"/>
<polygon fill="#769ebf" points="2154.5,526.9 2136.1,523.4 2125.3,535.5 2143.7,539.3"/>
<polygon fill="#719abc" points="2238.4,524.6 2220,523.7 2209.7,535 2228.2,536.5"/>
<polygon fill="#769ebf" points="2172.8,530 2154.5,526.9 2143.7,539.3 2162.1,542.7"/>
<polygon fill="#628cb0" points="2256.9,524 2238.4,524.6 2228.2,536.5 2246.7,537"/>
<polygon fill="#769ebf" points="2191.2,532.8 2172.8,530 2162.1,542.7 2180.6,545.9"/>
<polygon fill="#769ebf" points="2209.7,535 2191.2,532.8 2180.6,545.9 2199.2,548.6"/>
<polygon fill="#4f799c" points="2275.4,521.6 2256.9,524 2246.7,537 2265.3,536.1"/>
<polygon fill="#769ebf" points="2143.7,539.3 2125.3,535.5 2114.3,549 2132.8,552.9"/>
<polygon fill="#749cbe" points="2228.2,536.5 2209.7,535 2199.2,548.6 2217.8,550.9"/>
<polygon fill="#769ebf" points="2162.1,542.7 2143.7,539.3 2132.8,552.9 2151.4,556.5"/>
<polygon fill="#487294" points="2294,518.3 2275.4,521.6 2265.3,536.1 2284,534.7"/>
<polygon fill="#6892b6" points="2246.7,537 2228.2,536.5 2217.8,550.9 2236.5,552.4"/>
<polygon fill="#769ebf" points="2180.6,545.9 2162.1,542.7 2151.4,556.5 2170,559.9"/>
<polygon fill="#426c8d" points="2312.7,514.3 2294,518.3 2284,534.7 2302.8,532.9"/>
<polygon fill="#5782a5" points="2265.3,536.1 2246.7,537 2236.5,552.4 2255.2,552.9"/>
<polygon fill="#769ebf" points="2199.2,548.6 2180.6,545.9 2170,559.9 2188.6,563.1"/>
<polygon fill="#769ebf" points="2132.8,552.9 2114.3,549 2103.2,563 2121.8,566.9"/>
<polygon fill="#769ebf" points="2217.8,550.9 2199.2,548.6 2188.6,563.1 2207.4,565.8"/>
<polygon fill="#517c9f" points="2284,534.7 2265.3,536.1 2255.2,552.9 2274,553.2"/>
<polygon fill="#3e6686" points="2331.6,509.1 2312.7,514.3 2302.8,532.9 2321.7,530.4"/>
<polygon fill="#769ebf" points="2151.4,556.5 2132.8,552.9 2121.8,566.9 2140.5,570.7"/>
<polygon fill="#7199bc" points="2236.5,552.4 2217.8,550.9 2207.4,565.8 2226.1,568"/>
<polygon fill="#769ebf" points="2170,559.9 2151.4,556.5 2140.5,570.7 2159.2,574.5"/>
<polygon fill="#4c7698" points="2302.8,532.9 2284,534.7 2274,553.2 2292.9,553.3"/>
<polygon fill="#6590b3" points="2255.2,552.9 2236.5,552.4 2226.1,568 2244.9,569.5"/>
<polygon fill="#769ebf" points="2188.6,563.1 2170,559.9 2159.2,574.5 2178,578.1"/>
<polygon fill="url(#pb)" points="2350.5,502.5 2331.6,509.1 2321.7,530.4 2340.8,527.1"/>
<polygon fill="#446e90" points="2321.7,530.4 2302.8,532.9 2292.9,553.3 2311.8,553"/>
<polygon fill="#769ebf" points="2121.8,566.9 2103.2,563 2092,577 2110.7,581.1"/>
<polygon fill="#769ebf" points="2207.4,565.8 2188.6,563.1 2178,578.1 2196.8,581.5"/>
<polygon fill="#618baf" points="2274,553.2 2255.2,552.9 2244.9,569.5 2263.8,570.9"/>
<polygon fill="#769ebf" points="2140.5,570.7 2121.8,566.9 2110.7,581.1 2129.5,585.1"/>
<polygon fill="#769ebf" points="2226.1,568 2207.4,565.8 2196.8,581.5 2215.7,584.6"/>
<polygon fill="url(#pb)" points="2369.7,494.3 2350.5,502.5 2340.8,527.1 2359.9,523"/>
<polygon fill="#5c86aa" points="2292.9,553.3 2274,553.2 2263.8,570.9 2282.8,572.1"/>
<polygon fill="#40698a" points="2340.8,527.1 2321.7,530.4 2311.8,553 2330.9,552.3"/>
<polygon fill="#769ebf" points="2159.2,574.5 2140.5,570.7 2129.5,585.1 2148.3,589.3"/>
<polygon fill="#6f98ba" points="2244.9,569.5 2226.1,568 2215.7,584.6 2234.6,587.3"/>
<polygon fill="#769ebf" points="2178,578.1 2159.2,574.5 2148.3,589.3 2167.2,593.4"/>
<polygon fill="#5580a3" points="2311.8,553 2292.9,553.3 2282.8,572.1 2301.8,573.1"/>
<polygon fill="url(#pb)" points="2359.9,523 2340.8,527.1 2330.9,552.3 2350.1,551.1"/>
<polygon fill="#6a94b8" points="2263.8,570.9 2244.9,569.5 2234.6,587.3 2253.6,589.9"/>
<polygon fill="url(#pm)" points="2389,484.4 2369.7,494.3 2359.9,523 2379.2,518.1"/>
<polygon fill="#769ebf" points="2196.8,581.5 2178,578.1 2167.2,593.4 2186.1,597.4"/>
<polygon fill="#769ebf" points="2110.7,581.1 2092,577 2080.6,591.5 2099.5,595.7"/>
<polygon fill="#507a9d" points="2330.9,552.3 2311.8,553 2301.8,573.1 2321,573.8"/>
<polygon fill="#6690b4" points="2282.8,572.1 2263.8,570.9 2253.6,589.9 2272.6,592.4"/>
<polygon fill="#769ebf" points="2129.5,585.1 2110.7,581.1 2099.5,595.7 2118.3,600"/>
<polygon fill="#769ebf" points="2215.7,584.6 2196.8,581.5 2186.1,597.4 2205.1,601.2"/>
<polygon fill="url(#pb)" points="2379.2,518.1 2359.9,523 2350.1,551.1 2369.3,549.6"/>
<polygon fill="#769ebf" points="2148.3,589.3 2129.5,585.1 2118.3,600 2137.3,604.4"/>
<polygon fill="#769ebf" points="2234.6,587.3 2215.7,584.6 2205.1,601.2 2224.1,604.9"/>
<polygon fill="#4a7597" points="2350.1,551.1 2330.9,552.3 2321,573.8 2340.2,574.3"/>
<polygon fill="#608aae" points="2301.8,573.1 2282.8,572.1 2272.6,592.4 2291.8,594.9"/>
<polygon fill="url(#pm)" points="2408.5,472.7 2389,484.4 2379.2,518.1 2398.6,512.8"/>
<polygon fill="#769ebf" points="2167.2,593.4 2148.3,589.3 2137.3,604.4 2156.2,608.8"/>
<polygon fill="#769ebf" points="2253.6,589.9 2234.6,587.3 2224.1,604.9 2243.2,608.6"/>
<polygon fill="url(#pb)" points="2398.6,512.8 2379.2,518.1 2369.3,549.6 2388.7,547.6"/>
<polygon fill="#5984a7" points="2321,573.8 2301.8,573.1 2291.8,594.9 2310.9,597.2"/>
<polygon fill="#456f91" points="2369.3,549.6 2350.1,551.1 2340.2,574.3 2359.5,574.6"/>
<polygon fill="#769ebf" points="2186.1,597.4 2167.2,593.4 2156.2,608.8 2175.3,613.2"/>
<polygon fill="#769ebf" points="2099.5,595.7 2080.6,591.5 2069.2,606.9 2088.1,611.4"/>
<polygon fill="#749cbe" points="2272.6,592.4 2253.6,589.9 2243.2,608.6 2262.4,612.3"/>
<polygon fill="#769ebf" points="2205.1,601.2 2186.1,597.4 2175.3,613.2 2194.4,617.5"/>
<polygon fill="#769ebf" points="2118.3,600 2099.5,595.7 2088.1,611.4 2107.1,615.9"/>
<polygon fill="#537ea0" points="2340.2,574.3 2321,573.8 2310.9,597.2 2330.2,599.5"/>
<polygon fill="url(#pd)" points="2428.2,459.1 2408.5,472.7 2398.6,512.8 2418.1,506.9"/>
<polygon fill="#7099bb" points="2291.8,594.9 2272.6,592.4 2262.4,612.3 2281.6,615.9"/>
<polygon fill="#426b8d" points="2388.7,547.6 2369.3,549.6 2359.5,574.6 2378.9,574.7"/>
<polygon fill="url(#pb)" points="2418.1,506.9 2398.6,512.8 2388.7,547.6 2408.2,545.3"/>
<polygon fill="#769ebf" points="2224.1,604.9 2205.1,601.2 2194.4,617.5 2213.5,621.8"/>
<polygon fill="#769ebf" points="2137.3,604.4 2118.3,600 2107.1,615.9 2126.1,620.5"/>
<polygon fill="#4e799b" points="2359.5,574.6 2340.2,574.3 2330.2,599.5 2349.6,601.6"/>
<polygon fill="#6c96b9" points="2310.9,597.2 2291.8,594.9 2281.6,615.9 2300.8,619.5"/>
<polygon fill="#769ebf" points="2156.2,608.8 2137.3,604.4 2126.1,620.5 2145.2,625.1"/>
<polygon fill="#769ebf" points="2243.2,608.6 2224.1,604.9 2213.5,621.8 2232.7,626"/>
<polygon fill="#406889" points="2408.2,545.3 2388.7,547.6 2378.9,574.7 2398.4,574.5"/>
<polygon fill="#769ebf" points="2175.3,613.2 2156.2,608.8 2145.2,625.1 2164.3,629.7"/>
<polygon fill="#6791b5" points="2330.2,599.5 2310.9,597.2 2300.8,619.5 2320.2,623"/>
<polygon fill="#497396" points="2378.9,574.7 2359.5,574.6 2349.6,601.6 2369,603.7"/>
<polygon fill="#769ebf" points="2262.4,612.3 2243.2,608.6 2232.7,626 2251.9,630.3"/>
<polygon fill="#769ebf" points="2088.1,611.4 2069.2,606.9 2057.7,622.9 2076.7,627.7"/>
<polygon fill="url(#pb)" points="2437.8,499.7 2418.1,506.9 2408.2,545.3 2427.8,542.6"/>
<polygon fill="url(#pd)" points="2448.2,443.4 2428.2,459.1 2418.1,506.9 2437.8,499.7"/>
<polygon fill="#769ebf" points="2194.4,617.5 2175.3,613.2 2164.3,629.7 2183.5,634.3"/>
<polygon fill="#769ebf" points="2107.1,615.9 2088.1,611.4 2076.7,627.7 2095.8,632.4"/>
<polygon fill="#769ebf" points="2281.6,615.9 2262.4,612.3 2251.9,630.3 2271.3,634.6"/>
<polygon fill="#628db0" points="2349.6,601.6 2330.2,599.5 2320.2,623 2339.6,626.6"/>
<polygon fill="#3d6585" points="2427.8,542.6 2408.2,545.3 2398.4,574.5 2417.9,574.2"/>
<polygon fill="#446e90" points="2398.4,574.5 2378.9,574.7 2369,603.7 2388.5,605.7"/>
<polygon fill="#769ebf" points="2213.5,621.8 2194.4,617.5 2183.5,634.3 2202.8,638.9"/>
<polygon fill="#769ebf" points="2126.1,620.5 2107.1,615.9 2095.8,632.4 2114.9,637.1"/>
<polygon fill="#769ebf" points="2300.8,619.5 2281.6,615.9 2271.3,634.6 2290.6,638.8"/>
<polygon fill="#5d88ab" points="2369,603.7 2349.6,601.6 2339.6,626.6 2359,630.1"/>
<polygon fill="url(#pm)" points="2457.7,490.9 2437.8,499.7 2427.8,542.6 2447.5,539.5"/>
<polygon fill="#769ebf" points="2232.7,626 2213.5,621.8 2202.8,638.9 2222.1,643.5"/>
<polygon fill="#426c8d" points="2417.9,574.2 2398.4,574.5 2388.5,605.7 2408,607.8"/>
<polygon fill="#769ebf" points="2145.2,625.1 2126.1,620.5 2114.9,637.1 2134.1,641.8"/>
<polygon fill="url(#pb)" points="2447.5,539.5 2427.8,542.6 2417.9,574.2 2437.6,573.8"/>
<polygon fill="#769ebf" points="2320.2,623 2300.8,619.5 2290.6,638.8 2310,643.1"/>
<polygon fill="#5883a6" points="2388.5,605.7 2369,603.7 2359,630.1 2378.6,633.7"/>
<polygon fill="#769ebf" points="2251.9,630.3 2232.7,626 2222.1,643.5 2241.4,648.1"/>
<polygon fill="#769ebf" points="2164.3,629.7 2145.2,625.1 2134.1,641.8 2153.3,646.6"/>
<polygon fill="url(#pd)" points="2468.5,425.5 2448.2,443.4 2437.8,499.7 2457.7,490.9"/>
<polygon fill="#769ebf" points="2076.7,627.7 2057.7,622.9 2046,639.5 2065.1,644.5"/>
<polygon fill="#769ebf" points="2339.6,626.6 2320.2,623 2310,643.1 2329.5,647.3"/>
<polygon fill="#40698a" points="2437.6,573.8 2417.9,574.2 2408,607.8 2427.7,609.7"/>
<polygon fill="#537ea1" points="2408,607.8 2388.5,605.7 2378.6,633.7 2398.1,637.3"/>
<polygon fill="#769ebf" points="2271.3,634.6 2251.9,630.3 2241.4,648.1 2260.8,652.7"/>
<polygon fill="#769ebf" points="2183.5,634.3 2164.3,629.7 2153.3,646.6 2172.6,651.3"/>
<polygon fill="url(#pb)" points="2467.3,536.1 2447.5,539.5 2437.6,573.8 2457.4,573.2"/>
<polygon fill="#769ebf" points="2095.8,632.4 2076.7,627.7 2065.1,644.5 2084.3,649.5"/>
<polygon fill="url(#pm)" points="2477.9,480.5 2457.7,490.9 2447.5,539.5 2467.3,536.1"/>
<polygon fill="#769ebf" points="2359,630.1 2339.6,626.6 2329.5,647.3 2349.1,651.6"/>
<polygon fill="#769ebf" points="2202.8,638.9 2183.5,634.3 2172.6,651.3 2191.9,656.1"/>
<polygon fill="#769ebf" points="2290.6,638.8 2271.3,634.6 2260.8,652.7 2280.3,657.4"/>
<polygon fill="#769ebf" points="2114.9,637.1 2095.8,632.4 2084.3,649.5 2103.5,654.3"/>
<polygon fill="#3e6687" points="2457.4,573.2 2437.6,573.8 2427.7,609.7 2447.4,611.6"/>
<polygon fill="#507a9d" points="2427.7,609.7 2408,607.8 2398.1,637.3 2417.8,640.9"/>
<polygon fill="#759dbf" points="2378.6,633.7 2359,630.1 2349.1,651.6 2368.6,655.9"/>
<polygon fill="#769ebf" points="2222.1,643.5 2202.8,638.9 2191.9,656.1 2211.3,660.9"/>
<polygon fill="#769ebf" points="2310,643.1 2290.6,638.8 2280.3,657.4 2299.8,662"/>
<polygon fill="#769ebf" points="2134.1,641.8 2114.9,637.1 2103.5,654.3 2122.8,659.1"/>
<polygon fill="url(#pb)" points="2487.3,532.3 2467.3,536.1 2457.4,573.2 2477.3,572.3"/>
<polygon fill="#4c7699" points="2447.4,611.6 2427.7,609.7 2417.8,640.9 2437.5,644.4"/>
<polygon fill="#749cbe" points="2398.1,637.3 2378.6,633.7 2368.6,655.9 2388.3,660.3"/>
<polygon fill="url(#pb)" points="2477.3,572.3 2457.4,573.2 2447.4,611.6 2467.2,613.4"/>
<polygon fill="url(#pd)" points="2489.1,405.1 2468.5,425.5 2457.7,490.9 2477.9,480.5"/>
<polygon fill="#769ebf" points="2241.4,648.1 2222.1,643.5 2211.3,660.9 2230.8,665.7"/>
<polygon fill="url(#pm)" points="2498.2,468.9 2477.9,480.5 2467.3,536.1 2487.3,532.3"/>
<polygon fill="#769ebf" points="2329.5,647.3 2310,643.1 2299.8,662 2319.4,666.7"/>
<polygon fill="#769ebf" points="2153.3,646.6 2134.1,641.8 2122.8,659.1 2142.1,663.9"/>
<polygon fill="#769ebf" points="2065.1,644.5 2046,639.5 2034.2,657.2 2053.5,662.4"/>
<polygon fill="#719abc" points="2417.8,640.9 2398.1,637.3 2388.3,660.3 2408,664.6"/>
<polygon fill="#487395" points="2467.2,613.4 2447.4,611.6 2437.5,644.4 2457.3,647.9"/>
<polygon fill="#769ebf" points="2260.8,652.7 2241.4,648.1 2230.8,665.7 2250.3,670.5"/>
<polygon fill="#769ebf" points="2172.6,651.3 2153.3,646.6 2142.1,663.9 2161.5,668.7"/>
<polygon fill="#769ebf" points="2349.1,651.6 2329.5,647.3 2319.4,666.7 2339,671.4"/>
<polygon fill="url(#pb)" points="2507.4,528.4 2487.3,532.3 2477.3,572.3 2497.3,571.5"/>
<polygon fill="#769ebf" points="2084.3,649.5 2065.1,644.5 2053.5,662.4 2072.8,667.6"/>
<polygon fill="url(#pb)" points="2497.3,571.5 2477.3,572.3 2467.2,613.4 2487.1,615.3"/>
<polygon fill="#6e97ba" points="2437.5,644.4 2417.8,640.9 2408,664.6 2427.8,668.9"/>
<polygon fill="#769ebf" points="2280.3,657.4 2260.8,652.7 2250.3,670.5 2269.8,675.3"/>
<polygon fill="#769ebf" points="2191.9,656.1 2172.6,651.3 2161.5,668.7 2180.9,673.5"/>
<polygon fill="#769ebf" points="2368.6,655.9 2349.1,651.6 2339,671.4 2358.7,676.1"/>
<polygon fill="#467092" points="2487.1,615.3 2467.2,613.4 2457.3,647.9 2477.1,651.5"/>
<polygon fill="#769ebf" points="2103.5,654.3 2084.3,649.5 2072.8,667.6 2092.1,672.4"/>
<polygon fill="url(#pm)" points="2518.8,456.6 2498.2,468.9 2487.3,532.3 2507.4,528.4"/>
<polygon fill="#769ebf" points="2299.8,662 2280.3,657.4 2269.8,675.3 2289.4,680.2"/>
<polygon fill="url(#pb)" points="2517.4,570.8 2497.3,571.5 2487.1,615.3 2507,617.1"/>
<polygon fill="#769ebf" points="2211.3,660.9 2191.9,656.1 2180.9,673.5 2200.4,678.3"/>
<polygon fill="#6c95b8" points="2457.3,647.9 2437.5,644.4 2427.8,668.9 2447.6,673.2"/>
<polygon fill="#769ebf" points="2122.8,659.1 2103.5,654.3 2092.1,672.4 2111.4,677.3"/>
<polygon fill="#769ebf" points="2388.3,660.3 2368.6,655.9 2358.7,676.1 2378.4,680.8"/>
<polygon fill="url(#pb)" points="2527.7,524.6 2507.4,528.4 2497.3,571.5 2517.4,570.8"/>
<polygon fill="#436d8f" points="2507,617.1 2487.1,615.3 2477.1,651.5 2497.1,655"/>
<polygon fill="#769ebf" points="2319.4,666.7 2299.8,662 2289.4,680.2 2309.1,685.1"/>
<polygon fill="url(#pd)" points="2510.1,381.8 2489.1,405.1 2477.9,480.5 2498.2,468.9"/>
<polygon fill="#769ebf" points="2230.8,665.7 2211.3,660.9 2200.4,678.3 2220,683.2"/>
<polygon fill="#769ebf" points="2142.1,663.9 2122.8,659.1 2111.4,677.3 2130.9,682.1"/>
<polygon fill="#769ebf" points="2053.5,662.4 2034.2,657.2 2022.5,676.6 2041.8,681.9"/>
<polygon fill="#6a93b7" points="2477.1,651.5 2457.3,647.9 2447.6,673.2 2467.5,677.5"/>
<polygon fill="#769ebf" points="2408,664.6 2388.3,660.3 2378.4,680.8 2398.2,685.5"/>
<polygon fill="url(#pb)" points="2537.6,569.9 2517.4,570.8 2507,617.1 2527.1,618.9"/>
<polygon fill="#426b8d" points="2527.1,618.9 2507,617.1 2497.1,655 2517,658.4"/>
<polygon fill="#769ebf" points="2339,671.4 2319.4,666.7 2309.1,685.1 2328.8,689.9"/>
<polygon fill="#769ebf" points="2250.3,670.5 2230.8,665.7 2220,683.2 2239.6,688.1"/>
<polygon fill="#769ebf" points="2072.8,667.6 2053.5,662.4 2041.8,681.9 2061.2,687"/>
<polygon fill="#769ebf" points="2161.5,668.7 2142.1,663.9 2130.9,682.1 2150.3,686.9"/>
<polygon fill="#769ebf" points="2427.8,668.9 2408,664.6 2398.2,685.5 2418,690.2"/>
<polygon fill="url(#pb)" points="2548.1,520.4 2527.7,524.6 2517.4,570.8 2537.6,569.9"/>
<polygon fill="#6691b4" points="2497.1,655 2477.1,651.5 2467.5,677.5 2487.4,681.8"/>
<polygon fill="url(#pm)" points="2539.6,444 2518.8,456.6 2507.4,528.4 2527.7,524.6"/>
<polygon fill="#769ebf" points="2358.7,676.1 2339,671.4 2328.8,689.9 2348.6,694.8"/>
<polygon fill="#769ebf" points="2269.8,675.3 2250.3,670.5 2239.6,688.1 2259.2,693"/>
<polygon fill="#769ebf" points="2092.1,672.4 2072.8,667.6 2061.2,687 2080.6,692"/>
<polygon fill="#40698a" points="2547.2,620.5 2527.1,618.9 2517,658.4 2537.1,661.8"/>
<polygon fill="#769ebf" points="2180.9,673.5 2161.5,668.7 2150.3,686.9 2169.9,691.7"/>
<polygon fill="#769ebf" points="2447.6,673.2 2427.8,668.9 2418,690.2 2437.9,695"/>
<polygon fill="url(#pb)" points="2557.9,568.7 2537.6,569.9 2527.1,618.9 2547.2,620.5"/>
<polygon fill="#638eb1" points="2517,658.4 2497.1,655 2487.4,681.8 2507.5,686"/>
<polygon fill="#769ebf" points="2378.4,680.8 2358.7,676.1 2348.6,694.8 2368.4,699.7"/>
<polygon fill="#769ebf" points="2289.4,680.2 2269.8,675.3 2259.2,693 2278.9,697.9"/>
<polygon fill="#769ebf" points="2111.4,677.3 2092.1,672.4 2080.6,692 2100,696.8"/>
<polygon fill="#769ebf" points="2200.4,678.3 2180.9,673.5 2169.9,691.7 2189.4,696.6"/>
<polygon fill="#769ebf" points="2467.5,677.5 2447.6,673.2 2437.9,695 2457.9,699.7"/>
<polygon fill="url(#pb)" points="2568.6,515.9 2548.1,520.4 2537.6,569.9 2557.9,568.7"/>
<polygon fill="#3f6888" points="2567.5,622 2547.2,620.5 2537.1,661.8 2557.2,665"/>
<polygon fill="#608aae" points="2537.1,661.8 2517,658.4 2507.5,686 2527.5,690.2"/>
<polygon fill="#769ebf" points="2041.8,681.9 2022.5,676.6 2010.6,697.3 2030,702.5"/>
<polygon fill="#769ebf" points="2398.2,685.5 2378.4,680.8 2368.4,699.7 2388.3,704.6"/>
<polygon fill="#769ebf" points="2309.1,685.1 2289.4,680.2 2278.9,697.9 2298.7,702.8"/>
<polygon fill="url(#pb)" points="2578.3,567.5 2557.9,568.7 2547.2,620.5 2567.5,622"/>
<polygon fill="#769ebf" points="2130.9,682.1 2111.4,677.3 2100,696.8 2119.5,701.7"/>
<polygon fill="#769ebf" points="2220,683.2 2200.4,678.3 2189.4,696.6 2209.1,701.4"/>
<polygon fill="url(#pd)" points="2531.4,356.8 2510.1,381.8 2498.2,468.9 2518.8,456.6"/>
<polygon fill="#769ebf" points="2487.4,681.8 2467.5,677.5 2457.9,699.7 2477.9,704.4"/>
<polygon fill="url(#pm)" points="2560.6,431.2 2539.6,444 2527.7,524.6 2548.1,520.4"/>
<polygon fill="#5c87aa" points="2557.2,665 2537.1,661.8 2527.5,690.2 2547.7,694.3"/>
<polygon fill="#3e6687" points="2587.8,623.5 2567.5,622 2557.2,665 2577.4,668.2"/>
<polygon fill="#769ebf" points="2061.2,687 2041.8,681.9 2030,702.5 2049.5,707.7"/>
<polygon fill="#769ebf" points="2418,690.2 2398.2,685.5 2388.3,704.6 2408.2,709.5"/>
<polygon fill="#769ebf" points="2328.8,689.9 2309.1,685.1 2298.7,702.8 2318.5,707.8"/>
<polygon fill="#769ebf" points="2150.3,686.9 2130.9,682.1 2119.5,701.7 2139.1,706.5"/>
<polygon fill="#769ebf" points="2239.6,688.1 2220,683.2 2209.1,701.4 2228.8,706.3"/>
<polygon fill="#769ebf" points="2507.5,686 2487.4,681.8 2477.9,704.4 2498,709.1"/>
<polygon fill="url(#pb)" points="2589.3,511.2 2568.6,515.9 2557.9,568.7 2578.3,567.5"/>
<polygon fill="url(#pb)" points="2598.8,566.4 2578.3,567.5 2567.5,622 2587.8,623.5"/>
<polygon fill="#769ebf" points="2080.6,692 2061.2,687 2049.5,707.7 2069,712.6"/>
<polygon fill="#769ebf" points="2437.9,695 2418,690.2 2408.2,709.5 2428.2,714.5"/>
<polygon fill="#5983a7" points="2577.4,668.2 2557.2,665 2547.7,694.3 2567.9,698.3"/>
<polygon fill="#769ebf" points="2348.6,694.8 2328.8,689.9 2318.5,707.8 2338.4,712.7"/>
<polygon fill="#769ebf" points="2169.9,691.7 2150.3,686.9 2139.1,706.5 2158.7,711.3"/>
<polygon fill="#769ebf" points="2259.2,693 2239.6,688.1 2228.8,706.3 2248.5,711.2"/>
<polygon fill="url(#pb)" points="2608.2,625 2587.8,623.5 2577.4,668.2 2597.7,671.3"/>
<polygon fill="#769ebf" points="2527.5,690.2 2507.5,686 2498,709.1 2518.1,713.8"/>
<polygon fill="#769ebf" points="2100,696.8 2080.6,692 2069,712.6 2088.5,717.5"/>
<polygon fill="#769ebf" points="2457.9,699.7 2437.9,695 2428.2,714.5 2448.3,719.5"/>
<polygon fill="#769ebf" points="2368.4,699.7 2348.6,694.8 2338.4,712.7 2358.3,717.7"/>
<polygon fill="#769ebf" points="2189.4,696.6 2169.9,691.7 2158.7,711.3 2178.4,716.2"/>
<polygon fill="#769ebf" points="2278.9,697.9 2259.2,693 2248.5,711.2 2268.3,716.1"/>
<polygon fill="#5580a3" points="2597.7,671.3 2577.4,668.2 2567.9,698.3 2588.2,702.2"/>
<polygon fill="url(#pb)" points="2619.5,565.6 2598.8,566.4 2587.8,623.5 2608.2,625"/>
<polygon fill="#769ebf" points="2030,702.5 2010.6,697.3 1998.7,718.6 2018.2,723.6"/>
<polygon fill="#749cbe" points="2547.7,694.3 2527.5,690.2 2518.1,713.8 2538.3,718.5"/>
<polygon fill="url(#pb)" points="2628.7,626.5 2608.2,625 2597.7,671.3 2618.1,674.2"/>
<polygon fill="url(#pm)" points="2581.8,419 2560.6,431.2 2548.1,520.4 2568.6,515.9"/>
<polygon fill="url(#pb)" points="2610.1,506.7 2589.3,511.2 2578.3,567.5 2598.8,566.4"/>
<polygon fill="#769ebf" points="2119.5,701.7 2100,696.8 2088.5,717.5 2108.1,722.4"/>
<polygon fill="#769ebf" points="2477.9,704.4 2457.9,699.7 2448.3,719.5 2468.4,724.5"/>
<polygon fill="#769ebf" points="2388.3,704.6 2368.4,699.7 2358.3,717.7 2378.3,722.6"/>
<polygon fill="#769ebf" points="2209.1,701.4 2189.4,696.6 2178.4,716.2 2198.1,721"/>
<polygon fill="#769ebf" points="2298.7,702.8 2278.9,697.9 2268.3,716.1 2288.2,721.1"/>
<polygon fill="#527d9f" points="2618.1,674.2 2597.7,671.3 2588.2,702.2 2608.5,706"/>
<polygon fill="#769ebf" points="2049.5,707.7 2030,702.5 2018.2,723.6 2037.7,728.6"/>
<polygon fill="#729abc" points="2567.9,698.3 2547.7,694.3 2538.3,718.5 2558.6,723.1"/>
<polygon fill="url(#pd)" points="2553.2,330.5 2531.4,356.8 2518.8,456.6 2539.6,444"/>
<polygon fill="#769ebf" points="2139.1,706.5 2119.5,701.7 2108.1,722.4 2127.7,727.3"/>
<polygon fill="#769ebf" points="2408.2,709.5 2388.3,704.6 2378.3,722.6 2398.4,727.7"/>
<polygon fill="#769ebf" points="2498,709.1 2477.9,704.4 2468.4,724.5 2488.5,729.5"/>
<polygon fill="url(#pb)" points="2649.2,627.8 2628.7,626.5 2618.1,674.2 2638.5,676.9"/>
<polygon fill="url(#pb)" points="2640.1,565.5 2619.5,565.6 2608.2,625 2628.7,626.5"/>
<polygon fill="#769ebf" points="2228.8,706.3 2209.1,701.4 2198.1,721 2217.9,725.9"/>
<polygon fill="#769ebf" points="2318.5,707.8 2298.7,702.8 2288.2,721.1 2308.1,726"/>
<polygon fill="#769ebf" points="2069,712.6 2049.5,707.7 2037.7,728.6 2057.3,733.6"/>
<polygon fill="#4f7a9c" points="2638.5,676.9 2618.1,674.2 2608.5,706 2629,709.7"/>
<polygon fill="#6f98ba" points="2588.2,702.2 2567.9,698.3 2558.6,723.1 2578.9,727.7"/>
<polygon fill="url(#pb)" points="2631,503 2610.1,506.7 2598.8,566.4 2619.5,565.6"/>
<polygon fill="#769ebf" points="2158.7,711.3 2139.1,706.5 2127.7,727.3 2147.4,732.2"/>
<polygon fill="#769ebf" points="2428.2,714.5 2408.2,709.5 2398.4,727.7 2418.4,732.7"/>
<polygon fill="#769ebf" points="2518.1,713.8 2498,709.1 2488.5,729.5 2508.8,734.6"/>
<polygon fill="#769ebf" points="2248.5,711.2 2228.8,706.3 2217.9,725.9 2237.7,730.9"/>
<polygon fill="#769ebf" points="2338.4,712.7 2318.5,707.8 2308.1,726 2328.1,731"/>
<polygon fill="#769ebf" points="2088.5,717.5 2069,712.6 2057.3,733.6 2076.9,738.5"/>
<polygon fill="url(#pb)" points="2669.9,628.8 2649.2,627.8 2638.5,676.9 2659.1,679.5"/>
<polygon fill="url(#pm)" points="2603.1,407.5 2581.8,419 2568.6,515.9 2589.3,511.2"/>
<polygon fill="url(#pb)" points="2660.9,565.1 2640.1,565.5 2628.7,626.5 2649.2,627.8"/>
<polygon fill="#769ebf" points="2178.4,716.2 2158.7,711.3 2147.4,732.2 2167.2,737.1"/>
<polygon fill="#6c95b8" points="2608.5,706 2588.2,702.2 2578.9,727.7 2599.3,732.3"/>
<polygon fill="#4c7799" points="2659.1,679.5 2638.5,676.9 2629,709.7 2649.5,713.2"/>
<polygon fill="#769ebf" points="2448.3,719.5 2428.2,714.5 2418.4,732.7 2438.6,737.8"/>
<polygon fill="#769ebf" points="2538.3,718.5 2518.1,713.8 2508.8,734.6 2529,739.7"/>
<polygon fill="#769ebf" points="2268.3,716.1 2248.5,711.2 2237.7,730.9 2257.6,735.8"/>
<polygon fill="#769ebf" points="2358.3,717.7 2338.4,712.7 2328.1,731 2348.1,735.9"/>
<polygon fill="#769ebf" points="2018.2,723.6 1998.7,718.6 1986.7,740.1 2006.2,744.8"/>
<polygon fill="#769ebf" points="2108.1,722.4 2088.5,717.5 2076.9,738.5 2096.6,743.5"/>
<polygon fill="url(#pb)" points="2652,500.5 2631,503 2619.5,565.6 2640.1,565.5"/>
<polygon fill="#769ebf" points="2198.1,721 2178.4,716.2 2167.2,737.1 2187,742"/>
<polygon fill="#769ebf" points="2468.4,724.5 2448.3,719.5 2438.6,737.8 2458.8,743"/>
<polygon fill="url(#pb)" points="2690.7,630.3 2669.9,628.8 2659.1,679.5 2679.7,682.4"/>
<polygon fill="#6892b6" points="2629,709.7 2608.5,706 2599.3,732.3 2619.7,736.8"/>
<polygon fill="#769ebf" points="2558.6,723.1 2538.3,718.5 2529,739.7 2549.4,744.9"/>
<polygon fill="#769ebf" points="2288.2,721.1 2268.3,716.1 2257.6,735.8 2277.6,740.7"/>
<polygon fill="#769ebf" points="2378.3,722.6 2358.3,717.7 2348.1,735.9 2368.2,740.8"/>
<polygon fill="#769ebf" points="2037.7,728.6 2018.2,723.6 2006.2,744.8 2025.8,749.6"/>
<polygon fill="#4c7799" points="2679.7,682.4 2659.1,679.5 2649.5,713.2 2670.1,717"/>
<polygon fill="url(#pb)" points="2681.9,564.6 2660.9,565.1 2649.2,627.8 2669.9,628.8"/>
<polygon fill="#769ebf" points="2127.7,727.3 2108.1,722.4 2096.6,743.5 2116.3,748.5"/>
<polygon fill="#769ebf" points="2217.9,725.9 2198.1,721 2187,742 2206.9,746.9"/>
<polygon fill="#769ebf" points="2488.5,729.5 2468.4,724.5 2458.8,743 2479.1,748.3"/>
<polygon fill="#769ebf" points="2578.9,727.7 2558.6,723.1 2549.4,744.9 2569.7,750.1"/>
<polygon fill="#769ebf" points="2398.4,727.7 2378.3,722.6 2368.2,740.8 2388.4,745.9"/>
<polygon fill="#769ebf" points="2308.1,726 2288.2,721.1 2277.6,740.7 2297.6,745.7"/>
<polygon fill="#648fb2" points="2649.5,713.2 2629,709.7 2619.7,736.8 2640.3,741.3"/>
<polygon fill="#769ebf" points="2057.3,733.6 2037.7,728.6 2025.8,749.6 2045.4,754.6"/>
<polygon fill="url(#pd)" points="2575.3,302 2553.2,330.5 2539.6,444 2560.6,431.2"/>
<polygon fill="url(#pm)" points="2624.6,395.8 2603.1,407.5 2589.3,511.2 2610.1,506.7"/>
<polygon fill="#769ebf" points="2147.4,732.2 2127.7,727.3 2116.3,748.5 2136.1,753.5"/>
<polygon fill="url(#pb)" points="2673,497.8 2652,500.5 2640.1,565.5 2660.9,565.1"/>
<polygon fill="#769ebf" points="2508.8,734.6 2488.5,729.5 2479.1,748.3 2499.4,753.7"/>
<polygon fill="#769ebf" points="2237.7,730.9 2217.9,725.9 2206.9,746.9 2226.8,751.9"/>
<polygon fill="#769ebf" points="2599.3,732.3 2578.9,727.7 2569.7,750.1 2590.2,755.4"/>
<polygon fill="url(#pb)" points="2702.9,564.5 2681.9,564.6 2669.9,628.8 2690.7,630.3"/>
<polygon fill="#769ebf" points="2418.4,732.7 2398.4,727.7 2388.4,745.9 2408.6,751"/>
<polygon fill="#769ebf" points="2328.1,731 2308.1,726 2297.6,745.7 2317.7,750.6"/>
<polygon fill="#769ebf" points="2076.9,738.5 2057.3,733.6 2045.4,754.6 2065.1,759.6"/>
<polygon fill="#638eb1" points="2670.1,717 2649.5,713.2 2640.3,741.3 2660.8,745.8"/>
<polygon fill="#769ebf" points="2167.2,737.1 2147.4,732.2 2136.1,753.5 2155.9,758.5"/>
<polygon fill="#769ebf" points="2006.2,744.8 1986.7,740.1 1974.5,762.1 1994.1,766.5"/>
<polygon fill="#769ebf" points="2529,739.7 2508.8,734.6 2499.4,753.7 2519.7,759.2"/>
<polygon fill="#769ebf" points="2257.6,735.8 2237.7,730.9 2226.8,751.9 2246.8,756.9"/>
<polygon fill="#769ebf" points="2619.7,736.8 2599.3,732.3 2590.2,755.4 2610.7,760.8"/>
<polygon fill="#769ebf" points="2438.6,737.8 2418.4,732.7 2408.6,751 2428.8,756.1"/>
<polygon fill="#769ebf" points="2348.1,735.9 2328.1,731 2317.7,750.6 2337.8,755.5"/>
<polygon fill="#769ebf" points="2096.6,743.5 2076.9,738.5 2065.1,759.6 2084.9,764.7"/>
<polygon fill="#769ebf" points="2187,742 2167.2,737.1 2155.9,758.5 2175.8,763.5"/>
<polygon fill="url(#pb)" points="2694.3,495.1 2673,497.8 2660.9,565.1 2681.9,564.6"/>
<polygon fill="#769ebf" points="2549.4,744.9 2529,739.7 2519.7,759.2 2540.1,764.8"/>
<polygon fill="#769ebf" points="2025.8,749.6 2006.2,744.8 1994.1,766.5 2013.7,771.1"/>
<polygon fill="#769ebf" points="2277.6,740.7 2257.6,735.8 2246.8,756.9 2266.9,761.8"/>
<polygon fill="#769ebf" points="2458.8,743 2438.6,737.8 2428.8,756.1 2449.1,761.4"/>
<polygon fill="#769ebf" points="2640.3,741.3 2619.7,736.8 2610.7,760.8 2631.2,766.2"/>
<polygon fill="#769ebf" points="2368.2,740.8 2348.1,735.9 2337.8,755.5 2358,760.5"/>
<polygon fill="#769ebf" points="2116.3,748.5 2096.6,743.5 2084.9,764.7 2104.7,769.8"/>
<polygon fill="url(#pm)" points="2646.4,384.3 2624.6,395.8 2610.1,506.7 2631,503"/>
<polygon fill="#769ebf" points="2206.9,746.9 2187,742 2175.8,763.5 2195.8,768.6"/>
<polygon fill="#769ebf" points="2569.7,750.1 2549.4,744.9 2540.1,764.8 2560.6,770.6"/>
<polygon fill="#769ebf" points="2045.4,754.6 2025.8,749.6 2013.7,771.1 2033.5,776.1"/>
<polygon fill="#769ebf" points="2297.6,745.7 2277.6,740.7 2266.9,761.8 2287,766.8"/>
<polygon fill="#769ebf" points="2479.1,748.3 2458.8,743 2449.1,761.4 2469.5,766.9"/>
<polygon fill="#769ebf" points="2660.8,745.8 2640.3,741.3 2631.2,766.2 2651.8,771.5"/>
<polygon fill="#769ebf" points="2388.4,745.9 2368.2,740.8 2358,760.5 2378.2,765.5"/>
<polygon fill="#769ebf" points="2136.1,753.5 2116.3,748.5 2104.7,769.8 2124.6,774.9"/>
<polygon fill="#769ebf" points="2226.8,751.9 2206.9,746.9 2195.8,768.6 2215.8,773.6"/>
<polygon fill="url(#pb)" points="2715.6,492.7 2694.3,495.1 2681.9,564.6 2702.9,564.5"/>
<polygon fill="#769ebf" points="2590.2,755.4 2569.7,750.1 2560.6,770.6 2581.1,776.6"/>
<polygon fill="#769ebf" points="2065.1,759.6 2045.4,754.6 2033.5,776.1 2053.3,781.2"/>
<polygon fill="#769ebf" points="2317.7,750.6 2297.6,745.7 2287,766.8 2307.1,771.8"/>
<polygon fill="#769ebf" points="2499.4,753.7 2479.1,748.3 2469.5,766.9 2489.9,772.4"/>
<polygon fill="url(#pd)" points="2598,270.3 2575.3,302 2560.6,431.2 2581.8,419"/>
<polygon fill="#769ebf" points="2408.6,751 2388.4,745.9 2378.2,765.5 2398.5,770.6"/>
<polygon fill="#769ebf" points="2155.9,758.5 2136.1,753.5 2124.6,774.9 2144.5,780.1"/>
<polygon fill="#769ebf" points="1994.1,766.5 1974.5,762.1 1962.3,784.6 1981.9,788.6"/>
<polygon fill="#769ebf" points="2610.7,760.8 2590.2,755.4 2581.1,776.6 2601.6,782.7"/>
<polygon fill="#769ebf" points="2246.8,756.9 2226.8,751.9 2215.8,773.6 2235.9,778.7"/>
<polygon fill="#769ebf" points="2519.7,759.2 2499.4,753.7 2489.9,772.4 2510.4,778.1"/>
<polygon fill="#769ebf" points="2084.9,764.7 2065.1,759.6 2053.3,781.2 2073.1,786.3"/>
<polygon fill="url(#pm)" points="2668.1,375.7 2646.4,384.3 2631,503 2652,500.5"/>
<polygon fill="#769ebf" points="2337.8,755.5 2317.7,750.6 2307.1,771.8 2327.3,776.8"/>
<polygon fill="#769ebf" points="2428.8,756.1 2408.6,751 2398.5,770.6 2418.9,775.8"/>
<polygon fill="#769ebf" points="2175.8,763.5 2155.9,758.5 2144.5,780.1 2164.5,785.2"/>
<polygon fill="#769ebf" points="2631.2,766.2 2610.7,760.8 2601.6,782.7 2622.2,789"/>
<polygon fill="#769ebf" points="2013.7,771.1 1994.1,766.5 1981.9,788.6 2001.6,793"/>
<polygon fill="#769ebf" points="2266.9,761.8 2246.8,756.9 2235.9,778.7 2256,783.8"/>
<polygon fill="#769ebf" points="2540.1,764.8 2519.7,759.2 2510.4,778.1 2530.9,784"/>
<polygon fill="#769ebf" points="2104.7,769.8 2084.9,764.7 2073.1,786.3 2093,791.5"/>
<polygon fill="#769ebf" points="2358,760.5 2337.8,755.5 2327.3,776.8 2347.6,781.8"/>
<polygon fill="#769ebf" points="2449.1,761.4 2428.8,756.1 2418.9,775.8 2439.3,781.1"/>
<polygon fill="#769ebf" points="2195.8,768.6 2175.8,763.5 2164.5,785.2 2184.6,790.4"/>
<polygon fill="#769ebf" points="2651.8,771.5 2631.2,766.2 2622.2,789 2642.9,795"/>
<polygon fill="#769ebf" points="2033.5,776.1 2013.7,771.1 2001.6,793 2021.4,798"/>
<polygon fill="#769ebf" points="2287,766.8 2266.9,761.8 2256,783.8 2276.2,788.9"/>
<polygon fill="#769ebf" points="2560.6,770.6 2540.1,764.8 2530.9,784 2551.4,790.2"/>
<polygon fill="#769ebf" points="2124.6,774.9 2104.7,769.8 2093,791.5 2113,796.9"/>
<polygon fill="#769ebf" points="2378.2,765.5 2358,760.5 2347.6,781.8 2368,786.9"/>
<polygon fill="#769ebf" points="2469.5,766.9 2449.1,761.4 2439.3,781.1 2459.8,786.6"/>
<polygon fill="#769ebf" points="2215.8,773.6 2195.8,768.6 2184.6,790.4 2204.7,795.5"/>
<polygon fill="url(#pm)" points="2689.8,369.9 2668.1,375.7 2652,500.5 2673,497.8"/>
<polygon fill="#779fc0" points="2581.1,776.6 2560.6,770.6 2551.4,790.2 2572,796.8"/>
<polygon fill="#769ebf" points="2053.3,781.2 2033.5,776.1 2021.4,798 2041.3,803.1"/>
<polygon fill="#769ebf" points="2307.1,771.8 2287,766.8 2276.2,788.9 2296.5,794"/>
<polygon fill="#769ebf" points="2144.5,780.1 2124.6,774.9 2113,796.9 2133.1,802.1"/>
<polygon fill="#719abc" points="1981.9,788.6 1962.3,784.6 1949.9,807.8 1969.6,811.4"/>
<polygon fill="#769ebf" points="2398.5,770.6 2378.2,765.5 2368,786.9 2388.4,792.1"/>
<polygon fill="#769ebf" points="2489.9,772.4 2469.5,766.9 2459.8,786.6 2480.3,792.2"/>
<polygon fill="#769ebf" points="2235.9,778.7 2215.8,773.6 2204.7,795.5 2224.9,800.7"/>
<polygon fill="#779fc0" points="2601.6,782.7 2581.1,776.6 2572,796.8 2592.6,803.4"/>
<polygon fill="#769ebf" points="2073.1,786.3 2053.3,781.2 2041.3,803.1 2061.2,808.3"/>
<polygon fill="#769ebf" points="2327.3,776.8 2307.1,771.8 2296.5,794 2316.8,799.1"/>
<polygon fill="#769ebf" points="2164.5,785.2 2144.5,780.1 2133.1,802.1 2153.1,807.4"/>
<polygon fill="url(#pd)" points="2621.1,236.5 2598,270.3 2581.8,419 2603.1,407.5"/>
<polygon fill="#769ebf" points="2510.4,778.1 2489.9,772.4 2480.3,792.2 2500.8,797.9"/>
<polygon fill="#769ebf" points="2418.9,775.8 2398.5,770.6 2388.4,792.1 2408.8,797.2"/>
<polygon fill="#769ebf" points="2001.6,793 1981.9,788.6 1969.6,811.4 1989.4,815.5"/>
<polygon fill="#779fc0" points="2622.2,789 2601.6,782.7 2592.6,803.4 2613.2,810.3"/>
<polygon fill="#769ebf" points="2256,783.8 2235.9,778.7 2224.9,800.7 2245.1,805.9"/>
<polygon fill="url(#pm)" points="2711.5,366.2 2689.8,369.9 2673,497.8 2694.3,495.1"/>
<polygon fill="#769ebf" points="2093,791.5 2073.1,786.3 2061.2,808.3 2081.2,813.6"/>
<polygon fill="#769ebf" points="2347.6,781.8 2327.3,776.8 2316.8,799.1 2337.2,804.2"/>
<polygon fill="#769ebf" points="2530.9,784 2510.4,778.1 2500.8,797.9 2521.5,803.8"/>
<polygon fill="#769ebf" points="2184.6,790.4 2164.5,785.2 2153.1,807.4 2173.3,812.7"/>
<polygon fill="#769ebf" points="2642.9,795 2622.2,789 2613.2,810.3 2634,816.8"/>
<polygon fill="#769ebf" points="2439.3,781.1 2418.9,775.8 2408.8,797.2 2429.3,802.5"/>
<polygon fill="#769ebf" points="2021.4,798 2001.6,793 1989.4,815.5 2009.3,820.5"/>
<polygon fill="#769ebf" points="2276.2,788.9 2256,783.8 2245.1,805.9 2265.4,811.1"/>
<polygon fill="#769ebf" points="2113,796.9 2093,791.5 2081.2,813.6 2101.3,819.2"/>
<polygon fill="#769ebf" points="2368,786.9 2347.6,781.8 2337.2,804.2 2357.6,809.4"/>
<polygon fill="#779fc0" points="2551.4,790.2 2530.9,784 2521.5,803.8 2542.1,810.1"/>
<polygon fill="#769ebf" points="2204.7,795.5 2184.6,790.4 2173.3,812.7 2193.5,818"/>
<polygon fill="#769ebf" points="2459.8,786.6 2439.3,781.1 2429.3,802.5 2449.9,808"/>
<polygon fill="#769ebf" points="2041.3,803.1 2021.4,798 2009.3,820.5 2029.2,825.7"/>
<polygon fill="#769ebf" points="2296.5,794 2276.2,788.9 2265.4,811.1 2285.7,816.4"/>
<polygon fill="#6a94b8" points="1969.6,811.4 1949.9,807.8 1937.5,831.9 1957.2,835"/>
<polygon fill="#769ebf" points="2133.1,802.1 2113,796.9 2101.3,819.2 2121.4,824.6"/>
<polygon fill="#779fc0" points="2572,796.8 2551.4,790.2 2542.1,810.1 2562.8,816.7"/>
<polygon fill="url(#pm)" points="2733.1,364.5 2711.5,366.2 2694.3,495.1 2715.6,492.7"/>
<polygon fill="#769ebf" points="2388.4,792.1 2368,786.9 2357.6,809.4 2378.1,814.6"/>
<polygon fill="#769ebf" points="2224.9,800.7 2204.7,795.5 2193.5,818 2213.7,823.3"/>
<polygon fill="#769ebf" points="2480.3,792.2 2459.8,786.6 2449.9,808 2470.5,813.5"/>
<polygon fill="#769ebf" points="2061.2,808.3 2041.3,803.1 2029.2,825.7 2049.2,830.9"/>
<polygon fill="#769ebf" points="2316.8,799.1 2296.5,794 2285.7,816.4 2306.1,821.7"/>
<polygon fill="#779fc0" points="2592.6,803.4 2572,796.8 2562.8,816.7 2583.5,823.4"/>
<polygon fill="#769ebf" points="2153.1,807.4 2133.1,802.1 2121.4,824.6 2141.6,830"/>
<polygon fill="#729abc" points="1989.4,815.5 1969.6,811.4 1957.2,835 1977,838.8"/>
<polygon fill="#769ebf" points="2408.8,797.2 2388.4,792.1 2378.1,814.6 2398.6,819.8"/>
<polygon fill="#769ebf" points="2245.1,805.9 2224.9,800.7 2213.7,823.3 2234.1,828.6"/>
<polygon fill="#769ebf" points="2500.8,797.9 2480.3,792.2 2470.5,813.5 2491.2,819.1"/>
<polygon fill="#779fc0" points="2613.2,810.3 2592.6,803.4 2583.5,823.4 2604.3,830.4"/>
<polygon fill="#769ebf" points="2081.2,813.6 2061.2,808.3 2049.2,830.9 2069.4,836.4"/>
<polygon fill="#769ebf" points="2337.2,804.2 2316.8,799.1 2306.1,821.7 2326.6,826.9"/>
<polygon fill="#769ebf" points="2173.3,812.7 2153.1,807.4 2141.6,830 2161.9,835.4"/>
<polygon fill="#769ebf" points="2429.3,802.5 2408.8,797.2 2398.6,819.8 2419.2,825"/>
<polygon fill="#769ebf" points="2009.3,820.5 1989.4,815.5 1977,838.8 1997,843.8"/>
<polygon fill="url(#pd)" points="2644.6,202.9 2621.1,236.5 2603.1,407.5 2624.6,395.8"/>
<polygon fill="#769ebf" points="2521.5,803.8 2500.8,797.9 2491.2,819.1 2511.9,824.9"/>
<polygon fill="#779fc0" points="2634,816.8 2613.2,810.3 2604.3,830.4 2625.1,836.9"/>
<polygon fill="#769ebf" points="2265.4,811.1 2245.1,805.9 2234.1,828.6 2254.4,833.9"/>
<polygon fill="#769ebf" points="2101.3,819.2 2081.2,813.6 2069.4,836.4 2089.5,842.2"/>
<polygon fill="#769ebf" points="2357.6,809.4 2337.2,804.2 2326.6,826.9 2347.1,832.2"/>
<polygon fill="#769ebf" points="2193.5,818 2173.3,812.7 2161.9,835.4 2182.1,840.9"/>
<polygon fill="#769ebf" points="2542.1,810.1 2521.5,803.8 2511.9,824.9 2532.7,830.9"/>
<polygon fill="#769ebf" points="2449.9,808 2429.3,802.5 2419.2,825 2439.9,830.3"/>
<polygon fill="#769ebf" points="2029.2,825.7 2009.3,820.5 1997,843.8 2017.1,849.1"/>
<polygon fill="#6892b6" points="1957.2,835 1937.5,831.9 1924.9,855 1944.6,857.8"/>
<polygon fill="#769ebf" points="2285.7,816.4 2265.4,811.1 2254.4,833.9 2274.9,839.3"/>
<polygon fill="#769ebf" points="2121.4,824.6 2101.3,819.2 2089.5,842.2 2109.7,847.8"/>
<polygon fill="#769ebf" points="2378.1,814.6 2357.6,809.4 2347.1,832.2 2367.7,837.4"/>
<polygon fill="#769ebf" points="2213.7,823.3 2193.5,818 2182.1,840.9 2202.5,846.3"/>
<polygon fill="#779fc0" points="2562.8,816.7 2542.1,810.1 2532.7,830.9 2553.5,837.1"/>
<polygon fill="#769ebf" points="2470.5,813.5 2449.9,808 2439.9,830.3 2460.6,835.6"/>
<polygon fill="#769ebf" points="2049.2,830.9 2029.2,825.7 2017.1,849.1 2037.2,854.3"/>
<polygon fill="#769ebf" points="2306.1,821.7 2285.7,816.4 2274.9,839.3 2295.3,844.8"/>
<polygon fill="#769ebf" points="2141.6,830 2121.4,824.6 2109.7,847.8 2130,853.4"/>
<polygon fill="#719abc" points="1977,838.8 1957.2,835 1944.6,857.8 1964.5,861.3"/>
<polygon fill="#769ebf" points="2398.6,819.8 2378.1,814.6 2367.7,837.4 2388.3,842.7"/>
<polygon fill="#779fc0" points="2583.5,823.4 2562.8,816.7 2553.5,837.1 2574.3,843.6"/>
<polygon fill="#769ebf" points="2234.1,828.6 2213.7,823.3 2202.5,846.3 2222.9,851.8"/>
<polygon fill="#769ebf" points="2491.2,819.1 2470.5,813.5 2460.6,835.6 2481.4,840.9"/>
<polygon fill="#769ebf" points="2069.4,836.4 2049.2,830.9 2037.2,854.3 2057.4,860"/>
<polygon fill="#769ebf" points="2326.6,826.9 2306.1,821.7 2295.3,844.8 2315.9,850.3"/>
<polygon fill="#769ebf" points="2161.9,835.4 2141.6,830 2130,853.4 2150.3,858.9"/>
<polygon fill="#779fc0" points="2604.3,830.4 2583.5,823.4 2574.3,843.6 2595.2,850.1"/>
<polygon fill="#769ebf" points="2419.2,825 2398.6,819.8 2388.3,842.7 2409,847.8"/>
<polygon fill="#769ebf" points="1997,843.8 1977,838.8 1964.5,861.3 1984.6,866.3"/>
<polygon fill="#769ebf" points="2254.4,833.9 2234.1,828.6 2222.9,851.8 2243.4,857.3"/>
<polygon fill="#769ebf" points="2511.9,824.9 2491.2,819.1 2481.4,840.9 2502.2,846.3"/>
<polygon fill="#769ebf" points="2089.5,842.2 2069.4,836.4 2057.4,860 2077.6,866.1"/>
<polygon fill="#769ebf" points="2347.1,832.2 2326.6,826.9 2315.9,850.3 2336.5,855.6"/>
<polygon fill="#779fc0" points="2625.1,836.9 2604.3,830.4 2595.2,850.1 2616.2,856.4"/>
<polygon fill="#769ebf" points="2182.1,840.9 2161.9,835.4 2150.3,858.9 2170.7,864.5"/>
<polygon fill="#769ebf" points="2439.9,830.3 2419.2,825 2409,847.8 2429.8,852.9"/>
<polygon fill="#769ebf" points="2017.1,849.1 1997,843.8 1984.6,866.3 2004.7,871.7"/>
<polygon fill="#769ebf" points="2274.9,839.3 2254.4,833.9 2243.4,857.3 2263.9,862.8"/>
<polygon fill="url(#pd)" points="2668.3,173.3 2644.6,202.9 2624.6,395.8 2646.4,384.3"/>
<polygon fill="#6791b5" points="1944.6,857.8 1924.9,855 1912,877.2 1931.8,879.7"/>
<polygon fill="#769ebf" points="2532.7,830.9 2511.9,824.9 2502.2,846.3 2523.1,851.8"/>
<polygon fill="#769ebf" points="2109.7,847.8 2089.5,842.2 2077.6,866.1 2097.9,871.8"/>
<polygon fill="#769ebf" points="2367.7,837.4 2347.1,832.2 2336.5,855.6 2357.2,860.9"/>
<polygon fill="#769ebf" points="2202.5,846.3 2182.1,840.9 2170.7,864.5 2191.1,870.1"/>
<polygon fill="#769ebf" points="2460.6,835.6 2439.9,830.3 2429.8,852.9 2450.6,858"/>
<polygon fill="#769ebf" points="2037.2,854.3 2017.1,849.1 2004.7,871.7 2024.9,877"/>
<polygon fill="#769ebf" points="2295.3,844.8 2274.9,839.3 2263.9,862.8 2284.5,868.5"/>
<polygon fill="#769ebf" points="2553.5,837.1 2532.7,830.9 2523.1,851.8 2544.1,857.3"/>
<polygon fill="#769ebf" points="2130,853.4 2109.7,847.8 2097.9,871.8 2118.3,877.5"/>
<polygon fill="#769ebf" points="2388.3,842.7 2367.7,837.4 2357.2,860.9 2377.9,866.1"/>
<polygon fill="#719abc" points="1964.5,861.3 1944.6,857.8 1931.8,879.7 1951.8,883"/>
<polygon fill="#769ebf" points="2222.9,851.8 2202.5,846.3 2191.1,870.1 2211.6,875.7"/>
<polygon fill="#769ebf" points="2057.4,860 2037.2,854.3 2024.9,877 2045.2,882.8"/>
<polygon fill="#769ebf" points="2315.9,850.3 2295.3,844.8 2284.5,868.5 2305.1,874.1"/>
<polygon fill="#769ebf" points="2481.4,840.9 2460.6,835.6 2450.6,858 2471.5,863"/>
<polygon fill="#769ebf" points="2574.3,843.6 2553.5,837.1 2544.1,857.3 2565.1,862.8"/>
<polygon fill="#769ebf" points="2150.3,858.9 2130,853.4 2118.3,877.5 2138.7,883.2"/>
<polygon fill="#769ebf" points="2409,847.8 2388.3,842.7 2377.9,866.1 2398.7,871.2"/>
<polygon fill="#769ebf" points="2243.4,857.3 2222.9,851.8 2211.6,875.7 2232.2,881.3"/>
<polygon fill="#769ebf" points="1984.6,866.3 1964.5,861.3 1951.8,883 1971.9,888.1"/>
<polygon fill="#769ebf" points="2077.6,866.1 2057.4,860 2045.2,882.8 2065.6,889.1"/>
<polygon fill="#779fc0" points="2595.2,850.1 2574.3,843.6 2565.1,862.8 2586.2,868.4"/>
<polygon fill="#769ebf" points="2336.5,855.6 2315.9,850.3 2305.1,874.1 2325.8,879.5"/>
<polygon fill="#769ebf" points="2502.2,846.3 2481.4,840.9 2471.5,863 2492.5,868"/>
<polygon fill="#769ebf" points="2170.7,864.5 2150.3,858.9 2138.7,883.2 2159.2,889"/>
<polygon fill="#769ebf" points="2263.9,862.8 2243.4,857.3 2232.2,881.3 2252.8,887.1"/>
<polygon fill="#769ebf" points="2429.8,852.9 2409,847.8 2398.7,871.2 2419.6,876.1"/>
<polygon fill="#769ebf" points="2004.7,871.7 1984.6,866.3 1971.9,888.1 1992.1,893.4"/>
<polygon fill="#769ebf" points="2097.9,871.8 2077.6,866.1 2065.6,889.1 2086,895"/>
<polygon fill="#779fc0" points="2616.2,856.4 2595.2,850.1 2586.2,868.4 2607.3,874"/>
<polygon fill="#658fb3" points="1931.8,879.7 1912,877.2 1899,899 1918.8,901.2"/>
<polygon fill="#769ebf" points="2357.2,860.9 2336.5,855.6 2325.8,879.5 2346.6,884.9"/>
<polygon fill="#769ebf" points="2523.1,851.8 2502.2,846.3 2492.5,868 2513.5,872.7"/>
<polygon fill="#769ebf" points="2191.1,870.1 2170.7,864.5 2159.2,889 2179.7,894.7"/>
<polygon fill="url(#pd)" points="2691.7,152.2 2668.3,173.3 2646.4,384.3 2668.1,375.7"/>
<polygon fill="#769ebf" points="2284.5,868.5 2263.9,862.8 2252.8,887.1 2273.5,893"/>
<polygon fill="#769ebf" points="2450.6,858 2429.8,852.9 2419.6,876.1 2440.5,880.9"/>
<polygon fill="#769ebf" points="2118.3,877.5 2097.9,871.8 2086,895 2106.4,900.9"/>
<polygon fill="#769ebf" points="2024.9,877 2004.7,871.7 1992.1,893.4 2012.4,898.8"/>
<polygon fill="#769ebf" points="2377.9,866.1 2357.2,860.9 2346.6,884.9 2367.4,890.2"/>
<polygon fill="#769ebf" points="2211.6,875.7 2191.1,870.1 2179.7,894.7 2200.3,900.5"/>
<polygon fill="#769ebf" points="2544.1,857.3 2523.1,851.8 2513.5,872.7 2534.6,877.3"/>
<polygon fill="#7099bb" points="1951.8,883 1931.8,879.7 1918.8,901.2 1938.8,904.4"/>
<polygon fill="#769ebf" points="2305.1,874.1 2284.5,868.5 2273.5,893 2294.2,898.8"/>
<polygon fill="#769ebf" points="2138.7,883.2 2118.3,877.5 2106.4,900.9 2126.9,906.7"/>
<polygon fill="#769ebf" points="2471.5,863 2450.6,858 2440.5,880.9 2461.5,885.6"/>
<polygon fill="#769ebf" points="2045.2,882.8 2024.9,877 2012.4,898.8 2032.8,904.8"/>
<polygon fill="#769ebf" points="2232.2,881.3 2211.6,875.7 2200.3,900.5 2220.9,906.3"/>
<polygon fill="#769ebf" points="2398.7,871.2 2377.9,866.1 2367.4,890.2 2388.3,895.1"/>
<polygon fill="#769ebf" points="2565.1,862.8 2544.1,857.3 2534.6,877.3 2555.8,881.8"/>
<polygon fill="#769ebf" points="2325.8,879.5 2305.1,874.1 2294.2,898.8 2315,904.2"/>
<polygon fill="#769ebf" points="1971.9,888.1 1951.8,883 1938.8,904.4 1959,909.5"/>
<polygon fill="#769ebf" points="2065.6,889.1 2045.2,882.8 2032.8,904.8 2053.3,911.3"/>
<polygon fill="#769ebf" points="2159.2,889 2138.7,883.2 2126.9,906.7 2147.5,912.6"/>
<polygon fill="#769ebf" points="2492.5,868 2471.5,863 2461.5,885.6 2482.6,889.9"/>
<polygon fill="#769ebf" points="2252.8,887.1 2232.2,881.3 2220.9,906.3 2241.6,912.1"/>
<polygon fill="#769ebf" points="2419.6,876.1 2398.7,871.2 2388.3,895.1 2409.2,899.8"/>
<polygon fill="#769ebf" points="2586.2,868.4 2565.1,862.8 2555.8,881.8 2577.1,886.2"/>
<polygon fill="url(#pm)" points="2714.7,139.7 2691.7,152.2 2668.1,375.7 2689.8,369.9"/>
<polygon fill="#769ebf" points="2346.6,884.9 2325.8,879.5 2315,904.2 2335.8,909.7"/>
<polygon fill="#769ebf" points="2086,895 2065.6,889.1 2053.3,911.3 2073.8,917.4"/>
<polygon fill="#769ebf" points="2179.7,894.7 2159.2,889 2147.5,912.6 2168.1,918.5"/>
<polygon fill="#769ebf" points="1992.1,893.4 1971.9,888.1 1959,909.5 1979.4,914.9"/>
<polygon fill="#769ebf" points="2273.5,893 2252.8,887.1 2241.6,912.1 2262.4,918.3"/>
<polygon fill="#769ebf" points="2513.5,872.7 2492.5,868 2482.6,889.9 2503.7,893.8"/>
<polygon fill="#769ebf" points="2440.5,880.9 2419.6,876.1 2409.2,899.8 2430.2,904.3"/>
<polygon fill="#769ebf" points="2607.3,874 2586.2,868.4 2577.1,886.2 2598.4,890.8"/>
<polygon fill="#769ebf" points="2106.4,900.9 2086,895 2073.8,917.4 2094.3,923.3"/>
<polygon fill="#769ebf" points="2367.4,890.2 2346.6,884.9 2335.8,909.7 2356.7,915"/>
<polygon fill="#769ebf" points="2200.3,900.5 2179.7,894.7 2168.1,918.5 2188.8,924.4"/>
<polygon fill="#769ebf" points="2012.4,898.8 1992.1,893.4 1979.4,914.9 1999.8,920.4"/>
<polygon fill="#769ebf" points="2294.2,898.8 2273.5,893 2262.4,918.3 2283.2,924.3"/>
<polygon fill="#769ebf" points="2534.6,877.3 2513.5,872.7 2503.7,893.8 2525,897.2"/>
<polygon fill="#769ebf" points="2126.9,906.7 2106.4,900.9 2094.3,923.3 2115,929.3"/>
<polygon fill="#769ebf" points="2461.5,885.6 2440.5,880.9 2430.2,904.3 2451.4,908.4"/>
<polygon fill="#769ebf" points="2220.9,906.3 2200.3,900.5 2188.8,924.4 2209.5,930.3"/>
<polygon fill="#769ebf" points="2388.3,895.1 2367.4,890.2 2356.7,915 2377.7,919.8"/>
<polygon fill="#769ebf" points="2032.8,904.8 2012.4,898.8 1999.8,920.4 2020.3,926.5"/>
<polygon fill="#769ebf" points="2315,904.2 2294.2,898.8 2283.2,924.3 2304.1,929.8"/>
<polygon fill="url(#pm)" points="2737.2,135.6 2714.7,139.7 2689.8,369.9 2711.5,366.2"/>
<polygon fill="#769ebf" points="2147.5,912.6 2126.9,906.7 2115,929.3 2135.6,935.3"/>
<polygon fill="#769ebf" points="2241.6,912.1 2220.9,906.3 2209.5,930.3 2230.3,936.4"/>
<polygon fill="#769ebf" points="2555.8,881.8 2534.6,877.3 2525,897.2 2546.4,900.3"/>
<polygon fill="#769ebf" points="2053.3,911.3 2032.8,904.8 2020.3,926.5 2040.8,933.1"/>
<polygon fill="#759dbf" points="2482.6,889.9 2461.5,885.6 2451.4,908.4 2472.6,912.1"/>
<polygon fill="#759dbe" points="2409.2,899.8 2388.3,895.1 2377.7,919.8 2398.8,924.2"/>
<polygon fill="#769ebf" points="2335.8,909.7 2315,904.2 2304.1,929.8 2325,935.3"/>
<polygon fill="#769ebf" points="2168.1,918.5 2147.5,912.6 2135.6,935.3 2156.3,941.3"/>
<polygon fill="#769ebf" points="2262.4,918.3 2241.6,912.1 2230.3,936.4 2251.2,942.8"/>
<polygon fill="#769ebf" points="2073.8,917.4 2053.3,911.3 2040.8,933.1 2061.5,939.4"/>
<polygon fill="#769ebf" points="2577.1,886.2 2555.8,881.8 2546.4,900.3 2567.9,902.9"/>
<polygon fill="url(#pm)" points="2759.3,139.1 2737.2,135.6 2711.5,366.2 2733.1,364.5"/>
<polygon fill="#769ebf" points="2356.7,915 2335.8,909.7 2325,935.3 2346,940.7"/>
<polygon fill="#749cbd" points="2430.2,904.3 2409.2,899.8 2398.8,924.2 2419.9,928.3"/>
<polygon fill="#719abc" points="2503.7,893.8 2482.6,889.9 2472.6,912.1 2493.9,914.9"/>
<polygon fill="#769ebf" points="2188.8,924.4 2168.1,918.5 2156.3,941.3 2177.1,947.4"/>
<polygon fill="#769ebf" points="2283.2,924.3 2262.4,918.3 2251.2,942.8 2272.1,949"/>
<polygon fill="#769ebf" points="2094.3,923.3 2073.8,917.4 2061.5,939.4 2082.1,945.4"/>
<polygon fill="#739cbd" points="2377.7,919.8 2356.7,915 2346,940.7 2367,945.3"/>
<polygon fill="#769ebf" points="2598.4,890.8 2577.1,886.2 2567.9,902.9 2589.4,906.1"/>
<polygon fill="#7099bb" points="2451.4,908.4 2430.2,904.3 2419.9,928.3 2441.1,931.9"/>
<polygon fill="#769ebf" points="2209.5,930.3 2188.8,924.4 2177.1,947.4 2198,953.4"/>
<polygon fill="#769ebf" points="2304.1,929.8 2283.2,924.3 2272.1,949 2293,954.5"/>
<polygon fill="#769ebf" points="2115,929.3 2094.3,923.3 2082.1,945.4 2102.8,951.5"/>
<polygon fill="#6c96b9" points="2525,897.2 2503.7,893.8 2493.9,914.9 2515.4,916.8"/>
<polygon fill="#769ebf" points="2230.3,936.4 2209.5,930.3 2198,953.4 2218.8,959.6"/>
<polygon fill="#7099bb" points="2398.8,924.2 2377.7,919.8 2367,945.3 2388.2,949.5"/>
<polygon fill="#769ebf" points="2135.6,935.3 2115,929.3 2102.8,951.5 2123.6,957.6"/>
<polygon fill="#769ebf" points="2325,935.3 2304.1,929.8 2293,954.5 2314.1,960.1"/>
<polygon fill="#6c95b8" points="2472.6,912.1 2451.4,908.4 2441.1,931.9 2462.5,934.7"/>
<polygon fill="#6b94b8" points="2546.4,900.3 2525,897.2 2515.4,916.8 2536.9,917.9"/>
<polygon fill="#769ebf" points="2251.2,942.8 2230.3,936.4 2218.8,959.6 2239.8,966.2"/>
<polygon fill="#769ebf" points="2156.3,941.3 2135.6,935.3 2123.6,957.6 2144.4,963.8"/>
<polygon fill="#769ebf" points="2346,940.7 2325,935.3 2314.1,960.1 2335.1,965.5"/>
<polygon fill="#6d97b9" points="2419.9,928.3 2398.8,924.2 2388.2,949.5 2409.4,953.2"/>
<polygon fill="#769ebf" points="2272.1,949 2251.2,942.8 2239.8,966.2 2260.8,972.5"/>
<polygon fill="#648eb2" points="2493.9,914.9 2472.6,912.1 2462.5,934.7 2483.9,936.3"/>
<polygon fill="#769ebf" points="2177.1,947.4 2156.3,941.3 2144.4,963.8 2165.3,969.9"/>
<polygon fill="#759dbe" points="2367,945.3 2346,940.7 2335.1,965.5 2356.3,970"/>
<polygon fill="#6892b6" points="2567.9,902.9 2546.4,900.3 2536.9,917.9 2558.7,918.2"/>
<polygon fill="#6892b6" points="2441.1,931.9 2419.9,928.3 2409.4,953.2 2430.8,956.2"/>
<polygon fill="#769ebf" points="2293,954.5 2272.1,949 2260.8,972.5 2281.9,978.2"/>
<polygon fill="#769ebf" points="2198,953.4 2177.1,947.4 2165.3,969.9 2186.2,976.1"/>
<polygon fill="#5983a7" points="2515.4,916.8 2493.9,914.9 2483.9,936.3 2505.6,936.1"/>
<polygon fill="#7099bb" points="2388.2,949.5 2367,945.3 2356.3,970 2377.5,973.9"/>
<polygon fill="#769ebf" points="2314.1,960.1 2293,954.5 2281.9,978.2 2303,983.8"/>
<polygon fill="#769ebf" points="2218.8,959.6 2198,953.4 2186.2,976.1 2207.2,982.4"/>
<polygon fill="#749cbd" points="2589.4,906.1 2567.9,902.9 2558.7,918.2 2580.5,919.5"/>
<polygon fill="#608aae" points="2462.5,934.7 2441.1,931.9 2430.8,956.2 2452.2,958.1"/>
<polygon fill="#769ebf" points="2239.8,966.2 2218.8,959.6 2207.2,982.4 2228.3,989.2"/>
<polygon fill="#769ebf" points="2335.1,965.5 2314.1,960.1 2303,983.8 2324.2,989.3"/>
<polygon fill="#6c95b9" points="2409.4,953.2 2388.2,949.5 2377.5,973.9 2398.9,977.3"/>
<polygon fill="#537ea1" points="2536.9,917.9 2515.4,916.8 2505.6,936.1 2527.4,934.8"/>
<polygon fill="#769ebf" points="2260.8,972.5 2239.8,966.2 2228.3,989.2 2249.4,995.6"/>
<polygon fill="#537ea1" points="2483.9,936.3 2462.5,934.7 2452.2,958.1 2473.8,958.2"/>
<polygon fill="#769ebf" points="2356.3,970 2335.1,965.5 2324.2,989.3 2345.4,993.7"/>
<polygon fill="#648eb2" points="2430.8,956.2 2409.4,953.2 2398.9,977.3 2420.3,979.7"/>
<polygon fill="#769ebf" points="2281.9,978.2 2260.8,972.5 2249.4,995.6 2270.6,1001.3"/>
<polygon fill="#7199bc" points="2377.5,973.9 2356.3,970 2345.4,993.7 2366.8,997.4"/>
<polygon fill="#4f7a9c" points="2558.7,918.2 2536.9,917.9 2527.4,934.8 2549.5,931.8"/>
<polygon fill="#769ebf" points="2303,983.8 2281.9,978.2 2270.6,1001.3 2291.8,1007"/>
<polygon fill="#477193" points="2505.6,936.1 2483.9,936.3 2473.8,958.2 2495.7,955.8"/>
<polygon fill="#5883a6" points="2452.2,958.1 2430.8,956.2 2420.3,979.7 2441.9,980.8"/>
<polygon fill="#6b95b8" points="2398.9,977.3 2377.5,973.9 2366.8,997.4 2388.2,1000.6"/>
<polygon fill="#769ebf" points="2324.2,989.3 2303,983.8 2291.8,1007 2313.1,1012.6"/>
<polygon fill="#5e88ac" points="2580.5,919.5 2558.7,918.2 2549.5,931.8 2571.6,930.1"/>
<polygon fill="#4a7496" points="2473.8,958.2 2452.2,958.1 2441.9,980.8 2463.6,979.5"/>
<polygon fill="#769ebf" points="2345.4,993.7 2324.2,989.3 2313.1,1012.6 2334.4,1016.9"/>
<polygon fill="#426c8d" points="2527.4,934.8 2505.6,936.1 2495.7,955.8 2517.8,951.4"/>
<polygon fill="#608bae" points="2420.3,979.7 2398.9,977.3 2388.2,1000.6 2409.7,1002.6"/>
<polygon fill="#7099bb" points="2366.8,997.4 2345.4,993.7 2334.4,1016.9 2355.9,1020.6"/>
<polygon fill="#527da0" points="2441.9,980.8 2420.3,979.7 2409.7,1002.6 2431.4,1002.9"/>
<polygon fill="#3f6888" points="2495.7,955.8 2473.8,958.2 2463.6,979.5 2485.7,974.8"/>
<polygon fill="#6a93b7" points="2388.2,1000.6 2366.8,997.4 2355.9,1020.6 2377.4,1023.5"/>
<polygon fill="#3f6788" points="2549.5,931.8 2527.4,934.8 2517.8,951.4 2540.1,944.1"/>
<polygon fill="#436c8e" points="2463.6,979.5 2441.9,980.8 2431.4,1002.9 2453.3,1000.5"/>
<polygon fill="#5d87ab" points="2409.7,1002.6 2388.2,1000.6 2377.4,1023.5 2399.1,1025.1"/>
<polygon fill="url(#pb)" points="2517.8,951.4 2495.7,955.8 2485.7,974.8 2508,967"/>
<polygon fill="#467193" points="2571.6,930.1 2549.5,931.8 2540.1,944.1 2562.7,938.6"/>
<polygon fill="#4e799b" points="2431.4,1002.9 2409.7,1002.6 2399.1,1025.1 2420.9,1025"/>
<polygon fill="url(#pb)" points="2485.7,974.8 2463.6,979.5 2453.3,1000.5 2475.5,993.7"/>
<polygon fill="url(#pb)" points="2540.1,944.1 2517.8,951.4 2508,967 2530.8,954.8"/>
<polygon fill="#406889" points="2453.3,1000.5 2431.4,1002.9 2420.9,1025 2442.9,1021.5"/>
<polygon fill="url(#pb)" points="2508,967 2485.7,974.8 2475.5,993.7 2498.1,982.9"/>
<polygon fill="url(#pb)" points="2475.5,993.7 2453.3,1000.5 2442.9,1021.5 2465.3,1013"/>
<polygon fill="url(#pb)" points="2562.7,938.6 2540.1,944.1 2530.8,954.8 2553.7,944.5"/>
<polygon fill="url(#pm)" points="2530.8,954.8 2508,967 2498.1,982.9 2521.2,966.2"/>
<polygon fill="url(#pm)" points="2498.1,982.9 2475.5,993.7 2465.3,1013 2488.1,999.5"/>
<polygon fill="url(#pb)" points="2553.7,944.5 2530.8,954.8 2521.2,966.2 2544.5,951.3"/>
<polygon fill="url(#pd)" points="2521.2,966.2 2498.1,982.9 2488.1,999.5 2511.4,978.6"/>
<polygon fill="url(#pm)" points="2544.5,951.3 2521.2,966.2 2511.4,978.6 2535.1,959.3"/>
</g>
<g stroke="#0a1a30" stroke-width="3" fill="none" opacity="0.45">
<line x1="1848.9" y1="389.5" x2="2555.4" y2="553.2" stroke-dasharray="6.5 10.5"/>
<line x1="2555.4" y1="553.2" x2="2759.3" y2="139.1" stroke-dasharray="6.5 10.5"/>
<line x1="2529.1" y1="1079.4" x2="2555.4" y2="553.2" stroke-dasharray="6.5 10.5"/>
</g>
<g stroke="#1a1a1a" stroke-width="4" stroke-linecap="butt" fill="none">
<line x1="2441.9" y1="1055.9" x2="2434.9" y2="1084.3"/>
<line x1="2334.4" y1="1027" x2="2327.4" y2="1055.2"/>
<line x1="2228.5" y1="998.5" x2="2221.5" y2="1026.5"/>
<line x1="2124.2" y1="970.5" x2="2117.2" y2="998.2"/>
<line x1="2021.4" y1="942.8" x2="2014.5" y2="970.3"/>
<line x1="1920.1" y1="915.6" x2="1913.2" y2="942.9"/>
<line x1="2715.5" y1="647.7" x2="2732.1" y2="665.6"/>
<line x1="2675.1" y1="741.5" x2="2692.1" y2="759.7"/>
<line x1="2632.3" y1="840.5" x2="2649.9" y2="859"/>
<line x1="2587" y1="945.3" x2="2605.3" y2="964.1"/>
<line x1="2539.1" y1="1056.3" x2="2557.9" y2="1075.5"/>
<line x1="1890.9" y1="816.4" x2="1862" y2="825.5"/>
<line x1="1875.9" y1="663.8" x2="1845.9" y2="672.7"/>
<line x1="1859.8" y1="500.1" x2="1828.7" y2="508.9"/>
</g>
<text x="2432.2" y="1132.5" font-size="48.5" text-anchor="middle" textLength="27.9" lengthAdjust="spacingAndGlyphs">5</text>
<text x="2326.8" y="1104.3" font-size="48.5" text-anchor="middle" textLength="55.8" lengthAdjust="spacingAndGlyphs">10</text>
<text x="2223.7" y="1076.1" font-size="48.5" text-anchor="middle" textLength="55.8" lengthAdjust="spacingAndGlyphs">15</text>
<text x="2120.3" y="1047.5" font-size="48.5" text-anchor="middle" textLength="55.8" lengthAdjust="spacingAndGlyphs">20</text>
<text x="2016.8" y="1019.3" font-size="48.5" text-anchor="middle" textLength="55.8" lengthAdjust="spacingAndGlyphs">25</text>
<text x="1921.4" y="991.5" font-size="48.5" text-anchor="middle" textLength="55.8" lengthAdjust="spacingAndGlyphs">30</text>
<text x="2744.9" y="701.9" font-size="48.5" text-anchor="middle" textLength="27.9" lengthAdjust="spacingAndGlyphs">0</text>
<text x="2700.8" y="802.2" font-size="48.5" text-anchor="middle" textLength="27.9" lengthAdjust="spacingAndGlyphs">5</text>
<text x="2671.5" y="904.1" font-size="48.5" text-anchor="middle" textLength="55.8" lengthAdjust="spacingAndGlyphs">10</text>
<text x="2627.4" y="1007.7" font-size="48.5" text-anchor="middle" textLength="55.8" lengthAdjust="spacingAndGlyphs">15</text>
<text x="2582.5" y="1111.4" font-size="48.5" text-anchor="middle" textLength="55.8" lengthAdjust="spacingAndGlyphs">20</text>
<text x="1855.5" y="848.2" font-size="48.5" text-anchor="end" textLength="27.9" lengthAdjust="spacingAndGlyphs">2</text>
<text x="1839.4" y="695.4" font-size="48.5" text-anchor="end" textLength="27.9" lengthAdjust="spacingAndGlyphs">4</text>
<text x="1822.2" y="531.6" font-size="48.5" text-anchor="end" textLength="27.9" lengthAdjust="spacingAndGlyphs">6</text>
<text transform="translate(1912.3 1059.4) rotate(15.4)" font-size="48.5" text-anchor="start" textLength="521.2" lengthAdjust="spacingAndGlyphs">Mean temperature (°C)</text>
<text transform="translate(2759.1 962.3) rotate(-69)" font-size="48.5" text-anchor="start" textLength="75.4" lengthAdjust="spacingAndGlyphs">Lag</text>
<text transform="translate(1743 659) rotate(-90)" font-size="48.5" text-anchor="middle" textLength="375.7" lengthAdjust="spacingAndGlyphs">Relative risk (<tspan font-style="italic">RR</tspan>)</text>
<text x="2044.6" y="1271.9" font-size="48.5" text-anchor="start" textLength="517.8" lengthAdjust="spacingAndGlyphs">B. Western Guangdong</text>
<g stroke="#1a1a1a" stroke-width="4.2" stroke-linecap="square" fill="none">
<line x1="476.5" y1="1784" x2="750.9" y2="1414.1"/>
<line x1="750.9" y1="1414.1" x2="1370.6" y2="1538.1"/>
<line x1="750.9" y1="1414.1" x2="769.3" y2="1906"/>
<line x1="476.5" y1="1784" x2="526.8" y2="2295.4"/>
<line x1="1370.6" y1="1538.1" x2="1327.7" y2="2037.6"/>
<line x1="526.8" y1="2295.4" x2="1144.6" y2="2461.5"/>
<line x1="1144.6" y1="2461.5" x2="1327.7" y2="2037.6"/>
<line x1="526.8" y1="2295.4" x2="769.3" y2="1906"/>
<line x1="769.3" y1="1906" x2="1327.7" y2="2037.6"/>
<line x1="476.5" y1="1784" x2="1170.3" y2="1944.8" stroke-dasharray="6.5 10.5"/>
<line x1="1170.3" y1="1944.8" x2="1370.6" y2="1538.1" stroke-dasharray="6.5 10.5"/>
<line x1="1144.6" y1="2461.5" x2="1170.3" y2="1944.8" stroke-dasharray="6.5 10.5"/>
</g>
<g stroke="#071c3a" stroke-width="4.5" stroke-linejoin="round">
<polygon fill="#779fc0" points="786.8,1900.4 768.8,1893.9 758.3,1907.5 776.4,1914.1"/>
<polygon fill="#779fc0" points="804.8,1905.3 786.8,1900.4 776.4,1914.1 794.5,1919"/>
<polygon fill="#769ebf" points="822.8,1908 804.8,1905.3 794.5,1919 812.6,1921.7"/>
<polygon fill="#6892b6" points="840.9,1908.7 822.8,1908 812.6,1921.7 830.7,1922.6"/>
<polygon fill="#779fc0" points="776.4,1914.1 758.3,1907.5 747.7,1922 765.9,1927.9"/>
<polygon fill="#628cb0" points="858.9,1909 840.9,1908.7 830.7,1922.6 848.9,1923"/>
<polygon fill="#779fc0" points="794.5,1919 776.4,1914.1 765.9,1927.9 784.1,1932.6"/>
<polygon fill="#769ebf" points="812.6,1921.7 794.5,1919 784.1,1932.6 802.3,1935.9"/>
<polygon fill="#547fa2" points="877.1,1908 858.9,1909 848.9,1923 867.1,1922.2"/>
<polygon fill="#6d96b9" points="830.7,1922.6 812.6,1921.7 802.3,1935.9 820.5,1937.8"/>
<polygon fill="#4a7497" points="895.3,1905.7 877.1,1908 867.1,1922.2 885.4,1920.2"/>
<polygon fill="#779fc0" points="765.9,1927.9 747.7,1922 737,1936.6 755.2,1942.1"/>
<polygon fill="#6690b4" points="848.9,1923 830.7,1922.6 820.5,1937.8 838.8,1939.4"/>
<polygon fill="#779fc0" points="784.1,1932.6 765.9,1927.9 755.2,1942.1 773.5,1946.8"/>
<polygon fill="#769ebf" points="802.3,1935.9 784.1,1932.6 773.5,1946.8 791.8,1950.4"/>
<polygon fill="#426c8d" points="913.6,1902 895.3,1905.7 885.4,1920.2 903.8,1916.8"/>
<polygon fill="#5681a4" points="867.1,1922.2 848.9,1923 838.8,1939.4 857.1,1940.3"/>
<polygon fill="#769ebf" points="820.5,1937.8 802.3,1935.9 791.8,1950.4 810.1,1952.9"/>
<polygon fill="#4a7597" points="885.4,1920.2 867.1,1922.2 857.1,1940.3 875.5,1940.3"/>
<polygon fill="#779fc0" points="755.2,1942.1 737,1936.6 726.1,1950.9 744.5,1956"/>
<polygon fill="url(#pb)" points="932,1896.3 913.6,1902 903.8,1916.8 922.3,1911.4"/>
<polygon fill="#719abc" points="838.8,1939.4 820.5,1937.8 810.1,1952.9 828.5,1955.2"/>
<polygon fill="#769ebf" points="773.5,1946.8 755.2,1942.1 744.5,1956 762.8,1960.5"/>
<polygon fill="#416b8c" points="903.8,1916.8 885.4,1920.2 875.5,1940.3 893.9,1939.5"/>
<polygon fill="#6892b6" points="857.1,1940.3 838.8,1939.4 828.5,1955.2 846.9,1956.9"/>
<polygon fill="#769ebf" points="791.8,1950.4 773.5,1946.8 762.8,1960.5 781.2,1964.3"/>
<polygon fill="url(#pb)" points="950.6,1889.2 932,1896.3 922.3,1911.4 940.9,1904.9"/>
<polygon fill="#769ebf" points="810.1,1952.9 791.8,1950.4 781.2,1964.3 799.6,1967.4"/>
<polygon fill="#5d88ab" points="875.5,1940.3 857.1,1940.3 846.9,1956.9 865.4,1958"/>
<polygon fill="url(#pb)" points="922.3,1911.4 903.8,1916.8 893.9,1939.5 912.5,1937.5"/>
<polygon fill="#769ebf" points="828.5,1955.2 810.1,1952.9 799.6,1967.4 818.1,1970.4"/>
<polygon fill="#779fc0" points="744.5,1956 726.1,1950.9 715.1,1965.3 733.5,1969.8"/>
<polygon fill="#527da0" points="893.9,1939.5 875.5,1940.3 865.4,1958 884,1958.5"/>
<polygon fill="#769ebf" points="762.8,1960.5 744.5,1956 733.5,1969.8 752,1974.1"/>
<polygon fill="url(#pb)" points="969.3,1880.7 950.6,1889.2 940.9,1904.9 959.7,1896.9"/>
<polygon fill="#739bbd" points="846.9,1956.9 828.5,1955.2 818.1,1970.4 836.6,1972.9"/>
<polygon fill="url(#pb)" points="940.9,1904.9 922.3,1911.4 912.5,1937.5 931.2,1934.9"/>
<polygon fill="#769ebf" points="781.2,1964.3 762.8,1960.5 752,1974.1 770.5,1978.1"/>
<polygon fill="#487294" points="912.5,1937.5 893.9,1939.5 884,1958.5 902.6,1958.2"/>
<polygon fill="#6b95b8" points="865.4,1958 846.9,1956.9 836.6,1972.9 855.2,1975.2"/>
<polygon fill="#769ebf" points="799.6,1967.4 781.2,1964.3 770.5,1978.1 789,1981.6"/>
<polygon fill="url(#pb)" points="959.7,1896.9 940.9,1904.9 931.2,1934.9 949.9,1931.5"/>
<polygon fill="#436c8e" points="931.2,1934.9 912.5,1937.5 902.6,1958.2 921.3,1957.4"/>
<polygon fill="#628db0" points="884,1958.5 865.4,1958 855.2,1975.2 873.9,1977"/>
<polygon fill="url(#pb)" points="988.1,1870.5 969.3,1880.7 959.7,1896.9 978.6,1888.3"/>
<polygon fill="#769ebf" points="818.1,1970.4 799.6,1967.4 789,1981.6 807.6,1985"/>
<polygon fill="#769ebf" points="733.5,1969.8 715.1,1965.3 704,1979.7 722.5,1984"/>
<polygon fill="#769ebf" points="752,1974.1 733.5,1969.8 722.5,1984 741,1988.1"/>
<polygon fill="#769ebf" points="836.6,1972.9 818.1,1970.4 807.6,1985 826.2,1988.3"/>
<polygon fill="#5681a4" points="902.6,1958.2 884,1958.5 873.9,1977 892.6,1978.3"/>
<polygon fill="#3f6889" points="949.9,1931.5 931.2,1934.9 921.3,1957.4 940.1,1956.2"/>
<polygon fill="#769ebf" points="770.5,1978.1 752,1974.1 741,1988.1 759.6,1992.2"/>
<polygon fill="url(#pm)" points="978.6,1888.3 959.7,1896.9 949.9,1931.5 968.8,1927.3"/>
<polygon fill="#769ebf" points="855.2,1975.2 836.6,1972.9 826.2,1988.3 844.9,1991.3"/>
<polygon fill="#507a9d" points="921.3,1957.4 902.6,1958.2 892.6,1978.3 911.4,1979.4"/>
<polygon fill="url(#pm)" points="1007.2,1858.8 988.1,1870.5 978.6,1888.3 997.7,1880.4"/>
<polygon fill="#769ebf" points="789,1981.6 770.5,1978.1 759.6,1992.2 778.2,1996"/>
<polygon fill="#729bbd" points="873.9,1977 855.2,1975.2 844.9,1991.3 863.7,1994.1"/>
<polygon fill="url(#pb)" points="968.8,1927.3 949.9,1931.5 940.1,1956.2 959.1,1954.5"/>
<polygon fill="#769ebf" points="807.6,1985 789,1981.6 778.2,1996 796.9,1999.9"/>
<polygon fill="#769ebf" points="722.5,1984 704,1979.7 692.7,1994.1 711.3,1998.3"/>
<polygon fill="#497496" points="940.1,1956.2 921.3,1957.4 911.4,1979.4 930.3,1980.2"/>
<polygon fill="url(#pm)" points="997.7,1880.4 978.6,1888.3 968.8,1927.3 987.8,1922.6"/>
<polygon fill="#6b95b8" points="892.6,1978.3 873.9,1977 863.7,1994.1 882.5,1996.6"/>
<polygon fill="#769ebf" points="826.2,1988.3 807.6,1985 796.9,1999.9 815.7,2003.6"/>
<polygon fill="#769ebf" points="741,1988.1 722.5,1984 711.3,1998.3 729.9,2002.6"/>
<polygon fill="url(#pb)" points="987.8,1922.6 968.8,1927.3 959.1,1954.5 978.1,1952.4"/>
<polygon fill="url(#pm)" points="1026.5,1845.3 1007.2,1858.8 997.7,1880.4 1016.9,1870.6"/>
<polygon fill="#436d8f" points="959.1,1954.5 940.1,1956.2 930.3,1980.2 949.2,1980.7"/>
<polygon fill="#769ebf" points="759.6,1992.2 741,1988.1 729.9,2002.6 748.6,2006.9"/>
<polygon fill="#6690b4" points="911.4,1979.4 892.6,1978.3 882.5,1996.6 901.4,1999"/>
<polygon fill="#769ebf" points="844.9,1991.3 826.2,1988.3 815.7,2003.6 834.5,2007.3"/>
<polygon fill="#769ebf" points="778.2,1996 759.6,1992.2 748.6,2006.9 767.4,2011.1"/>
<polygon fill="url(#pm)" points="1016.9,1870.6 997.7,1880.4 987.8,1922.6 1007,1917"/>
<polygon fill="#769ebf" points="863.7,1994.1 844.9,1991.3 834.5,2007.3 853.3,2010.9"/>
<polygon fill="#5f8aad" points="930.3,1980.2 911.4,1979.4 901.4,1999 920.3,2001.3"/>
<polygon fill="#416a8b" points="978.1,1952.4 959.1,1954.5 949.2,1980.7 968.3,1981.1"/>
<polygon fill="url(#pb)" points="1007,1917 987.8,1922.6 978.1,1952.4 997.2,1949.8"/>
<polygon fill="#769ebf" points="796.9,1999.9 778.2,1996 767.4,2011.1 786.2,2015.4"/>
<polygon fill="#769ebf" points="711.3,1998.3 692.7,1994.1 681.3,2008.6 700,2013.1"/>
<polygon fill="#769ebf" points="882.5,1996.6 863.7,1994.1 853.3,2010.9 872.3,2014.3"/>
<polygon fill="#5883a6" points="949.2,1980.7 930.3,1980.2 920.3,2001.3 939.4,2003.5"/>
<polygon fill="#769ebf" points="815.7,2003.6 796.9,1999.9 786.2,2015.4 805,2019.7"/>
<polygon fill="#769ebf" points="729.9,2002.6 711.3,1998.3 700,2013.1 718.7,2017.6"/>
<polygon fill="url(#pd)" points="1046,1830.8 1026.5,1845.3 1016.9,1870.6 1036.3,1859.6"/>
<polygon fill="#3e6686" points="997.2,1949.8 978.1,1952.4 968.3,1981.1 987.4,1981.2"/>
<polygon fill="#759dbe" points="901.4,1999 882.5,1996.6 872.3,2014.3 891.2,2017.7"/>
<polygon fill="url(#pm)" points="1036.3,1859.6 1016.9,1870.6 1007,1917 1026.3,1911.3"/>
<polygon fill="url(#pb)" points="1026.3,1911.3 1007,1917 997.2,1949.8 1016.4,1947.2"/>
<polygon fill="#769ebf" points="834.5,2007.3 815.7,2003.6 805,2019.7 823.9,2024"/>
<polygon fill="#769ebf" points="748.6,2006.9 729.9,2002.6 718.7,2017.6 737.5,2022.1"/>
<polygon fill="#527da0" points="968.3,1981.1 949.2,1980.7 939.4,2003.5 958.5,2005.5"/>
<polygon fill="#719abc" points="920.3,2001.3 901.4,1999 891.2,2017.7 910.3,2021"/>
<polygon fill="#769ebf" points="853.3,2010.9 834.5,2007.3 823.9,2024 842.9,2028.2"/>
<polygon fill="#769ebf" points="767.4,2011.1 748.6,2006.9 737.5,2022.1 756.4,2026.7"/>
<polygon fill="url(#pb)" points="1016.4,1947.2 997.2,1949.8 987.4,1981.2 1006.6,1981.4"/>
<polygon fill="#4e789b" points="987.4,1981.2 968.3,1981.1 958.5,2005.5 977.6,2007.5"/>
<polygon fill="#6d97b9" points="939.4,2003.5 920.3,2001.3 910.3,2021 929.4,2024.3"/>
<polygon fill="#769ebf" points="786.2,2015.4 767.4,2011.1 756.4,2026.7 775.3,2031.2"/>
<polygon fill="#769ebf" points="872.3,2014.3 853.3,2010.9 842.9,2028.2 861.9,2032.4"/>
<polygon fill="url(#pb)" points="1045.7,1905.7 1026.3,1911.3 1016.4,1947.2 1035.8,1944.8"/>
<polygon fill="#769ebf" points="700,2013.1 681.3,2008.6 669.7,2024.2 688.6,2029.2"/>
<polygon fill="url(#pm)" points="1056,1848.6 1036.3,1859.6 1026.3,1911.3 1045.7,1905.7"/>
<polygon fill="url(#pd)" points="1065.7,1816 1046,1830.8 1036.3,1859.6 1056,1848.6"/>
<polygon fill="#769ebf" points="805,2019.7 786.2,2015.4 775.3,2031.2 794.2,2035.8"/>
<polygon fill="url(#pb)" points="1035.8,1944.8 1016.4,1947.2 1006.6,1981.4 1026,1981.7"/>
<polygon fill="#4a7597" points="1006.6,1981.4 987.4,1981.2 977.6,2007.5 996.9,2009.5"/>
<polygon fill="#769ebf" points="891.2,2017.7 872.3,2014.3 861.9,2032.4 881,2036.6"/>
<polygon fill="#6993b7" points="958.5,2005.5 939.4,2003.5 929.4,2024.3 948.6,2027.6"/>
<polygon fill="#769ebf" points="718.7,2017.6 700,2013.1 688.6,2029.2 707.4,2034"/>
<polygon fill="#769ebf" points="823.9,2024 805,2019.7 794.2,2035.8 813.2,2040.4"/>
<polygon fill="#769ebf" points="737.5,2022.1 718.7,2017.6 707.4,2034 726.3,2038.8"/>
<polygon fill="#769ebf" points="910.3,2021 891.2,2017.7 881,2036.6 900.1,2040.8"/>
<polygon fill="url(#pb)" points="1065.2,1899.8 1045.7,1905.7 1035.8,1944.8 1055.3,1942.2"/>
<polygon fill="#648fb2" points="977.6,2007.5 958.5,2005.5 948.6,2027.6 967.8,2030.8"/>
<polygon fill="#487294" points="1026,1981.7 1006.6,1981.4 996.9,2009.5 1016.2,2011.7"/>
<polygon fill="url(#pb)" points="1055.3,1942.2 1035.8,1944.8 1026,1981.7 1045.4,1982"/>
<polygon fill="#769ebf" points="842.9,2028.2 823.9,2024 813.2,2040.4 832.3,2045"/>
<polygon fill="#769ebf" points="756.4,2026.7 737.5,2022.1 726.3,2038.8 745.3,2043.7"/>
<polygon fill="#769ebf" points="929.4,2024.3 910.3,2021 900.1,2040.8 919.3,2045.1"/>
<polygon fill="url(#pm)" points="1075.8,1837.1 1056,1848.6 1045.7,1905.7 1065.2,1899.8"/>
<polygon fill="#618baf" points="996.9,2009.5 977.6,2007.5 967.8,2030.8 987.1,2034"/>
<polygon fill="#769ebf" points="861.9,2032.4 842.9,2028.2 832.3,2045 851.4,2049.6"/>
<polygon fill="#446e90" points="1045.4,1982 1026,1981.7 1016.2,2011.7 1035.6,2013.8"/>
<polygon fill="#769ebf" points="775.3,2031.2 756.4,2026.7 745.3,2043.7 764.3,2048.4"/>
<polygon fill="url(#pd)" points="1085.6,1800 1065.7,1816 1056,1848.6 1075.8,1837.1"/>
<polygon fill="#769ebf" points="688.6,2029.2 669.7,2024.2 658.2,2041 677.1,2046.4"/>
<polygon fill="#759dbe" points="948.6,2027.6 929.4,2024.3 919.3,2045.1 938.6,2049.3"/>
<polygon fill="url(#pb)" points="1074.9,1939.2 1055.3,1942.2 1045.4,1982 1064.9,1982.1"/>
<polygon fill="url(#pm)" points="1085,1893.2 1065.2,1899.8 1055.3,1942.2 1074.9,1939.2"/>
<polygon fill="#5e89ac" points="1016.2,2011.7 996.9,2009.5 987.1,2034 1006.4,2037.4"/>
<polygon fill="#769ebf" points="881,2036.6 861.9,2032.4 851.4,2049.6 870.6,2054.3"/>
<polygon fill="#769ebf" points="794.2,2035.8 775.3,2031.2 764.3,2048.4 783.4,2053.2"/>
<polygon fill="#769ebf" points="707.4,2034 688.6,2029.2 677.1,2046.4 696.1,2051.7"/>
<polygon fill="#426b8d" points="1064.9,1982.1 1045.4,1982 1035.6,2013.8 1055.1,2015.8"/>
<polygon fill="#729abc" points="967.8,2030.8 948.6,2027.6 938.6,2049.3 957.9,2053.5"/>
<polygon fill="#769ebf" points="813.2,2040.4 794.2,2035.8 783.4,2053.2 802.5,2058"/>
<polygon fill="#769ebf" points="900.1,2040.8 881,2036.6 870.6,2054.3 889.8,2058.9"/>
<polygon fill="#769ebf" points="726.3,2038.8 707.4,2034 696.1,2051.7 715.1,2056.8"/>
<polygon fill="#5a85a8" points="1035.6,2013.8 1016.2,2011.7 1006.4,2037.4 1025.9,2040.8"/>
<polygon fill="url(#pd)" points="1095.8,1824.6 1075.8,1837.1 1065.2,1899.8 1085,1893.2"/>
<polygon fill="url(#pb)" points="1094.6,1935.8 1074.9,1939.2 1064.9,1982.1 1084.4,1982"/>
<polygon fill="#6f98bb" points="987.1,2034 967.8,2030.8 957.9,2053.5 977.2,2057.7"/>
<polygon fill="#769ebf" points="832.3,2045 813.2,2040.4 802.5,2058 821.6,2062.8"/>
<polygon fill="#769ebf" points="919.3,2045.1 900.1,2040.8 889.8,2058.9 909.1,2063.6"/>
<polygon fill="#769ebf" points="745.3,2043.7 726.3,2038.8 715.1,2056.8 734.1,2061.8"/>
<polygon fill="#40698a" points="1084.4,1982 1064.9,1982.1 1055.1,2015.8 1074.6,2017.8"/>
<polygon fill="url(#pm)" points="1104.9,1886.1 1085,1893.2 1074.9,1939.2 1094.6,1935.8"/>
<polygon fill="#5580a3" points="1055.1,2015.8 1035.6,2013.8 1025.9,2040.8 1045.4,2044"/>
<polygon fill="#6d96b9" points="1006.4,2037.4 987.1,2034 977.2,2057.7 996.6,2062"/>
<polygon fill="#769ebf" points="851.4,2049.6 832.3,2045 821.6,2062.8 840.8,2067.7"/>
<polygon fill="#769ebf" points="764.3,2048.4 745.3,2043.7 734.1,2061.8 753.2,2066.7"/>
<polygon fill="url(#pd)" points="1105.9,1781.9 1085.6,1800 1075.8,1837.1 1095.8,1824.6"/>
<polygon fill="#769ebf" points="938.6,2049.3 919.3,2045.1 909.1,2063.6 928.5,2068.2"/>
<polygon fill="#779fc0" points="677.1,2046.4 658.2,2041 646.5,2058.3 665.5,2064.2"/>
<polygon fill="url(#pb)" points="1114.5,1932 1094.6,1935.8 1084.4,1982 1104.1,1981.8"/>
<polygon fill="#3f6787" points="1104.1,1981.8 1084.4,1982 1074.6,2017.8 1094.3,2019.7"/>
<polygon fill="#517c9f" points="1074.6,2017.8 1055.1,2015.8 1045.4,2044 1064.9,2047.3"/>
<polygon fill="#769ebf" points="870.6,2054.3 851.4,2049.6 840.8,2067.7 860.1,2072.5"/>
<polygon fill="#6a93b7" points="1025.9,2040.8 1006.4,2037.4 996.6,2062 1016.1,2066.3"/>
<polygon fill="#769ebf" points="783.4,2053.2 764.3,2048.4 753.2,2066.7 772.4,2071.7"/>
<polygon fill="#769ebf" points="957.9,2053.5 938.6,2049.3 928.5,2068.2 947.9,2072.9"/>
<polygon fill="#769ebf" points="696.1,2051.7 677.1,2046.4 665.5,2064.2 684.6,2069.8"/>
<polygon fill="url(#pm)" points="1125,1878.3 1104.9,1886.1 1094.6,1935.8 1114.5,1932"/>
<polygon fill="url(#pd)" points="1116.1,1811.6 1095.8,1824.6 1085,1893.2 1104.9,1886.1"/>
<polygon fill="#769ebf" points="889.8,2058.9 870.6,2054.3 860.1,2072.5 879.4,2077.3"/>
<polygon fill="#769ebf" points="802.5,2058 783.4,2053.2 772.4,2071.7 791.6,2076.6"/>
<polygon fill="#769ebf" points="715.1,2056.8 696.1,2051.7 684.6,2069.8 703.7,2075"/>
<polygon fill="#6690b4" points="1045.4,2044 1025.9,2040.8 1016.1,2066.3 1035.7,2070.6"/>
<polygon fill="#769ebf" points="977.2,2057.7 957.9,2053.5 947.9,2072.9 967.3,2077.6"/>
<polygon fill="#4e799c" points="1094.3,2019.7 1074.6,2017.8 1064.9,2047.3 1084.6,2050.5"/>
<polygon fill="url(#pb)" points="1124,1981.2 1104.1,1981.8 1094.3,2019.7 1114,2021.4"/>
<polygon fill="url(#pb)" points="1134.5,1927.7 1114.5,1932 1104.1,1981.8 1124,1981.2"/>
<polygon fill="#769ebf" points="821.6,2062.8 802.5,2058 791.6,2076.6 810.8,2081.4"/>
<polygon fill="#769ebf" points="909.1,2063.6 889.8,2058.9 879.4,2077.3 898.8,2082.2"/>
<polygon fill="#769ebf" points="734.1,2061.8 715.1,2056.8 703.7,2075 722.8,2080.2"/>
<polygon fill="#769ebf" points="996.6,2062 977.2,2057.7 967.3,2077.6 986.8,2082.3"/>
<polygon fill="#628cb0" points="1064.9,2047.3 1045.4,2044 1035.7,2070.6 1055.3,2074.9"/>
<polygon fill="#4a7597" points="1114,2021.4 1094.3,2019.7 1084.6,2050.5 1104.3,2053.5"/>
<polygon fill="#769ebf" points="840.8,2067.7 821.6,2062.8 810.8,2081.4 830.2,2086.3"/>
<polygon fill="#769ebf" points="928.5,2068.2 909.1,2063.6 898.8,2082.2 918.2,2087"/>
<polygon fill="url(#pb)" points="1143.9,1980.5 1124,1981.2 1114,2021.4 1133.8,2022.9"/>
<polygon fill="#769ebf" points="753.2,2066.7 734.1,2061.8 722.8,2080.2 742,2085.3"/>
<polygon fill="url(#pd)" points="1126.5,1761.7 1105.9,1781.9 1095.8,1824.6 1116.1,1811.6"/>
<polygon fill="#769ebf" points="1016.1,2066.3 996.6,2062 986.8,2082.3 1006.4,2087.1"/>
<polygon fill="url(#pm)" points="1145.2,1869.7 1125,1878.3 1114.5,1932 1134.5,1927.7"/>
<polygon fill="#779fc0" points="665.5,2064.2 646.5,2058.3 634.7,2076.5 653.8,2082.8"/>
<polygon fill="#5e89ac" points="1084.6,2050.5 1064.9,2047.3 1055.3,2074.9 1074.9,2079.1"/>
<polygon fill="url(#pb)" points="1154.6,1923 1134.5,1927.7 1124,1981.2 1143.9,1980.5"/>
<polygon fill="url(#pd)" points="1136.5,1798.8 1116.1,1811.6 1104.9,1886.1 1125,1878.3"/>
<polygon fill="#769ebf" points="860.1,2072.5 840.8,2067.7 830.2,2086.3 849.5,2091.3"/>
<polygon fill="#477193" points="1133.8,2022.9 1114,2021.4 1104.3,2053.5 1124.1,2056.5"/>
<polygon fill="#769ebf" points="772.4,2071.7 753.2,2066.7 742,2085.3 761.3,2090.3"/>
<polygon fill="#769ebf" points="947.9,2072.9 928.5,2068.2 918.2,2087 937.7,2091.9"/>
<polygon fill="#769ebf" points="684.6,2069.8 665.5,2064.2 653.8,2082.8 673,2088.7"/>
<polygon fill="#769ebf" points="1035.7,2070.6 1016.1,2066.3 1006.4,2087.1 1026,2091.8"/>
<polygon fill="#5984a7" points="1104.3,2053.5 1084.6,2050.5 1074.9,2079.1 1094.6,2083.3"/>
<polygon fill="url(#pb)" points="1163.9,1979.4 1143.9,1980.5 1133.8,2022.9 1153.7,2024.2"/>
<polygon fill="#769ebf" points="879.4,2077.3 860.1,2072.5 849.5,2091.3 868.9,2096.1"/>
<polygon fill="#769ebf" points="791.6,2076.6 772.4,2071.7 761.3,2090.3 780.6,2095.2"/>
<polygon fill="#769ebf" points="967.3,2077.6 947.9,2072.9 937.7,2091.9 957.3,2096.8"/>
<polygon fill="#769ebf" points="703.7,2075 684.6,2069.8 673,2088.7 692.2,2094.2"/>
<polygon fill="#769ebf" points="1055.3,2074.9 1035.7,2070.6 1026,2091.8 1045.6,2096.5"/>
<polygon fill="#446d8f" points="1153.7,2024.2 1133.8,2022.9 1124.1,2056.5 1143.9,2059.3"/>
<polygon fill="#5580a3" points="1124.1,2056.5 1104.3,2053.5 1094.6,2083.3 1114.4,2087.4"/>
<polygon fill="#769ebf" points="810.8,2081.4 791.6,2076.6 780.6,2095.2 799.9,2100.1"/>
<polygon fill="#769ebf" points="898.8,2082.2 879.4,2077.3 868.9,2096.1 888.4,2101"/>
<polygon fill="#769ebf" points="722.8,2080.2 703.7,2075 692.2,2094.2 711.5,2099.5"/>
<polygon fill="#769ebf" points="986.8,2082.3 967.3,2077.6 957.3,2096.8 976.9,2101.7"/>
<polygon fill="url(#pm)" points="1175,1917.5 1154.6,1923 1143.9,1980.5 1163.9,1979.4"/>
<polygon fill="url(#pm)" points="1165.7,1860.8 1145.2,1869.7 1134.5,1927.7 1154.6,1923"/>
<polygon fill="#769ebf" points="1074.9,2079.1 1055.3,2074.9 1045.6,2096.5 1065.4,2101.3"/>
<polygon fill="url(#pb)" points="1184.1,1977.9 1163.9,1979.4 1153.7,2024.2 1173.7,2025.2"/>
<polygon fill="#426b8c" points="1173.7,2025.2 1153.7,2024.2 1143.9,2059.3 1163.9,2061.8"/>
<polygon fill="#769ebf" points="742,2085.3 722.8,2080.2 711.5,2099.5 730.8,2104.7"/>
<polygon fill="#769ebf" points="830.2,2086.3 810.8,2081.4 799.9,2100.1 819.3,2105"/>
<polygon fill="#769ebf" points="918.2,2087 898.8,2082.2 888.4,2101 907.9,2105.9"/>
<polygon fill="#769ebf" points="1006.4,2087.1 986.8,2082.3 976.9,2101.7 996.5,2106.6"/>
<polygon fill="#517c9e" points="1143.9,2059.3 1124.1,2056.5 1114.4,2087.4 1134.3,2091.4"/>
<polygon fill="url(#pd)" points="1157.2,1785.5 1136.5,1798.8 1125,1878.3 1145.2,1869.7"/>
<polygon fill="#779fc0" points="653.8,2082.8 634.7,2076.5 622.8,2095.3 642.1,2102"/>
<polygon fill="url(#pd)" points="1147.4,1739.1 1126.5,1761.7 1116.1,1811.6 1136.5,1798.8"/>
<polygon fill="#769ebf" points="1094.6,2083.3 1074.9,2079.1 1065.4,2101.3 1085.2,2106"/>
<polygon fill="#769ebf" points="761.3,2090.3 742,2085.3 730.8,2104.7 750.1,2109.7"/>
<polygon fill="#769ebf" points="849.5,2091.3 830.2,2086.3 819.3,2105 838.8,2109.9"/>
<polygon fill="#769ebf" points="937.7,2091.9 918.2,2087 907.9,2105.9 927.5,2110.8"/>
<polygon fill="#769ebf" points="1026,2091.8 1006.4,2087.1 996.5,2106.6 1016.2,2111.6"/>
<polygon fill="#779fc0" points="673,2088.7 653.8,2082.8 642.1,2102 661.4,2108.2"/>
<polygon fill="url(#pb)" points="1204.3,1976.6 1184.1,1977.9 1173.7,2025.2 1193.8,2026.2"/>
<polygon fill="url(#pm)" points="1195.5,1911.4 1175,1917.5 1163.9,1979.4 1184.1,1977.9"/>
<polygon fill="#4d789a" points="1163.9,2061.8 1143.9,2059.3 1134.3,2091.4 1154.2,2095.3"/>
<polygon fill="#416a8b" points="1193.8,2026.2 1173.7,2025.2 1163.9,2061.8 1183.9,2064.2"/>
<polygon fill="#769ebf" points="1114.4,2087.4 1094.6,2083.3 1085.2,2106 1105,2110.7"/>
<polygon fill="url(#pm)" points="1186.3,1851.8 1165.7,1860.8 1154.6,1923 1175,1917.5"/>
<polygon fill="#769ebf" points="780.6,2095.2 761.3,2090.3 750.1,2109.7 769.5,2114.7"/>
<polygon fill="#769ebf" points="868.9,2096.1 849.5,2091.3 838.8,2109.9 858.3,2114.8"/>
<polygon fill="#769ebf" points="957.3,2096.8 937.7,2091.9 927.5,2110.8 947.1,2115.7"/>
<polygon fill="#769ebf" points="692.2,2094.2 673,2088.7 661.4,2108.2 680.7,2113.9"/>
<polygon fill="#769ebf" points="1045.6,2096.5 1026,2091.8 1016.2,2111.6 1036,2116.5"/>
<polygon fill="#4a7497" points="1183.9,2064.2 1163.9,2061.8 1154.2,2095.3 1174.2,2099.2"/>
<polygon fill="#749dbe" points="1134.3,2091.4 1114.4,2087.4 1105,2110.7 1124.9,2115.5"/>
<polygon fill="#3f6889" points="1214,2027.2 1193.8,2026.2 1183.9,2064.2 1204,2066.5"/>
<polygon fill="#769ebf" points="711.5,2099.5 692.2,2094.2 680.7,2113.9 700,2119.3"/>
<polygon fill="#769ebf" points="799.9,2100.1 780.6,2095.2 769.5,2114.7 788.9,2119.6"/>
<polygon fill="#769ebf" points="888.4,2101 868.9,2096.1 858.3,2114.8 877.9,2119.6"/>
<polygon fill="#769ebf" points="976.9,2101.7 957.3,2096.8 947.1,2115.7 966.8,2120.6"/>
<polygon fill="url(#pb)" points="1224.7,1975.4 1204.3,1976.6 1193.8,2026.2 1214,2027.2"/>
<polygon fill="#769ebf" points="1065.4,2101.3 1045.6,2096.5 1036,2116.5 1055.8,2121.5"/>
<polygon fill="url(#pd)" points="1178.1,1772.6 1157.2,1785.5 1145.2,1869.7 1165.7,1860.8"/>
<polygon fill="url(#pm)" points="1216.2,1905.5 1195.5,1911.4 1184.1,1977.9 1204.3,1976.6"/>
<polygon fill="#719abc" points="1154.2,2095.3 1134.3,2091.4 1124.9,2115.5 1144.9,2120.2"/>
<polygon fill="#769ebf" points="730.8,2104.7 711.5,2099.5 700,2119.3 719.4,2124.6"/>
<polygon fill="#467092" points="1204,2066.5 1183.9,2064.2 1174.2,2099.2 1194.2,2102.9"/>
<polygon fill="#769ebf" points="819.3,2105 799.9,2100.1 788.9,2119.6 808.4,2124.6"/>
<polygon fill="#769ebf" points="996.5,2106.6 976.9,2101.7 966.8,2120.6 986.6,2125.5"/>
<polygon fill="#769ebf" points="907.9,2105.9 888.4,2101 877.9,2119.6 897.5,2124.4"/>
<polygon fill="#769ebf" points="1085.2,2106 1065.4,2101.3 1055.8,2121.5 1075.7,2126.6"/>
<polygon fill="#779fc0" points="642.1,2102 622.8,2095.3 610.8,2114.4 630.1,2121.2"/>
<polygon fill="#3f6888" points="1234.3,2028.4 1214,2027.2 1204,2066.5 1224.2,2068.8"/>
<polygon fill="url(#pm)" points="1207.1,1842.5 1186.3,1851.8 1175,1917.5 1195.5,1911.4"/>
<polygon fill="url(#pb)" points="1245.1,1975 1224.7,1975.4 1214,2027.2 1234.3,2028.4"/>
<polygon fill="#769ebf" points="750.1,2109.7 730.8,2104.7 719.4,2124.6 738.8,2129.7"/>
<polygon fill="#6e97ba" points="1174.2,2099.2 1154.2,2095.3 1144.9,2120.2 1164.9,2124.9"/>
<polygon fill="url(#pd)" points="1168.8,1713.5 1147.4,1739.1 1136.5,1798.8 1157.2,1785.5"/>
<polygon fill="#769ebf" points="838.8,2109.9 819.3,2105 808.4,2124.6 828,2129.5"/>
<polygon fill="#769ebf" points="1016.2,2111.6 996.5,2106.6 986.6,2125.5 1006.4,2130.6"/>
<polygon fill="#769ebf" points="927.5,2110.8 907.9,2105.9 897.5,2124.4 917.2,2129.3"/>
<polygon fill="#779fc0" points="661.4,2108.2 642.1,2102 630.1,2121.2 649.5,2127.6"/>
<polygon fill="#769ebf" points="1105,2110.7 1085.2,2106 1075.7,2126.6 1095.6,2131.7"/>
<polygon fill="#446e90" points="1224.2,2068.8 1204,2066.5 1194.2,2102.9 1214.4,2106.6"/>
<polygon fill="#769ebf" points="769.5,2114.7 750.1,2109.7 738.8,2129.7 758.3,2134.8"/>
<polygon fill="#3e6687" points="1254.6,2029.7 1234.3,2028.4 1224.2,2068.8 1244.5,2070.8"/>
<polygon fill="#769ebf" points="680.7,2113.9 661.4,2108.2 649.5,2127.6 668.9,2133.3"/>
<polygon fill="url(#pm)" points="1237,1899.8 1216.2,1905.5 1204.3,1976.6 1224.7,1975.4"/>
<polygon fill="#769ebf" points="858.3,2114.8 838.8,2109.9 828,2129.5 847.6,2134.3"/>
<polygon fill="#6b94b8" points="1194.2,2102.9 1174.2,2099.2 1164.9,2124.9 1185,2129.5"/>
<polygon fill="#769ebf" points="1036,2116.5 1016.2,2111.6 1006.4,2130.6 1026.2,2135.6"/>
<polygon fill="#769ebf" points="947.1,2115.7 927.5,2110.8 917.2,2129.3 936.9,2134.1"/>
<polygon fill="#769ebf" points="1124.9,2115.5 1105,2110.7 1095.6,2131.7 1115.6,2136.9"/>
<polygon fill="url(#pb)" points="1265.6,1975.1 1245.1,1975 1234.3,2028.4 1254.6,2029.7"/>
<polygon fill="#426c8d" points="1244.5,2070.8 1224.2,2068.8 1214.4,2106.6 1234.6,2110"/>
<polygon fill="#769ebf" points="788.9,2119.6 769.5,2114.7 758.3,2134.8 777.8,2139.7"/>
<polygon fill="#769ebf" points="700,2119.3 680.7,2113.9 668.9,2133.3 688.4,2138.9"/>
<polygon fill="url(#pd)" points="1199.2,1759.7 1178.1,1772.6 1165.7,1860.8 1186.3,1851.8"/>
<polygon fill="#769ebf" points="877.9,2119.6 858.3,2114.8 847.6,2134.3 867.2,2139"/>
<polygon fill="#769ebf" points="1055.8,2121.5 1036,2116.5 1026.2,2135.6 1046.1,2140.7"/>
<polygon fill="#769ebf" points="966.8,2120.6 947.1,2115.7 936.9,2134.1 956.7,2139"/>
<polygon fill="#769ebf" points="1144.9,2120.2 1124.9,2115.5 1115.6,2136.9 1135.6,2142.2"/>
<polygon fill="#6791b5" points="1214.4,2106.6 1194.2,2102.9 1185,2129.5 1205.1,2134.2"/>
<polygon fill="#3f6788" points="1275,2031.5 1254.6,2029.7 1244.5,2070.8 1264.9,2073.2"/>
<polygon fill="url(#pm)" points="1228.2,1832.9 1207.1,1842.5 1195.5,1911.4 1216.2,1905.5"/>
<polygon fill="#769ebf" points="719.4,2124.6 700,2119.3 688.4,2138.9 707.8,2144.2"/>
<polygon fill="#769ebf" points="808.4,2124.6 788.9,2119.6 777.8,2139.7 797.4,2144.7"/>
<polygon fill="#426b8d" points="1264.9,2073.2 1244.5,2070.8 1234.6,2110 1254.9,2113.6"/>
<polygon fill="#769ebf" points="1075.7,2126.6 1055.8,2121.5 1046.1,2140.7 1066.1,2145.9"/>
<polygon fill="#769ebf" points="897.5,2124.4 877.9,2119.6 867.2,2139 886.9,2143.8"/>
<polygon fill="url(#pb)" points="1286.1,1976.1 1265.6,1975.1 1254.6,2029.7 1275,2031.5"/>
<polygon fill="#769ebf" points="986.6,2125.5 966.8,2120.6 956.7,2139 976.5,2143.9"/>
<polygon fill="url(#pm)" points="1257.8,1895.7 1237,1899.8 1224.7,1975.4 1245.1,1975"/>
<polygon fill="#769ebf" points="1164.9,2124.9 1144.9,2120.2 1135.6,2142.2 1155.7,2147.6"/>
<polygon fill="#628cb0" points="1234.6,2110 1214.4,2106.6 1205.1,2134.2 1225.3,2138.8"/>
<polygon fill="#779fc0" points="630.1,2121.2 610.8,2114.4 598.6,2133.8 618.1,2140.6"/>
<polygon fill="#769ebf" points="738.8,2129.7 719.4,2124.6 707.8,2144.2 727.4,2149.4"/>
<polygon fill="#40698a" points="1295.4,2034 1275,2031.5 1264.9,2073.2 1285.3,2076.1"/>
<polygon fill="#769ebf" points="828,2129.5 808.4,2124.6 797.4,2144.7 817,2149.6"/>
<polygon fill="#769ebf" points="1095.6,2131.7 1075.7,2126.6 1066.1,2145.9 1086.1,2151.3"/>
<polygon fill="#779fc0" points="649.5,2127.6 630.1,2121.2 618.1,2140.6 637.6,2146.9"/>
<polygon fill="#769ebf" points="917.2,2129.3 897.5,2124.4 886.9,2143.8 906.7,2148.6"/>
<polygon fill="#769ebf" points="1006.4,2130.6 986.6,2125.5 976.5,2143.9 996.4,2148.9"/>
<polygon fill="#769ebf" points="1185,2129.5 1164.9,2124.9 1155.7,2147.6 1175.8,2153.1"/>
<polygon fill="#426c8d" points="1285.3,2076.1 1264.9,2073.2 1254.9,2113.6 1275.2,2117.5"/>
<polygon fill="#5f89ad" points="1254.9,2113.6 1234.6,2110 1225.3,2138.8 1245.6,2143.4"/>
<polygon fill="url(#pd)" points="1190.6,1685.6 1168.8,1713.5 1157.2,1785.5 1178.1,1772.6"/>
<polygon fill="url(#pb)" points="1306.7,1978.1 1286.1,1976.1 1275,2031.5 1295.4,2034"/>
<polygon fill="#769ebf" points="758.3,2134.8 738.8,2129.7 727.4,2149.4 746.9,2154.5"/>
<polygon fill="#769ebf" points="847.6,2134.3 828,2129.5 817,2149.6 836.7,2154.4"/>
<polygon fill="#769ebf" points="668.9,2133.3 649.5,2127.6 637.6,2146.9 657.1,2152.7"/>
<polygon fill="#769ebf" points="1115.6,2136.9 1095.6,2131.7 1086.1,2151.3 1106.2,2156.8"/>
<polygon fill="#769ebf" points="1026.2,2135.6 1006.4,2130.6 996.4,2148.9 1016.4,2154"/>
<polygon fill="#769ebf" points="936.9,2134.1 917.2,2129.3 906.7,2148.6 926.5,2153.5"/>
<polygon fill="#769ebf" points="1205.1,2134.2 1185,2129.5 1175.8,2153.1 1195.9,2158.7"/>
<polygon fill="url(#pm)" points="1278.7,1892.9 1257.8,1895.7 1245.1,1975 1265.6,1975.1"/>
<polygon fill="url(#pd)" points="1220.5,1746.5 1199.2,1759.7 1186.3,1851.8 1207.1,1842.5"/>
<polygon fill="#5e88ac" points="1275.2,2117.5 1254.9,2113.6 1245.6,2143.4 1265.9,2148.1"/>
<polygon fill="url(#pm)" points="1249.5,1821.9 1228.2,1832.9 1216.2,1905.5 1237,1899.8"/>
<polygon fill="#769ebf" points="777.8,2139.7 758.3,2134.8 746.9,2154.5 766.5,2159.5"/>
<polygon fill="#769ebf" points="688.4,2138.9 668.9,2133.3 657.1,2152.7 676.6,2158.3"/>
<polygon fill="#769ebf" points="1135.6,2142.2 1115.6,2136.9 1106.2,2156.8 1126.3,2162.6"/>
<polygon fill="#769ebf" points="867.2,2139 847.6,2134.3 836.7,2154.4 856.5,2159.2"/>
<polygon fill="#769ebf" points="1225.3,2138.8 1205.1,2134.2 1195.9,2158.7 1216.2,2164.5"/>
<polygon fill="#769ebf" points="1046.1,2140.7 1026.2,2135.6 1016.4,2154 1036.4,2159.1"/>
<polygon fill="#769ebf" points="956.7,2139 936.9,2134.1 926.5,2153.5 946.4,2158.3"/>
<polygon fill="#769ebf" points="797.4,2144.7 777.8,2139.7 766.5,2159.5 786.2,2164.5"/>
<polygon fill="#769ebf" points="707.8,2144.2 688.4,2138.9 676.6,2158.3 696.2,2163.6"/>
<polygon fill="#769ebf" points="1155.7,2147.6 1135.6,2142.2 1126.3,2162.6 1146.4,2168.5"/>
<polygon fill="url(#pb)" points="1299.5,1891.9 1278.7,1892.9 1265.6,1975.1 1286.1,1976.1"/>
<polygon fill="#769ebf" points="886.9,2143.8 867.2,2139 856.5,2159.2 876.3,2163.9"/>
<polygon fill="#749cbe" points="1245.6,2143.4 1225.3,2138.8 1216.2,2164.5 1236.4,2170.3"/>
<polygon fill="#769ebf" points="1066.1,2145.9 1046.1,2140.7 1036.4,2159.1 1056.5,2164.4"/>
<polygon fill="#779fc0" points="618.1,2140.6 598.6,2133.8 586.5,2155.3 606,2161.6"/>
<polygon fill="#769ebf" points="976.5,2143.9 956.7,2139 946.4,2158.3 966.4,2163.1"/>
<polygon fill="#769ebf" points="1175.8,2153.1 1155.7,2147.6 1146.4,2168.5 1166.6,2174.7"/>
<polygon fill="#769ebf" points="727.4,2149.4 707.8,2144.2 696.2,2163.6 715.8,2168.9"/>
<polygon fill="#769ebf" points="817,2149.6 797.4,2144.7 786.2,2164.5 805.9,2169.5"/>
<polygon fill="#769ebf" points="637.6,2146.9 618.1,2140.6 606,2161.6 625.5,2167.6"/>
<polygon fill="#769ebf" points="906.7,2148.6 886.9,2143.8 876.3,2163.9 896.1,2168.7"/>
<polygon fill="#769ebf" points="1086.1,2151.3 1066.1,2145.9 1056.5,2164.4 1076.6,2169.9"/>
<polygon fill="#7099bb" points="1265.9,2148.1 1245.6,2143.4 1236.4,2170.3 1256.7,2175.9"/>
<polygon fill="#769ebf" points="996.4,2148.9 976.5,2143.9 966.4,2163.1 986.4,2168.2"/>
<polygon fill="url(#pm)" points="1270.9,1812.2 1249.5,1821.9 1237,1899.8 1257.8,1895.7"/>
<polygon fill="#769ebf" points="1195.9,2158.7 1175.8,2153.1 1166.6,2174.7 1186.8,2181.2"/>
<polygon fill="url(#pb)" points="1320.4,1892.2 1299.5,1891.9 1286.1,1976.1 1306.7,1978.1"/>
<polygon fill="#769ebf" points="746.9,2154.5 727.4,2149.4 715.8,2168.9 735.4,2174.1"/>
<polygon fill="url(#pd)" points="1241.9,1734.1 1220.5,1746.5 1207.1,1842.5 1228.2,1832.9"/>
<polygon fill="#769ebf" points="836.7,2154.4 817,2149.6 805.9,2169.5 825.7,2174.4"/>
<polygon fill="#769ebf" points="657.1,2152.7 637.6,2146.9 625.5,2167.6 645.1,2173.2"/>
<polygon fill="#769ebf" points="1106.2,2156.8 1086.1,2151.3 1076.6,2169.9 1096.8,2175.6"/>
<polygon fill="#769ebf" points="926.5,2153.5 906.7,2148.6 896.1,2168.7 916,2173.6"/>
<polygon fill="#769ebf" points="1016.4,2154 996.4,2148.9 986.4,2168.2 1006.4,2173.2"/>
<polygon fill="url(#pd)" points="1212.8,1655.6 1190.6,1685.6 1178.1,1772.6 1199.2,1759.7"/>
<polygon fill="#769ebf" points="1216.2,2164.5 1195.9,2158.7 1186.8,2181.2 1207.1,2188.1"/>
<polygon fill="#769ebf" points="766.5,2159.5 746.9,2154.5 735.4,2174.1 755.1,2179.1"/>
<polygon fill="#769ebf" points="676.6,2158.3 657.1,2152.7 645.1,2173.2 664.7,2178.7"/>
<polygon fill="#769ebf" points="856.5,2159.2 836.7,2154.4 825.7,2174.4 845.6,2179.2"/>
<polygon fill="#779fc0" points="1126.3,2162.6 1106.2,2156.8 1096.8,2175.6 1117,2181.7"/>
<polygon fill="#769ebf" points="946.4,2158.3 926.5,2153.5 916,2173.6 936,2178.3"/>
<polygon fill="#769ebf" points="1236.4,2170.3 1216.2,2164.5 1207.1,2188.1 1227.4,2194.9"/>
<polygon fill="#769ebf" points="1036.4,2159.1 1016.4,2154 1006.4,2173.2 1026.5,2178.3"/>
<polygon fill="#769ebf" points="696.2,2163.6 676.6,2158.3 664.7,2178.7 684.4,2184"/>
<polygon fill="#769ebf" points="786.2,2164.5 766.5,2159.5 755.1,2179.1 774.9,2184.2"/>
<polygon fill="#779fc0" points="1146.4,2168.5 1126.3,2162.6 1117,2181.7 1137.2,2188"/>
<polygon fill="#769ebf" points="606,2161.6 586.5,2155.3 574.3,2178.3 593.8,2183.6"/>
<polygon fill="#769ebf" points="876.3,2163.9 856.5,2159.2 845.6,2179.2 865.5,2184"/>
<polygon fill="#769ebf" points="1256.7,2175.9 1236.4,2170.3 1227.4,2194.9 1247.7,2201.3"/>
<polygon fill="url(#pm)" points="1292.3,1804.6 1270.9,1812.2 1257.8,1895.7 1278.7,1892.9"/>
<polygon fill="#769ebf" points="966.4,2163.1 946.4,2158.3 936,2178.3 956.1,2183.2"/>
<polygon fill="#769ebf" points="1056.5,2164.4 1036.4,2159.1 1026.5,2178.3 1046.7,2183.7"/>
<polygon fill="#779fc0" points="1166.6,2174.7 1146.4,2168.5 1137.2,2188 1157.5,2194.7"/>
<polygon fill="#769ebf" points="715.8,2168.9 696.2,2163.6 684.4,2184 704.1,2189.3"/>
<polygon fill="#769ebf" points="625.5,2167.6 606,2161.6 593.8,2183.6 613.4,2188.9"/>
<polygon fill="#769ebf" points="805.9,2169.5 786.2,2164.5 774.9,2184.2 794.7,2189.3"/>
<polygon fill="#769ebf" points="896.1,2168.7 876.3,2163.9 865.5,2184 885.4,2188.9"/>
<polygon fill="url(#pd)" points="1263.7,1720 1241.9,1734.1 1228.2,1832.9 1249.5,1821.9"/>
<polygon fill="#769ebf" points="1076.6,2169.9 1056.5,2164.4 1046.7,2183.7 1066.9,2189.3"/>
<polygon fill="#769ebf" points="986.4,2168.2 966.4,2163.1 956.1,2183.2 976.2,2188.3"/>
<polygon fill="#779fc0" points="1186.8,2181.2 1166.6,2174.7 1157.5,2194.7 1177.8,2201.7"/>
<polygon fill="#769ebf" points="645.1,2173.2 625.5,2167.6 613.4,2188.9 633,2194.1"/>
<polygon fill="#769ebf" points="735.4,2174.1 715.8,2168.9 704.1,2189.3 723.8,2194.4"/>
<polygon fill="#769ebf" points="825.7,2174.4 805.9,2169.5 794.7,2189.3 814.6,2194.2"/>
<polygon fill="#779fc0" points="1207.1,2188.1 1186.8,2181.2 1177.8,2201.7 1198,2209.5"/>
<polygon fill="#769ebf" points="916,2173.6 896.1,2168.7 885.4,2188.9 905.4,2193.7"/>
<polygon fill="#769ebf" points="1096.8,2175.6 1076.6,2169.9 1066.9,2189.3 1087.2,2195.2"/>
<polygon fill="#769ebf" points="1006.4,2173.2 986.4,2168.2 976.2,2188.3 996.3,2193.4"/>
<polygon fill="url(#pm)" points="1313.7,1799.5 1292.3,1804.6 1278.7,1892.9 1299.5,1891.9"/>
<polygon fill="#769ebf" points="664.7,2178.7 645.1,2173.2 633,2194.1 652.7,2199.3"/>
<polygon fill="#769ebf" points="755.1,2179.1 735.4,2174.1 723.8,2194.4 743.6,2199.6"/>
<polygon fill="#779fc0" points="1227.4,2194.9 1207.1,2188.1 1198,2209.5 1218.4,2217.1"/>
<polygon fill="#769ebf" points="845.6,2179.2 825.7,2174.4 814.6,2194.2 834.5,2199"/>
<polygon fill="#779fc0" points="1117,2181.7 1096.8,2175.6 1087.2,2195.2 1107.5,2201.5"/>
<polygon fill="#769ebf" points="936,2178.3 916,2173.6 905.4,2193.7 925.5,2198.5"/>
<polygon fill="url(#pd)" points="1235.5,1623.7 1212.8,1655.6 1199.2,1759.7 1220.5,1746.5"/>
<polygon fill="#769ebf" points="1026.5,2178.3 1006.4,2173.2 996.3,2193.4 1016.5,2198.5"/>
<polygon fill="#769ebf" points="593.8,2183.6 574.3,2178.3 562.1,2202.3 581.6,2206.5"/>
<polygon fill="#769ebf" points="1247.7,2201.3 1227.4,2194.9 1218.4,2217.1 1238.8,2224"/>
<polygon fill="#769ebf" points="684.4,2184 664.7,2178.7 652.7,2199.3 672.5,2204.5"/>
<polygon fill="#769ebf" points="774.9,2184.2 755.1,2179.1 743.6,2199.6 763.5,2204.7"/>
<polygon fill="#779fc0" points="1137.2,2188 1117,2181.7 1107.5,2201.5 1127.8,2208.2"/>
<polygon fill="#769ebf" points="865.5,2184 845.6,2179.2 834.5,2199 854.5,2203.9"/>
<polygon fill="#769ebf" points="956.1,2183.2 936,2178.3 925.5,2198.5 945.7,2203.5"/>
<polygon fill="#769ebf" points="1046.7,2183.7 1026.5,2178.3 1016.5,2198.5 1036.8,2204"/>
<polygon fill="#769ebf" points="613.4,2188.9 593.8,2183.6 581.6,2206.5 601.2,2210.9"/>
<polygon fill="url(#pm)" points="1335.1,1796.3 1313.7,1799.5 1299.5,1891.9 1320.4,1892.2"/>
<polygon fill="url(#pd)" points="1285.5,1709.2 1263.7,1720 1249.5,1821.9 1270.9,1812.2"/>
<polygon fill="#779fc0" points="1157.5,2194.7 1137.2,2188 1127.8,2208.2 1148.2,2215.4"/>
<polygon fill="#769ebf" points="704.1,2189.3 684.4,2184 672.5,2204.5 692.2,2209.6"/>
<polygon fill="#769ebf" points="794.7,2189.3 774.9,2184.2 763.5,2204.7 783.4,2209.8"/>
<polygon fill="#769ebf" points="885.4,2188.9 865.5,2184 854.5,2203.9 874.6,2208.8"/>
<polygon fill="#769ebf" points="976.2,2188.3 956.1,2183.2 945.7,2203.5 965.9,2208.6"/>
<polygon fill="#769ebf" points="1066.9,2189.3 1046.7,2183.7 1036.8,2204 1057.1,2209.7"/>
<polygon fill="#779fc0" points="1177.8,2201.7 1157.5,2194.7 1148.2,2215.4 1168.5,2223"/>
<polygon fill="#769ebf" points="633,2194.1 613.4,2188.9 601.2,2210.9 620.9,2215.7"/>
<polygon fill="#769ebf" points="723.8,2194.4 704.1,2189.3 692.2,2209.6 712.1,2214.8"/>
<polygon fill="#769ebf" points="814.6,2194.2 794.7,2189.3 783.4,2209.8 803.4,2214.8"/>
<polygon fill="#779fc0" points="1198,2209.5 1177.8,2201.7 1168.5,2223 1188.9,2231.5"/>
<polygon fill="#769ebf" points="905.4,2193.7 885.4,2188.9 874.6,2208.8 894.7,2213.8"/>
<polygon fill="#769ebf" points="1087.2,2195.2 1066.9,2189.3 1057.1,2209.7 1077.5,2215.8"/>
<polygon fill="#769ebf" points="996.3,2193.4 976.2,2188.3 965.9,2208.6 986.1,2213.7"/>
<polygon fill="#779fc0" points="1218.4,2217.1 1198,2209.5 1188.9,2231.5 1209.3,2239.8"/>
<polygon fill="#769ebf" points="652.7,2199.3 633,2194.1 620.9,2215.7 640.6,2220.5"/>
<polygon fill="#6791b5" points="581.6,2206.5 562.1,2202.3 550,2228.4 569.4,2231.3"/>
<polygon fill="#769ebf" points="743.6,2199.6 723.8,2194.4 712.1,2214.8 732,2220"/>
<polygon fill="#769ebf" points="834.5,2199 814.6,2194.2 803.4,2214.8 823.4,2219.8"/>
<polygon fill="#779fc0" points="1107.5,2201.5 1087.2,2195.2 1077.5,2215.8 1097.9,2222.4"/>
<polygon fill="#779fc0" points="1238.8,2224 1218.4,2217.1 1209.3,2239.8 1229.8,2247.3"/>
<polygon fill="#769ebf" points="925.5,2198.5 905.4,2193.7 894.7,2213.8 914.9,2218.7"/>
<polygon fill="#769ebf" points="1016.5,2198.5 996.3,2193.4 986.1,2213.7 1006.4,2218.9"/>
<polygon fill="#769ebf" points="672.5,2204.5 652.7,2199.3 640.6,2220.5 660.4,2225.5"/>
<polygon fill="url(#pm)" points="1307.3,1700.5 1285.5,1709.2 1270.9,1812.2 1292.3,1804.6"/>
<polygon fill="#769ebf" points="763.5,2204.7 743.6,2199.6 732,2220 751.9,2225.1"/>
<polygon fill="#779fc0" points="1127.8,2208.2 1107.5,2201.5 1097.9,2222.4 1118.3,2229.3"/>
<polygon fill="#6f98bb" points="601.2,2210.9 581.6,2206.5 569.4,2231.3 589,2234.9"/>
<polygon fill="#769ebf" points="854.5,2203.9 834.5,2199 823.4,2219.8 843.5,2224.8"/>
<polygon fill="url(#pd)" points="1258.5,1592.9 1235.5,1623.7 1220.5,1746.5 1241.9,1734.1"/>
<polygon fill="#769ebf" points="945.7,2203.5 925.5,2198.5 914.9,2218.7 935.1,2223.7"/>
<polygon fill="#769ebf" points="1036.8,2204 1016.5,2198.5 1006.4,2218.9 1026.8,2224.5"/>
<polygon fill="#779fc0" points="1148.2,2215.4 1127.8,2208.2 1118.3,2229.3 1138.8,2236.9"/>
<polygon fill="#769ebf" points="692.2,2209.6 672.5,2204.5 660.4,2225.5 680.3,2230.6"/>
<polygon fill="#769ebf" points="783.4,2209.8 763.5,2204.7 751.9,2225.1 772,2230.3"/>
<polygon fill="#769ebf" points="874.6,2208.8 854.5,2203.9 843.5,2224.8 863.7,2229.9"/>
<polygon fill="#769ebf" points="620.9,2215.7 601.2,2210.9 589,2234.9 608.7,2239.2"/>
<polygon fill="#779fc0" points="1168.5,2223 1148.2,2215.4 1138.8,2236.9 1159.2,2245"/>
<polygon fill="#769ebf" points="1057.1,2209.7 1036.8,2204 1026.8,2224.5 1047.2,2230.3"/>
<polygon fill="#769ebf" points="965.9,2208.6 945.7,2203.5 935.1,2223.7 955.4,2228.9"/>
<polygon fill="#527c9f" points="569.4,2231.3 550,2228.4 538,2257.2 557.3,2258.8"/>
<polygon fill="#769ebf" points="712.1,2214.8 692.2,2209.6 680.3,2230.6 700.2,2235.7"/>
<polygon fill="#779fc0" points="1188.9,2231.5 1168.5,2223 1159.2,2245 1179.6,2254.2"/>
<polygon fill="#769ebf" points="803.4,2214.8 783.4,2209.8 772,2230.3 792,2235.5"/>
<polygon fill="#769ebf" points="894.7,2213.8 874.6,2208.8 863.7,2229.9 883.9,2234.9"/>
<polygon fill="#779fc0" points="1209.3,2239.8 1188.9,2231.5 1179.6,2254.2 1200.1,2263.1"/>
<polygon fill="#769ebf" points="1077.5,2215.8 1057.1,2209.7 1047.2,2230.3 1067.7,2236.5"/>
<polygon fill="#769ebf" points="640.6,2220.5 620.9,2215.7 608.7,2239.2 628.5,2243.7"/>
<polygon fill="#769ebf" points="986.1,2213.7 965.9,2208.6 955.4,2228.9 975.8,2234.1"/>
<polygon fill="url(#pm)" points="1329.1,1693.5 1307.3,1700.5 1292.3,1804.6 1313.7,1799.5"/>
<polygon fill="#779fc0" points="1229.8,2247.3 1209.3,2239.8 1200.1,2263.1 1220.7,2271"/>
<polygon fill="#769ebf" points="732,2220 712.1,2214.8 700.2,2235.7 720.2,2240.9"/>
<polygon fill="#769ebf" points="823.4,2219.8 803.4,2214.8 792,2235.5 812.2,2240.7"/>
<polygon fill="#779fc0" points="1097.9,2222.4 1077.5,2215.8 1067.7,2236.5 1088.2,2243.2"/>
<polygon fill="#5d87ab" points="589,2234.9 569.4,2231.3 557.3,2258.8 576.9,2261.4"/>
<polygon fill="#769ebf" points="914.9,2218.7 894.7,2213.8 883.9,2234.9 904.2,2239.9"/>
<polygon fill="#769ebf" points="1006.4,2218.9 986.1,2213.7 975.8,2234.1 996.2,2239.3"/>
<polygon fill="#769ebf" points="660.4,2225.5 640.6,2220.5 628.5,2243.7 648.4,2248.5"/>
<polygon fill="#769ebf" points="751.9,2225.1 732,2220 720.2,2240.9 740.3,2246.2"/>
<polygon fill="#779fc0" points="1118.3,2229.3 1097.9,2222.4 1088.2,2243.2 1108.7,2250.3"/>
<polygon fill="#769ebf" points="843.5,2224.8 823.4,2219.8 812.2,2240.7 832.4,2245.9"/>
<polygon fill="#436d8f" points="557.3,2258.8 538,2257.2 526.1,2289 545.4,2289.3"/>
<polygon fill="#769ebf" points="935.1,2223.7 914.9,2218.7 904.2,2239.9 924.5,2245"/>
<polygon fill="#769ebf" points="1026.8,2224.5 1006.4,2218.9 996.2,2239.3 1016.7,2244.9"/>
<polygon fill="#769ebf" points="680.3,2230.6 660.4,2225.5 648.4,2248.5 668.3,2253.4"/>
<polygon fill="#6993b7" points="608.7,2239.2 589,2234.9 576.9,2261.4 596.6,2265.1"/>
<polygon fill="#779fc0" points="1138.8,2236.9 1118.3,2229.3 1108.7,2250.3 1129.3,2258.1"/>
<polygon fill="url(#pd)" points="1281.6,1566.3 1258.5,1592.9 1241.9,1734.1 1263.7,1720"/>
<polygon fill="#769ebf" points="772,2230.3 751.9,2225.1 740.3,2246.2 760.4,2251.4"/>
<polygon fill="url(#pm)" points="1351,1687.8 1329.1,1693.5 1313.7,1799.5 1335.1,1796.3"/>
<polygon fill="#769ebf" points="863.7,2229.9 843.5,2224.8 832.4,2245.9 852.6,2251.1"/>
<polygon fill="#779fc0" points="1159.2,2245 1138.8,2236.9 1129.3,2258.1 1149.8,2266.5"/>
<polygon fill="#769ebf" points="955.4,2228.9 935.1,2223.7 924.5,2245 944.9,2250.3"/>
<polygon fill="#769ebf" points="1047.2,2230.3 1026.8,2224.5 1016.7,2244.9 1037.2,2250.8"/>
<polygon fill="#769ebf" points="700.2,2235.7 680.3,2230.6 668.3,2253.4 688.3,2258.5"/>
<polygon fill="#779fc0" points="1179.6,2254.2 1159.2,2245 1149.8,2266.5 1170.3,2275.9"/>
<polygon fill="#6e97ba" points="628.5,2243.7 608.7,2239.2 596.6,2265.1 616.4,2269.2"/>
<polygon fill="#769ebf" points="792,2235.5 772,2230.3 760.4,2251.4 780.6,2256.8"/>
<polygon fill="#4c7799" points="576.9,2261.4 557.3,2258.8 545.4,2289.3 564.9,2290.8"/>
<polygon fill="#779fc0" points="1200.1,2263.1 1179.6,2254.2 1170.3,2275.9 1190.9,2285"/>
<polygon fill="#769ebf" points="883.9,2234.9 863.7,2229.9 852.6,2251.1 872.9,2256.4"/>
<polygon fill="#769ebf" points="1067.7,2236.5 1047.2,2230.3 1037.2,2250.8 1057.8,2256.9"/>
<polygon fill="#769ebf" points="975.8,2234.1 955.4,2228.9 944.9,2250.3 965.4,2255.6"/>
<polygon fill="#779fc0" points="1220.7,2271 1200.1,2263.1 1190.9,2285 1211.5,2293.2"/>
<polygon fill="#769ebf" points="720.2,2240.9 700.2,2235.7 688.3,2258.5 708.4,2263.8"/>
<polygon fill="#739cbd" points="648.4,2248.5 628.5,2243.7 616.4,2269.2 636.3,2273.7"/>
<polygon fill="#769ebf" points="812.2,2240.7 792,2235.5 780.6,2256.8 800.8,2262.2"/>
<polygon fill="#779fc0" points="1088.2,2243.2 1067.7,2236.5 1057.8,2256.9 1078.4,2263.7"/>
<polygon fill="#769ebf" points="904.2,2239.9 883.9,2234.9 872.9,2256.4 893.3,2261.6"/>
<polygon fill="#769ebf" points="996.2,2239.3 975.8,2234.1 965.4,2255.6 985.9,2260.9"/>
<polygon fill="#5883a6" points="596.6,2265.1 576.9,2261.4 564.9,2290.8 584.6,2293.8"/>
<polygon fill="#769ebf" points="740.3,2246.2 720.2,2240.9 708.4,2263.8 728.6,2269.1"/>
<polygon fill="#779fc0" points="1108.7,2250.3 1088.2,2243.2 1078.4,2263.7 1099,2270.8"/>
<polygon fill="#769ebf" points="832.4,2245.9 812.2,2240.7 800.8,2262.2 821.1,2267.6"/>
<polygon fill="#769ebf" points="668.3,2253.4 648.4,2248.5 636.3,2273.7 656.3,2278.5"/>
<polygon fill="#769ebf" points="924.5,2245 904.2,2239.9 893.3,2261.6 913.7,2266.9"/>
<polygon fill="#769ebf" points="1016.7,2244.9 996.2,2239.3 985.9,2260.9 1006.4,2266.4"/>
<polygon fill="#779fc0" points="1129.3,2258.1 1108.7,2250.3 1099,2270.8 1119.7,2278.6"/>
<polygon fill="#769ebf" points="760.4,2251.4 740.3,2246.2 728.6,2269.1 748.8,2274.4"/>
<polygon fill="#608bae" points="616.4,2269.2 596.6,2265.1 584.6,2293.8 604.4,2297.4"/>
<polygon fill="#769ebf" points="852.6,2251.1 832.4,2245.9 821.1,2267.6 841.4,2273"/>
<polygon fill="url(#pd)" points="1304.4,1548.4 1281.6,1566.3 1263.7,1720 1285.5,1709.2"/>
<polygon fill="#769ebf" points="688.3,2258.5 668.3,2253.4 656.3,2278.5 676.4,2283.5"/>
<polygon fill="#779fc0" points="1149.8,2266.5 1129.3,2258.1 1119.7,2278.6 1140.4,2286.8"/>
<polygon fill="#769ebf" points="944.9,2250.3 924.5,2245 913.7,2266.9 934.2,2272.2"/>
<polygon fill="#769ebf" points="1037.2,2250.8 1016.7,2244.9 1006.4,2266.4 1027.1,2272.2"/>
<polygon fill="#779fc0" points="1170.3,2275.9 1149.8,2266.5 1140.4,2286.8 1161,2296.2"/>
<polygon fill="#769ebf" points="780.6,2256.8 760.4,2251.4 748.8,2274.4 769,2279.9"/>
<polygon fill="#6892b6" points="636.3,2273.7 616.4,2269.2 604.4,2297.4 624.4,2301.8"/>
<polygon fill="#779fc0" points="1190.9,2285 1170.3,2275.9 1161,2296.2 1181.7,2305.2"/>
<polygon fill="#769ebf" points="872.9,2256.4 852.6,2251.1 841.4,2273 861.9,2278.5"/>
<polygon fill="#769ebf" points="708.4,2263.8 688.3,2258.5 676.4,2283.5 696.6,2288.8"/>
<polygon fill="#769ebf" points="965.4,2255.6 944.9,2250.3 934.2,2272.2 954.8,2277.5"/>
<polygon fill="#769ebf" points="1057.8,2256.9 1037.2,2250.8 1027.1,2272.2 1047.8,2278.2"/>
<polygon fill="#779fc0" points="1211.5,2293.2 1190.9,2285 1181.7,2305.2 1202.5,2313.3"/>
<polygon fill="#769ebf" points="800.8,2262.2 780.6,2256.8 769,2279.9 789.4,2285.6"/>
<polygon fill="#769ebf" points="893.3,2261.6 872.9,2256.4 861.9,2278.5 882.3,2284"/>
<polygon fill="#6b94b8" points="656.3,2278.5 636.3,2273.7 624.4,2301.8 644.4,2306.3"/>
<polygon fill="#779fc0" points="1078.4,2263.7 1057.8,2256.9 1047.8,2278.2 1068.5,2284.6"/>
<polygon fill="#769ebf" points="728.6,2269.1 708.4,2263.8 696.6,2288.8 716.8,2294.2"/>
<polygon fill="#769ebf" points="985.9,2260.9 965.4,2255.6 954.8,2277.5 975.4,2282.9"/>
<polygon fill="#769ebf" points="821.1,2267.6 800.8,2262.2 789.4,2285.6 809.7,2291.2"/>
<polygon fill="#779fc0" points="1099,2270.8 1078.4,2263.7 1068.5,2284.6 1089.3,2291.2"/>
<polygon fill="#769ebf" points="913.7,2266.9 893.3,2261.6 882.3,2284 902.9,2289.4"/>
<polygon fill="#769ebf" points="748.8,2274.4 728.6,2269.1 716.8,2294.2 737.1,2299.6"/>
<polygon fill="#6e97ba" points="676.4,2283.5 656.3,2278.5 644.4,2306.3 664.6,2311.3"/>
<polygon fill="#769ebf" points="1006.4,2266.4 985.9,2260.9 975.4,2282.9 996.1,2288.3"/>
<polygon fill="url(#pm)" points="1327,1536.5 1304.4,1548.4 1285.5,1709.2 1307.3,1700.5"/>
<polygon fill="#769ebf" points="841.4,2273 821.1,2267.6 809.7,2291.2 830.2,2296.9"/>
<polygon fill="#779fc0" points="1119.7,2278.6 1099,2270.8 1089.3,2291.2 1110.1,2298.4"/>
<polygon fill="#769ebf" points="934.2,2272.2 913.7,2266.9 902.9,2289.4 923.5,2294.8"/>
<polygon fill="#769ebf" points="769,2279.9 748.8,2274.4 737.1,2299.6 757.5,2305.3"/>
<polygon fill="#729bbc" points="696.6,2288.8 676.4,2283.5 664.6,2311.3 684.8,2316.7"/>
<polygon fill="#769ebf" points="1027.1,2272.2 1006.4,2266.4 996.1,2288.3 1016.8,2293.8"/>
<polygon fill="#779fc0" points="1140.4,2286.8 1119.7,2278.6 1110.1,2298.4 1130.9,2305.9"/>
<polygon fill="#769ebf" points="861.9,2278.5 841.4,2273 830.2,2296.9 850.7,2302.5"/>
<polygon fill="#779fc0" points="1161,2296.2 1140.4,2286.8 1130.9,2305.9 1151.7,2314.3"/>
<polygon fill="#769ebf" points="954.8,2277.5 934.2,2272.2 923.5,2294.8 944.1,2300.2"/>
<polygon fill="#769ebf" points="789.4,2285.6 769,2279.9 757.5,2305.3 777.9,2311.3"/>
<polygon fill="#769ebf" points="1047.8,2278.2 1027.1,2272.2 1016.8,2293.8 1037.6,2299.3"/>
<polygon fill="#729bbd" points="716.8,2294.2 696.6,2288.8 684.8,2316.7 705.1,2322.1"/>
<polygon fill="#779fc0" points="1181.7,2305.2 1161,2296.2 1151.7,2314.3 1172.6,2322.4"/>
<polygon fill="#769ebf" points="882.3,2284 861.9,2278.5 850.7,2302.5 871.3,2308.3"/>
<polygon fill="#779fc0" points="1202.5,2313.3 1181.7,2305.2 1172.6,2322.4 1193.5,2329.9"/>
<polygon fill="url(#pm)" points="1349,1533.8 1327,1536.5 1307.3,1700.5 1329.1,1693.5"/>
<polygon fill="#769ebf" points="975.4,2282.9 954.8,2277.5 944.1,2300.2 964.8,2305.6"/>
<polygon fill="#769ebf" points="809.7,2291.2 789.4,2285.6 777.9,2311.3 798.4,2317.2"/>
<polygon fill="#769ebf" points="1068.5,2284.6 1047.8,2278.2 1037.6,2299.3 1058.5,2304.9"/>
<polygon fill="#729bbd" points="737.1,2299.6 716.8,2294.2 705.1,2322.1 725.5,2327.6"/>
<polygon fill="#769ebf" points="902.9,2289.4 882.3,2284 871.3,2308.3 891.9,2313.9"/>
<polygon fill="#769ebf" points="830.2,2296.9 809.7,2291.2 798.4,2317.2 818.9,2323.1"/>
<polygon fill="#779fc0" points="1089.3,2291.2 1068.5,2284.6 1058.5,2304.9 1079.4,2310.6"/>
<polygon fill="#769ebf" points="996.1,2288.3 975.4,2282.9 964.8,2305.6 985.6,2310.8"/>
<polygon fill="#769ebf" points="757.5,2305.3 737.1,2299.6 725.5,2327.6 745.9,2333.5"/>
<polygon fill="#769ebf" points="923.5,2294.8 902.9,2289.4 891.9,2313.9 912.6,2319.3"/>
<polygon fill="#779fc0" points="1110.1,2298.4 1089.3,2291.2 1079.4,2310.6 1100.4,2316.5"/>
<polygon fill="#769ebf" points="850.7,2302.5 830.2,2296.9 818.9,2323.1 839.5,2329"/>
<polygon fill="url(#pm)" points="1370.6,1538.1 1349,1533.8 1329.1,1693.5 1351,1687.8"/>
<polygon fill="#769ebf" points="1016.8,2293.8 996.1,2288.3 985.6,2310.8 1006.4,2316"/>
<polygon fill="#769ebf" points="777.9,2311.3 757.5,2305.3 745.9,2333.5 766.4,2339.8"/>
<polygon fill="#769ebf" points="944.1,2300.2 923.5,2294.8 912.6,2319.3 933.3,2324.8"/>
<polygon fill="#779fc0" points="1130.9,2305.9 1110.1,2298.4 1100.4,2316.5 1121.4,2322.4"/>
<polygon fill="#769ebf" points="871.3,2308.3 850.7,2302.5 839.5,2329 860.1,2335"/>
<polygon fill="#769ebf" points="798.4,2317.2 777.9,2311.3 766.4,2339.8 786.9,2345.9"/>
<polygon fill="#769ebf" points="1037.6,2299.3 1016.8,2293.8 1006.4,2316 1027.4,2321"/>
<polygon fill="#779fc0" points="1151.7,2314.3 1130.9,2305.9 1121.4,2322.4 1142.5,2328.6"/>
<polygon fill="#769ebf" points="964.8,2305.6 944.1,2300.2 933.3,2324.8 954.1,2330.2"/>
<polygon fill="#769ebf" points="891.9,2313.9 871.3,2308.3 860.1,2335 880.8,2340.8"/>
<polygon fill="#759dbe" points="818.9,2323.1 798.4,2317.2 786.9,2345.9 807.6,2352.1"/>
<polygon fill="#769ebf" points="1058.5,2304.9 1037.6,2299.3 1027.4,2321 1048.3,2325.7"/>
<polygon fill="#779fc0" points="1172.6,2322.4 1151.7,2314.3 1142.5,2328.6 1163.6,2334.7"/>
<polygon fill="#769ebf" points="985.6,2310.8 964.8,2305.6 954.1,2330.2 975,2335.3"/>
<polygon fill="#769ebf" points="912.6,2319.3 891.9,2313.9 880.8,2340.8 901.6,2346.3"/>
<polygon fill="#749dbe" points="839.5,2329 818.9,2323.1 807.6,2352.1 828.2,2358.2"/>
<polygon fill="#779fc0" points="1193.5,2329.9 1172.6,2322.4 1163.6,2334.7 1184.8,2340.7"/>
<polygon fill="#769ebf" points="1079.4,2310.6 1058.5,2304.9 1048.3,2325.7 1069.4,2330.2"/>
<polygon fill="#769ebf" points="1006.4,2316 985.6,2310.8 975,2335.3 995.9,2340.1"/>
<polygon fill="#759dbe" points="860.1,2335 839.5,2329 828.2,2358.2 848.9,2364.6"/>
<polygon fill="#769ebf" points="933.3,2324.8 912.6,2319.3 901.6,2346.3 922.4,2351.9"/>
<polygon fill="#769ebf" points="1100.4,2316.5 1079.4,2310.6 1069.4,2330.2 1090.6,2334.4"/>
<polygon fill="#729abc" points="880.8,2340.8 860.1,2335 848.9,2364.6 869.7,2370.7"/>
<polygon fill="#769ebf" points="1027.4,2321 1006.4,2316 995.9,2340.1 1016.9,2344.5"/>
<polygon fill="#769ebf" points="954.1,2330.2 933.3,2324.8 922.4,2351.9 943.3,2357.3"/>
<polygon fill="#769ebf" points="1121.4,2322.4 1100.4,2316.5 1090.6,2334.4 1111.8,2338.4"/>
<polygon fill="#6e97ba" points="901.6,2346.3 880.8,2340.8 869.7,2370.7 890.5,2376.2"/>
<polygon fill="#719abc" points="975,2335.3 954.1,2330.2 943.3,2357.3 964.2,2362.2"/>
<polygon fill="#769ebf" points="1048.3,2325.7 1027.4,2321 1016.9,2344.5 1038.1,2348.2"/>
<polygon fill="#769ebf" points="1142.5,2328.6 1121.4,2322.4 1111.8,2338.4 1133.2,2341.6"/>
<polygon fill="#6d97b9" points="922.4,2351.9 901.6,2346.3 890.5,2376.2 911.4,2381.8"/>
<polygon fill="#6f98ba" points="995.9,2340.1 975,2335.3 964.2,2362.2 985.3,2366.6"/>
<polygon fill="#769ebf" points="1069.4,2330.2 1048.3,2325.7 1038.1,2348.2 1059.3,2351.4"/>
<polygon fill="#769ebf" points="1163.6,2334.7 1142.5,2328.6 1133.2,2341.6 1154.6,2345"/>
<polygon fill="#6d96b9" points="943.3,2357.3 922.4,2351.9 911.4,2381.8 932.4,2387.3"/>
<polygon fill="#6b94b8" points="1016.9,2344.5 995.9,2340.1 985.3,2366.6 1006.4,2370.2"/>
<polygon fill="#739bbd" points="1090.6,2334.4 1069.4,2330.2 1059.3,2351.4 1080.6,2353.7"/>
<polygon fill="#769ebf" points="1184.8,2340.7 1163.6,2334.7 1154.6,2345 1176.1,2348.9"/>
<polygon fill="#658fb3" points="964.2,2362.2 943.3,2357.3 932.4,2387.3 953.4,2391.9"/>
<polygon fill="#648eb2" points="1038.1,2348.2 1016.9,2344.5 1006.4,2370.2 1027.6,2372.8"/>
<polygon fill="#729abc" points="1111.8,2338.4 1090.6,2334.4 1080.6,2353.7 1102,2355.2"/>
<polygon fill="#618baf" points="985.3,2366.6 964.2,2362.2 953.4,2391.9 974.5,2395.8"/>
<polygon fill="#608bae" points="1059.3,2351.4 1038.1,2348.2 1027.6,2372.8 1048.9,2374.4"/>
<polygon fill="#5a84a8" points="1006.4,2370.2 985.3,2366.6 974.5,2395.8 995.7,2398.7"/>
<polygon fill="#6a94b7" points="1133.2,2341.6 1111.8,2338.4 1102,2355.2 1123.7,2355"/>
<polygon fill="#5882a6" points="1080.6,2353.7 1059.3,2351.4 1048.9,2374.4 1070.4,2374.4"/>
<polygon fill="#507b9d" points="1027.6,2372.8 1006.4,2370.2 995.7,2398.7 1017,2399.9"/>
<polygon fill="#7099bb" points="1154.6,2345 1133.2,2341.6 1123.7,2355 1145.4,2354.8"/>
<polygon fill="#527da0" points="1102,2355.2 1080.6,2353.7 1070.4,2374.4 1092.1,2372.9"/>
<polygon fill="#4b7597" points="1048.9,2374.4 1027.6,2372.8 1017,2399.9 1038.5,2399.6"/>
<polygon fill="#769ebf" points="1176.1,2348.9 1154.6,2345 1145.4,2354.8 1167.3,2356"/>
<polygon fill="#426c8e" points="1070.4,2374.4 1048.9,2374.4 1038.5,2399.6 1060.1,2396.8"/>
<polygon fill="#467092" points="1123.7,2355 1102,2355.2 1092.1,2372.9 1114.1,2368"/>
<polygon fill="#3f6788" points="1092.1,2372.9 1070.4,2374.4 1060.1,2396.8 1082,2391.5"/>
<polygon fill="#4c7699" points="1145.4,2354.8 1123.7,2355 1114.1,2368 1136.2,2363"/>
<polygon fill="#5e89ac" points="1167.3,2356 1145.4,2354.8 1136.2,2363 1158.4,2360.3"/>
<polygon fill="url(#pb)" points="1114.1,2368 1092.1,2372.9 1082,2391.5 1104.4,2380.5"/>
<polygon fill="url(#pb)" points="1136.2,2363 1114.1,2368 1104.4,2380.5 1127,2368.7"/>
<polygon fill="#436d8f" points="1158.4,2360.3 1136.2,2363 1127,2368.7 1149.6,2360.2"/>
</g>
<g stroke="#0a1a30" stroke-width="3" fill="none" opacity="0.45">
<line x1="476.5" y1="1784" x2="1170.3" y2="1944.8" stroke-dasharray="6.5 10.5"/>
<line x1="1170.3" y1="1944.8" x2="1370.6" y2="1538.1" stroke-dasharray="6.5 10.5"/>
<line x1="1144.6" y1="2461.5" x2="1170.3" y2="1944.8" stroke-dasharray="6.5 10.5"/>
</g>
<g stroke="#1a1a1a" stroke-width="4" stroke-linecap="butt" fill="none">
<line x1="1058.9" y1="2438.5" x2="1052.1" y2="2466.4"/>
<line x1="953.3" y1="2410.1" x2="946.5" y2="2437.8"/>
<line x1="849.3" y1="2382.1" x2="842.5" y2="2409.6"/>
<line x1="746.9" y1="2354.6" x2="740" y2="2381.8"/>
<line x1="645.9" y1="2327.4" x2="639.1" y2="2354.5"/>
<line x1="546.5" y1="2300.7" x2="539.7" y2="2327.5"/>
<line x1="1327.7" y1="2037.6" x2="1343.9" y2="2055.2"/>
<line x1="1287.9" y1="2129.7" x2="1304.7" y2="2147.6"/>
<line x1="1245.9" y1="2226.9" x2="1263.2" y2="2245.1"/>
<line x1="1201.5" y1="2329.9" x2="1219.4" y2="2348.4"/>
<line x1="1154.3" y1="2438.9" x2="1172.9" y2="2457.8"/>
<line x1="524" y1="2267.7" x2="496.1" y2="2276.7"/>
<line x1="516.4" y1="2189.9" x2="487.9" y2="2198.8"/>
<line x1="508.5" y1="2109.1" x2="479.4" y2="2117.9"/>
<line x1="500.2" y1="2025.3" x2="470.6" y2="2034"/>
<line x1="491.7" y1="1938.2" x2="461.5" y2="1946.9"/>
<line x1="482.8" y1="1847.6" x2="452" y2="1856.3"/>
</g>
<text x="1046.1" y="2515.5" font-size="48.5" text-anchor="middle" textLength="27.9" lengthAdjust="spacingAndGlyphs">5</text>
<text x="941.8" y="2488.5" font-size="48.5" text-anchor="middle" textLength="55.8" lengthAdjust="spacingAndGlyphs">10</text>
<text x="839.9" y="2460.7" font-size="48.5" text-anchor="middle" textLength="55.8" lengthAdjust="spacingAndGlyphs">15</text>
<text x="735.6" y="2431.3" font-size="48.5" text-anchor="middle" textLength="55.8" lengthAdjust="spacingAndGlyphs">20</text>
<text x="632.9" y="2404.3" font-size="48.5" text-anchor="middle" textLength="55.8" lengthAdjust="spacingAndGlyphs">25</text>
<text x="536.4" y="2377.3" font-size="48.5" text-anchor="middle" textLength="55.8" lengthAdjust="spacingAndGlyphs">30</text>
<text x="1354.1" y="2093.8" font-size="48.5" text-anchor="middle" textLength="27.9" lengthAdjust="spacingAndGlyphs">0</text>
<text x="1309.9" y="2194.1" font-size="48.5" text-anchor="middle" textLength="27.9" lengthAdjust="spacingAndGlyphs">5</text>
<text x="1281.1" y="2297.7" font-size="48.5" text-anchor="middle" textLength="55.8" lengthAdjust="spacingAndGlyphs">10</text>
<text x="1236.9" y="2397.9" font-size="48.5" text-anchor="middle" textLength="55.8" lengthAdjust="spacingAndGlyphs">15</text>
<text x="1192" y="2499.9" font-size="48.5" text-anchor="middle" textLength="55.8" lengthAdjust="spacingAndGlyphs">20</text>
<text x="490.1" y="2301.3" font-size="48.5" text-anchor="end" textLength="69.6" lengthAdjust="spacingAndGlyphs">1.0</text>
<text x="481.9" y="2223.4" font-size="48.5" text-anchor="end" textLength="69.6" lengthAdjust="spacingAndGlyphs">1.5</text>
<text x="473.4" y="2142.6" font-size="48.5" text-anchor="end" textLength="69.6" lengthAdjust="spacingAndGlyphs">2.0</text>
<text x="464.6" y="2058.7" font-size="48.5" text-anchor="end" textLength="69.6" lengthAdjust="spacingAndGlyphs">2.5</text>
<text x="455.5" y="1971.6" font-size="48.5" text-anchor="end" textLength="69.6" lengthAdjust="spacingAndGlyphs">3.0</text>
<text x="446" y="1881" font-size="48.5" text-anchor="end" textLength="69.6" lengthAdjust="spacingAndGlyphs">3.5</text>
<text transform="translate(538.1 2458.6) rotate(14.85)" font-size="48.5" text-anchor="start" textLength="521.2" lengthAdjust="spacingAndGlyphs">Mean temperature (°C)</text>
<text transform="translate(1359.9 2362.2) rotate(-66.7)" font-size="48.5" text-anchor="start" textLength="75.4" lengthAdjust="spacingAndGlyphs">Lag</text>
<text transform="translate(330 2074.5) rotate(-90)" font-size="48.5" text-anchor="middle" textLength="375.7" lengthAdjust="spacingAndGlyphs">Relative risk (<tspan font-style="italic">RR</tspan>)</text>
<text x="664.2" y="2666.1" font-size="48.5" text-anchor="start" textLength="522.4" lengthAdjust="spacingAndGlyphs">C. The Pearl River Delta</text>
<g stroke="#1a1a1a" stroke-width="4.2" stroke-linecap="square" fill="none">
<line x1="1923.5" y1="1799.8" x2="2189.5" y2="1441.1"/>
<line x1="2189.5" y1="1441.1" x2="2790.5" y2="1561.3"/>
<line x1="2189.5" y1="1441.1" x2="2207.4" y2="1918"/>
<line x1="1923.5" y1="1799.8" x2="1972.2" y2="2295.6"/>
<line x1="2790.5" y1="1561.3" x2="2748.8" y2="2045.7"/>
<line x1="1972.2" y1="2295.6" x2="2571.3" y2="2456.7"/>
<line x1="2571.3" y1="2456.7" x2="2748.8" y2="2045.7"/>
<line x1="1972.2" y1="2295.6" x2="2207.4" y2="1918"/>
<line x1="2207.4" y1="1918" x2="2748.8" y2="2045.7"/>
<line x1="1923.5" y1="1799.8" x2="2596.3" y2="1955.7" stroke-dasharray="6.5 10.5"/>
<line x1="2596.3" y1="1955.7" x2="2790.5" y2="1561.3" stroke-dasharray="6.5 10.5"/>
<line x1="2571.3" y1="2456.7" x2="2596.3" y2="1955.7" stroke-dasharray="6.5 10.5"/>
</g>
<g stroke="#071c3a" stroke-width="4.5" stroke-linejoin="round">
<polygon fill="#5c86aa" points="2224.5,1914.9 2207.3,1916.6 2196.9,1923.7 2214.2,1922.9"/>
<polygon fill="#5782a5" points="2241.7,1912.8 2224.5,1914.9 2214.2,1922.9 2231.6,1921.9"/>
<polygon fill="#537ea1" points="2259.1,1910.5 2241.7,1912.8 2231.6,1921.9 2249.1,1920.9"/>
<polygon fill="#628cb0" points="2214.2,1922.9 2196.9,1923.7 2186.4,1933.1 2203.9,1933.2"/>
<polygon fill="#507b9d" points="2276.5,1907.8 2259.1,1910.5 2249.1,1920.9 2266.6,1919.7"/>
<polygon fill="#5f8aad" points="2231.6,1921.9 2214.2,1922.9 2203.9,1933.2 2221.4,1933.3"/>
<polygon fill="#4d779a" points="2294,1905 2276.5,1907.8 2266.6,1919.7 2284.3,1918.4"/>
<polygon fill="#5c86aa" points="2249.1,1920.9 2231.6,1921.9 2221.4,1933.3 2239,1933.3"/>
<polygon fill="#487294" points="2311.7,1901.8 2294,1905 2284.3,1918.4 2302,1917"/>
<polygon fill="#6a94b8" points="2203.9,1933.2 2186.4,1933.1 2175.9,1944.5 2193.5,1945.8"/>
<polygon fill="#5983a7" points="2266.6,1919.7 2249.1,1920.9 2239,1933.3 2256.6,1933.3"/>
<polygon fill="#6892b6" points="2221.4,1933.3 2203.9,1933.2 2193.5,1945.8 2211.1,1947.1"/>
<polygon fill="#436d8e" points="2329.4,1898 2311.7,1901.8 2302,1917 2319.8,1915.3"/>
<polygon fill="#5580a3" points="2284.3,1918.4 2266.6,1919.7 2256.6,1933.3 2274.4,1933.3"/>
<polygon fill="#648fb2" points="2239,1933.3 2221.4,1933.3 2211.1,1947.1 2228.8,1948.5"/>
<polygon fill="#527d9f" points="2302,1917 2284.3,1918.4 2274.4,1933.3 2292.2,1933.2"/>
<polygon fill="#40698a" points="2347.2,1893.7 2329.4,1898 2319.8,1915.3 2337.7,1913.3"/>
<polygon fill="#729bbc" points="2193.5,1945.8 2175.9,1944.5 2165.3,1957.6 2183,1959.6"/>
<polygon fill="#618baf" points="2256.6,1933.3 2239,1933.3 2228.8,1948.5 2246.6,1949.9"/>
<polygon fill="#4e789b" points="2319.8,1915.3 2302,1917 2292.2,1933.2 2310.1,1933"/>
<polygon fill="#719abc" points="2211.1,1947.1 2193.5,1945.8 2183,1959.6 2200.8,1961.7"/>
<polygon fill="#5e88ac" points="2274.4,1933.3 2256.6,1933.3 2246.6,1949.9 2264.5,1951.3"/>
<polygon fill="#3d6585" points="2365.2,1889 2347.2,1893.7 2337.7,1913.3 2355.7,1911.2"/>
<polygon fill="#7099bb" points="2228.8,1948.5 2211.1,1947.1 2200.8,1961.7 2218.6,1963.9"/>
<polygon fill="#497496" points="2337.7,1913.3 2319.8,1915.3 2310.1,1933 2328.1,1932.7"/>
<polygon fill="#5983a7" points="2292.2,1933.2 2274.4,1933.3 2264.5,1951.3 2282.4,1952.8"/>
<polygon fill="url(#pb)" points="2383.2,1883.9 2365.2,1889 2355.7,1911.2 2373.8,1908.8"/>
<polygon fill="#6e97ba" points="2246.6,1949.9 2228.8,1948.5 2218.6,1963.9 2236.5,1966.2"/>
<polygon fill="#769ebf" points="2183,1959.6 2165.3,1957.6 2154.7,1971.3 2172.4,1973.8"/>
<polygon fill="#537ea1" points="2310.1,1933 2292.2,1933.2 2282.4,1952.8 2300.4,1954.3"/>
<polygon fill="#456f91" points="2355.7,1911.2 2337.7,1913.3 2328.1,1932.7 2346.2,1932.3"/>
<polygon fill="#6d96b9" points="2264.5,1951.3 2246.6,1949.9 2236.5,1966.2 2254.4,1968.5"/>
<polygon fill="#769ebf" points="2200.8,1961.7 2183,1959.6 2172.4,1973.8 2190.3,1976.5"/>
<polygon fill="url(#pb)" points="2401.4,1878.2 2383.2,1883.9 2373.8,1908.8 2392,1906.2"/>
<polygon fill="#4f7a9d" points="2328.1,1932.7 2310.1,1933 2300.4,1954.3 2318.4,1955.7"/>
<polygon fill="#6b95b8" points="2282.4,1952.8 2264.5,1951.3 2254.4,1968.5 2272.4,1970.9"/>
<polygon fill="#769ebf" points="2218.6,1963.9 2200.8,1961.7 2190.3,1976.5 2208.2,1979.2"/>
<polygon fill="#436c8e" points="2373.8,1908.8 2355.7,1911.2 2346.2,1932.3 2364.3,1931.8"/>
<polygon fill="#4b7698" points="2346.2,1932.3 2328.1,1932.7 2318.4,1955.7 2336.6,1957.2"/>
<polygon fill="#769ebf" points="2236.5,1966.2 2218.6,1963.9 2208.2,1979.2 2226.2,1982"/>
<polygon fill="#6992b6" points="2300.4,1954.3 2282.4,1952.8 2272.4,1970.9 2290.5,1973.4"/>
<polygon fill="#769ebf" points="2172.4,1973.8 2154.7,1971.3 2143.8,1984.4 2161.7,1987.6"/>
<polygon fill="url(#pb)" points="2419.7,1872 2401.4,1878.2 2392,1906.2 2410.3,1903.5"/>
<polygon fill="#416a8b" points="2392,1906.2 2373.8,1908.8 2364.3,1931.8 2382.6,1931.2"/>
<polygon fill="#769ebf" points="2254.4,1968.5 2236.5,1966.2 2226.2,1982 2244.2,1984.9"/>
<polygon fill="#477193" points="2364.3,1931.8 2346.2,1932.3 2336.6,1957.2 2354.8,1958.7"/>
<polygon fill="#6690b4" points="2318.4,1955.7 2300.4,1954.3 2290.5,1973.4 2308.7,1975.9"/>
<polygon fill="#769ebf" points="2190.3,1976.5 2172.4,1973.8 2161.7,1987.6 2179.7,1990.8"/>
<polygon fill="#769ebf" points="2272.4,1970.9 2254.4,1968.5 2244.2,1984.9 2262.4,1987.9"/>
<polygon fill="#3f6788" points="2410.3,1903.5 2392,1906.2 2382.6,1931.2 2400.9,1930.5"/>
<polygon fill="#638db1" points="2336.6,1957.2 2318.4,1955.7 2308.7,1975.9 2326.9,1978.4"/>
<polygon fill="#769ebf" points="2208.2,1979.2 2190.3,1976.5 2179.7,1990.8 2197.7,1994.1"/>
<polygon fill="url(#pb)" points="2438.2,1865.4 2419.7,1872 2410.3,1903.5 2428.7,1900.6"/>
<polygon fill="#436d8f" points="2382.6,1931.2 2364.3,1931.8 2354.8,1958.7 2373.1,1960.2"/>
<polygon fill="#759dbf" points="2290.5,1973.4 2272.4,1970.9 2262.4,1987.9 2280.5,1991"/>
<polygon fill="#769ebf" points="2226.2,1982 2208.2,1979.2 2197.7,1994.1 2215.8,1997.5"/>
<polygon fill="#5f8aad" points="2354.8,1958.7 2336.6,1957.2 2326.9,1978.4 2345.2,1981"/>
<polygon fill="url(#pb)" points="2428.7,1900.6 2410.3,1903.5 2400.9,1930.5 2419.3,1929.8"/>
<polygon fill="#426b8c" points="2400.9,1930.5 2382.6,1931.2 2373.1,1960.2 2391.4,1961.6"/>
<polygon fill="#769ebf" points="2161.7,1987.6 2143.8,1984.4 2132.8,1998.3 2150.9,2002.1"/>
<polygon fill="#749cbe" points="2308.7,1975.9 2290.5,1973.4 2280.5,1991 2298.8,1994.2"/>
<polygon fill="#769ebf" points="2244.2,1984.9 2226.2,1982 2215.8,1997.5 2233.9,2001"/>
<polygon fill="url(#pb)" points="2456.8,1858 2438.2,1865.4 2428.7,1900.6 2447.3,1897.3"/>
<polygon fill="#5c86aa" points="2373.1,1960.2 2354.8,1958.7 2345.2,1981 2363.5,1983.7"/>
<polygon fill="#769ebf" points="2179.7,1990.8 2161.7,1987.6 2150.9,2002.1 2169,2005.9"/>
<polygon fill="#739bbd" points="2326.9,1978.4 2308.7,1975.9 2298.8,1994.2 2317.1,1997.4"/>
<polygon fill="#40698a" points="2419.3,1929.8 2400.9,1930.5 2391.4,1961.6 2409.8,1963.2"/>
<polygon fill="#769ebf" points="2262.4,1987.9 2244.2,1984.9 2233.9,2001 2252.2,2004.6"/>
<polygon fill="url(#pb)" points="2447.3,1897.3 2428.7,1900.6 2419.3,1929.8 2437.9,1928.9"/>
<polygon fill="#5883a6" points="2391.4,1961.6 2373.1,1960.2 2363.5,1983.7 2381.9,1986.4"/>
<polygon fill="#769ebf" points="2197.7,1994.1 2179.7,1990.8 2169,2005.9 2187.1,2009.8"/>
<polygon fill="#729abc" points="2345.2,1981 2326.9,1978.4 2317.1,1997.4 2335.4,2000.8"/>
<polygon fill="#769ebf" points="2280.5,1991 2262.4,1987.9 2252.2,2004.6 2270.4,2008.3"/>
<polygon fill="#3e6687" points="2437.9,1928.9 2419.3,1929.8 2409.8,1963.2 2428.3,1964.7"/>
<polygon fill="url(#pm)" points="2475.6,1849.7 2456.8,1858 2447.3,1897.3 2465.9,1893.6"/>
<polygon fill="#547fa2" points="2409.8,1963.2 2391.4,1961.6 2381.9,1986.4 2400.4,1989.2"/>
<polygon fill="#769ebf" points="2215.8,1997.5 2197.7,1994.1 2187.1,2009.8 2205.3,2013.8"/>
<polygon fill="url(#pb)" points="2465.9,1893.6 2447.3,1897.3 2437.9,1928.9 2456.5,1927.8"/>
<polygon fill="#7099bb" points="2363.5,1983.7 2345.2,1981 2335.4,2000.8 2353.8,2004.1"/>
<polygon fill="#769ebf" points="2298.8,1994.2 2280.5,1991 2270.4,2008.3 2288.7,2012"/>
<polygon fill="#769ebf" points="2150.9,2002.1 2132.8,1998.3 2121.8,2014.1 2140,2018.3"/>
<polygon fill="#769ebf" points="2233.9,2001 2215.8,1997.5 2205.3,2013.8 2223.5,2017.8"/>
<polygon fill="url(#pb)" points="2456.5,1927.8 2437.9,1928.9 2428.3,1964.7 2446.9,1966.1"/>
<polygon fill="#517c9f" points="2428.3,1964.7 2409.8,1963.2 2400.4,1989.2 2418.9,1992"/>
<polygon fill="#6e97ba" points="2381.9,1986.4 2363.5,1983.7 2353.8,2004.1 2372.3,2007.6"/>
<polygon fill="#769ebf" points="2317.1,1997.4 2298.8,1994.2 2288.7,2012 2307.1,2015.8"/>
<polygon fill="#769ebf" points="2169,2005.9 2150.9,2002.1 2140,2018.3 2158.2,2022.6"/>
<polygon fill="#769ebf" points="2252.2,2004.6 2233.9,2001 2223.5,2017.8 2241.9,2021.9"/>
<polygon fill="url(#pm)" points="2494.5,1840.7 2475.6,1849.7 2465.9,1893.6 2484.7,1889.3"/>
<polygon fill="url(#pb)" points="2484.7,1889.3 2465.9,1893.6 2456.5,1927.8 2475.2,1926.5"/>
<polygon fill="#4e799c" points="2446.9,1966.1 2428.3,1964.7 2418.9,1992 2437.5,1994.8"/>
<polygon fill="#769ebf" points="2335.4,2000.8 2317.1,1997.4 2307.1,2015.8 2325.6,2019.7"/>
<polygon fill="#6d96b9" points="2400.4,1989.2 2381.9,1986.4 2372.3,2007.6 2390.8,2011.1"/>
<polygon fill="url(#pb)" points="2475.2,1926.5 2456.5,1927.8 2446.9,1966.1 2465.6,1967.5"/>
<polygon fill="#769ebf" points="2187.1,2009.8 2169,2005.9 2158.2,2022.6 2176.4,2026.9"/>
<polygon fill="#769ebf" points="2270.4,2008.3 2252.2,2004.6 2241.9,2021.9 2260.2,2026"/>
<polygon fill="#769ebf" points="2353.8,2004.1 2335.4,2000.8 2325.6,2019.7 2344.1,2023.6"/>
<polygon fill="#769ebf" points="2205.3,2013.8 2187.1,2009.8 2176.4,2026.9 2194.7,2031.2"/>
<polygon fill="#6b95b8" points="2418.9,1992 2400.4,1989.2 2390.8,2011.1 2409.4,2014.7"/>
<polygon fill="#4b7698" points="2465.6,1967.5 2446.9,1966.1 2437.5,1994.8 2456.2,1997.7"/>
<polygon fill="#769ebf" points="2288.7,2012 2270.4,2008.3 2260.2,2026 2278.6,2030.2"/>
<polygon fill="url(#pb)" points="2503.6,1884.9 2484.7,1889.3 2475.2,1926.5 2494,1925.3"/>
<polygon fill="url(#pb)" points="2494,1925.3 2475.2,1926.5 2465.6,1967.5 2484.3,1969"/>
<polygon fill="#769ebf" points="2140,2018.3 2121.8,2014.1 2110.8,2030.7 2129,2035"/>
<polygon fill="#769ebf" points="2372.3,2007.6 2353.8,2004.1 2344.1,2023.6 2362.6,2027.6"/>
<polygon fill="#769ebf" points="2223.5,2017.8 2205.3,2013.8 2194.7,2031.2 2213.1,2035.5"/>
<polygon fill="url(#pm)" points="2513.7,1831.4 2494.5,1840.7 2484.7,1889.3 2503.6,1884.9"/>
<polygon fill="#6993b7" points="2437.5,1994.8 2418.9,1992 2409.4,2014.7 2428.1,2018.3"/>
<polygon fill="#497395" points="2484.3,1969 2465.6,1967.5 2456.2,1997.7 2474.9,2000.6"/>
<polygon fill="#769ebf" points="2307.1,2015.8 2288.7,2012 2278.6,2030.2 2297.1,2034.4"/>
<polygon fill="#769ebf" points="2158.2,2022.6 2140,2018.3 2129,2035 2147.3,2039.4"/>
<polygon fill="#769ebf" points="2241.9,2021.9 2223.5,2017.8 2213.1,2035.5 2231.5,2039.9"/>
<polygon fill="#769ebf" points="2390.8,2011.1 2372.3,2007.6 2362.6,2027.6 2381.2,2031.7"/>
<polygon fill="url(#pb)" points="2512.9,1924.2 2494,1925.3 2484.3,1969 2503.1,1970.6"/>
<polygon fill="#6690b4" points="2456.2,1997.7 2437.5,1994.8 2428.1,2018.3 2446.8,2022"/>
<polygon fill="#769ebf" points="2325.6,2019.7 2307.1,2015.8 2297.1,2034.4 2315.6,2038.7"/>
<polygon fill="url(#pb)" points="2522.7,1880.5 2503.6,1884.9 2494,1925.3 2512.9,1924.2"/>
<polygon fill="#477193" points="2503.1,1970.6 2484.3,1969 2474.9,2000.6 2493.7,2003.6"/>
<polygon fill="#769ebf" points="2176.4,2026.9 2158.2,2022.6 2147.3,2039.4 2165.6,2043.8"/>
<polygon fill="#769ebf" points="2260.2,2026 2241.9,2021.9 2231.5,2039.9 2249.9,2044.3"/>
<polygon fill="#769ebf" points="2409.4,2014.7 2390.8,2011.1 2381.2,2031.7 2399.9,2035.8"/>
<polygon fill="#769ebf" points="2344.1,2023.6 2325.6,2019.7 2315.6,2038.7 2334.2,2043"/>
<polygon fill="#648eb2" points="2474.9,2000.6 2456.2,1997.7 2446.8,2022 2465.6,2025.7"/>
<polygon fill="url(#pm)" points="2533,1821.9 2513.7,1831.4 2503.6,1884.9 2522.7,1880.5"/>
<polygon fill="url(#pb)" points="2532,1922.9 2512.9,1924.2 2503.1,1970.6 2522,1972.1"/>
<polygon fill="#769ebf" points="2194.7,2031.2 2176.4,2026.9 2165.6,2043.8 2184,2048.2"/>
<polygon fill="#446e90" points="2522,1972.1 2503.1,1970.6 2493.7,2003.6 2512.5,2006.5"/>
<polygon fill="#769ebf" points="2278.6,2030.2 2260.2,2026 2249.9,2044.3 2268.4,2048.7"/>
<polygon fill="#769ebf" points="2428.1,2018.3 2409.4,2014.7 2399.9,2035.8 2418.6,2040"/>
<polygon fill="#769ebf" points="2362.6,2027.6 2344.1,2023.6 2334.2,2043 2352.8,2047.4"/>
<polygon fill="#628cb0" points="2493.7,2003.6 2474.9,2000.6 2465.6,2025.7 2484.4,2029.4"/>
<polygon fill="url(#pb)" points="2541.9,1875.5 2522.7,1880.5 2512.9,1924.2 2532,1922.9"/>
<polygon fill="#769ebf" points="2129,2035 2110.8,2030.7 2099.6,2048.2 2117.9,2052.6"/>
<polygon fill="#769ebf" points="2213.1,2035.5 2194.7,2031.2 2184,2048.2 2202.4,2052.6"/>
<polygon fill="#769ebf" points="2297.1,2034.4 2278.6,2030.2 2268.4,2048.7 2287,2053.2"/>
<polygon fill="#749cbe" points="2446.8,2022 2428.1,2018.3 2418.6,2040 2437.4,2044.2"/>
<polygon fill="#426c8d" points="2541,1973.4 2522,1972.1 2512.5,2006.5 2531.5,2009.4"/>
<polygon fill="#769ebf" points="2381.2,2031.7 2362.6,2027.6 2352.8,2047.4 2371.5,2051.8"/>
<polygon fill="url(#pb)" points="2551.1,1920.9 2532,1922.9 2522,1972.1 2541,1973.4"/>
<polygon fill="#769ebf" points="2147.3,2039.4 2129,2035 2117.9,2052.6 2136.3,2057"/>
<polygon fill="#5f89ad" points="2512.5,2006.5 2493.7,2003.6 2484.4,2029.4 2503.3,2033.2"/>
<polygon fill="#769ebf" points="2231.5,2039.9 2213.1,2035.5 2202.4,2052.6 2220.9,2057.1"/>
<polygon fill="#769ebf" points="2315.6,2038.7 2297.1,2034.4 2287,2053.2 2305.6,2057.6"/>
<polygon fill="#739bbd" points="2465.6,2025.7 2446.8,2022 2437.4,2044.2 2456.2,2048.4"/>
<polygon fill="#769ebf" points="2399.9,2035.8 2381.2,2031.7 2371.5,2051.8 2390.3,2056.2"/>
<polygon fill="url(#pm)" points="2552.5,1811.3 2533,1821.9 2522.7,1880.5 2541.9,1875.5"/>
<polygon fill="#416a8b" points="2560,1974.5 2541,1973.4 2531.5,2009.4 2550.4,2012.3"/>
<polygon fill="#769ebf" points="2165.6,2043.8 2147.3,2039.4 2136.3,2057 2154.7,2061.5"/>
<polygon fill="#769ebf" points="2249.9,2044.3 2231.5,2039.9 2220.9,2057.1 2239.5,2061.6"/>
<polygon fill="url(#pm)" points="2561.2,1869.4 2541.9,1875.5 2532,1922.9 2551.1,1920.9"/>
<polygon fill="#5b86a9" points="2531.5,2009.4 2512.5,2006.5 2503.3,2033.2 2522.2,2036.9"/>
<polygon fill="#769ebf" points="2334.2,2043 2315.6,2038.7 2305.6,2057.6 2324.2,2062.1"/>
<polygon fill="url(#pb)" points="2570.4,1918.6 2551.1,1920.9 2541,1973.4 2560,1974.5"/>
<polygon fill="#719abc" points="2484.4,2029.4 2465.6,2025.7 2456.2,2048.4 2475.1,2052.6"/>
<polygon fill="#769ebf" points="2418.6,2040 2399.9,2035.8 2390.3,2056.2 2409.1,2060.7"/>
<polygon fill="#769ebf" points="2184,2048.2 2165.6,2043.8 2154.7,2061.5 2173.2,2065.9"/>
<polygon fill="#769ebf" points="2268.4,2048.7 2249.9,2044.3 2239.5,2061.6 2258,2066.1"/>
<polygon fill="#406989" points="2579.2,1975.7 2560,1974.5 2550.4,2012.3 2569.5,2015.2"/>
<polygon fill="#769ebf" points="2352.8,2047.4 2334.2,2043 2324.2,2062.1 2343,2066.7"/>
<polygon fill="#5984a7" points="2550.4,2012.3 2531.5,2009.4 2522.2,2036.9 2541.2,2040.7"/>
<polygon fill="#7099bb" points="2503.3,2033.2 2484.4,2029.4 2475.1,2052.6 2494,2056.9"/>
<polygon fill="#769ebf" points="2437.4,2044.2 2418.6,2040 2409.1,2060.7 2427.9,2065.2"/>
<polygon fill="#769ebf" points="2117.9,2052.6 2099.6,2048.2 2088.4,2067.3 2106.8,2071.3"/>
<polygon fill="#769ebf" points="2202.4,2052.6 2184,2048.2 2173.2,2065.9 2191.7,2070.4"/>
<polygon fill="#769ebf" points="2287,2053.2 2268.4,2048.7 2258,2066.1 2276.7,2070.7"/>
<polygon fill="#769ebf" points="2371.5,2051.8 2352.8,2047.4 2343,2066.7 2361.7,2071.2"/>
<polygon fill="url(#pb)" points="2589.8,1916.2 2570.4,1918.6 2560,1974.5 2579.2,1975.7"/>
<polygon fill="url(#pm)" points="2580.8,1862.5 2561.2,1869.4 2551.1,1920.9 2570.4,1918.6"/>
<polygon fill="#5681a4" points="2569.5,2015.2 2550.4,2012.3 2541.2,2040.7 2560.3,2044.5"/>
<polygon fill="#3e6787" points="2598.4,1976.8 2579.2,1975.7 2569.5,2015.2 2588.6,2018.1"/>
<polygon fill="url(#pd)" points="2572.2,1798.7 2552.5,1811.3 2541.9,1875.5 2561.2,1869.4"/>
<polygon fill="#6e97ba" points="2522.2,2036.9 2503.3,2033.2 2494,2056.9 2513,2061.1"/>
<polygon fill="#769ebf" points="2456.2,2048.4 2437.4,2044.2 2427.9,2065.2 2446.8,2069.7"/>
<polygon fill="#769ebf" points="2136.3,2057 2117.9,2052.6 2106.8,2071.3 2125.2,2075.4"/>
<polygon fill="#769ebf" points="2220.9,2057.1 2202.4,2052.6 2191.7,2070.4 2210.3,2075"/>
<polygon fill="#769ebf" points="2305.6,2057.6 2287,2053.2 2276.7,2070.7 2295.4,2075.2"/>
<polygon fill="#769ebf" points="2390.3,2056.2 2371.5,2051.8 2361.7,2071.2 2380.6,2075.8"/>
<polygon fill="#537ea0" points="2588.6,2018.1 2569.5,2015.2 2560.3,2044.5 2579.4,2048.3"/>
<polygon fill="#769ebf" points="2475.1,2052.6 2456.2,2048.4 2446.8,2069.7 2465.8,2074.2"/>
<polygon fill="#6d96b9" points="2541.2,2040.7 2522.2,2036.9 2513,2061.1 2532.1,2065.5"/>
<polygon fill="#769ebf" points="2154.7,2061.5 2136.3,2057 2125.2,2075.4 2143.7,2079.5"/>
<polygon fill="#769ebf" points="2239.5,2061.6 2220.9,2057.1 2210.3,2075 2228.9,2079.5"/>
<polygon fill="#3d6585" points="2617.7,1977.8 2598.4,1976.8 2588.6,2018.1 2607.8,2020.8"/>
<polygon fill="#769ebf" points="2324.2,2062.1 2305.6,2057.6 2295.4,2075.2 2314.1,2079.8"/>
<polygon fill="url(#pb)" points="2609.3,1913.7 2589.8,1916.2 2579.2,1975.7 2598.4,1976.8"/>
<polygon fill="#769ebf" points="2409.1,2060.7 2390.3,2056.2 2380.6,2075.8 2399.4,2080.4"/>
<polygon fill="#769ebf" points="2494,2056.9 2475.1,2052.6 2465.8,2074.2 2484.8,2078.7"/>
<polygon fill="url(#pm)" points="2600.5,1855.3 2580.8,1862.5 2570.4,1918.6 2589.8,1916.2"/>
<polygon fill="#769ebf" points="2173.2,2065.9 2154.7,2061.5 2143.7,2079.5 2162.2,2083.7"/>
<polygon fill="#507a9d" points="2607.8,2020.8 2588.6,2018.1 2579.4,2048.3 2598.6,2051.9"/>
<polygon fill="#6b95b8" points="2560.3,2044.5 2541.2,2040.7 2532.1,2065.5 2551.2,2069.9"/>
<polygon fill="#769ebf" points="2258,2066.1 2239.5,2061.6 2228.9,2079.5 2247.6,2084.1"/>
<polygon fill="#769ebf" points="2343,2066.7 2324.2,2062.1 2314.1,2079.8 2333,2084.4"/>
<polygon fill="#769ebf" points="2427.9,2065.2 2409.1,2060.7 2399.4,2080.4 2418.4,2085"/>
<polygon fill="url(#pb)" points="2637.1,1978.9 2617.7,1977.8 2607.8,2020.8 2627.1,2023.4"/>
<polygon fill="#769ebf" points="2106.8,2071.3 2088.4,2067.3 2077.1,2087.3 2095.5,2090.6"/>
<polygon fill="#769ebf" points="2513,2061.1 2494,2056.9 2484.8,2078.7 2503.8,2083.3"/>
<polygon fill="url(#pb)" points="2628.9,1910.9 2609.3,1913.7 2598.4,1976.8 2617.7,1977.8"/>
<polygon fill="url(#pd)" points="2592.3,1784.6 2572.2,1798.7 2561.2,1869.4 2580.8,1862.5"/>
<polygon fill="#769ebf" points="2191.7,2070.4 2173.2,2065.9 2162.2,2083.7 2180.8,2087.9"/>
<polygon fill="#769ebf" points="2276.7,2070.7 2258,2066.1 2247.6,2084.1 2266.3,2088.7"/>
<polygon fill="#6993b6" points="2579.4,2048.3 2560.3,2044.5 2551.2,2069.9 2570.3,2074.2"/>
<polygon fill="#769ebf" points="2361.7,2071.2 2343,2066.7 2333,2084.4 2351.8,2089"/>
<polygon fill="#4e789b" points="2627.1,2023.4 2607.8,2020.8 2598.6,2051.9 2617.9,2055.3"/>
<polygon fill="#769ebf" points="2446.8,2069.7 2427.9,2065.2 2418.4,2085 2437.3,2089.6"/>
<polygon fill="#769ebf" points="2125.2,2075.4 2106.8,2071.3 2095.5,2090.6 2114,2094"/>
<polygon fill="url(#pb)" points="2656.6,1979.7 2637.1,1978.9 2627.1,2023.4 2646.5,2026"/>
<polygon fill="#769ebf" points="2532.1,2065.5 2513,2061.1 2503.8,2083.3 2522.9,2087.9"/>
<polygon fill="#769ebf" points="2210.3,2075 2191.7,2070.4 2180.8,2087.9 2199.5,2092.2"/>
<polygon fill="#769ebf" points="2295.4,2075.2 2276.7,2070.7 2266.3,2088.7 2285.1,2093.3"/>
<polygon fill="#769ebf" points="2380.6,2075.8 2361.7,2071.2 2351.8,2089 2370.7,2093.7"/>
<polygon fill="#658fb3" points="2598.6,2051.9 2579.4,2048.3 2570.3,2074.2 2589.6,2078.3"/>
<polygon fill="#769ebf" points="2465.8,2074.2 2446.8,2069.7 2437.3,2089.6 2456.4,2094.3"/>
<polygon fill="url(#pm)" points="2620.4,1847.7 2600.5,1855.3 2589.8,1916.2 2609.3,1913.7"/>
<polygon fill="#4b7698" points="2646.5,2026 2627.1,2023.4 2617.9,2055.3 2637.2,2058.7"/>
<polygon fill="url(#pb)" points="2648.6,1908.3 2628.9,1910.9 2617.7,1977.8 2637.1,1978.9"/>
<polygon fill="#769ebf" points="2143.7,2079.5 2125.2,2075.4 2114,2094 2132.5,2097.6"/>
<polygon fill="#769ebf" points="2551.2,2069.9 2532.1,2065.5 2522.9,2087.9 2542.1,2092.5"/>
<polygon fill="#769ebf" points="2228.9,2079.5 2210.3,2075 2199.5,2092.2 2218.2,2096.6"/>
<polygon fill="#769ebf" points="2314.1,2079.8 2295.4,2075.2 2285.1,2093.3 2303.9,2097.9"/>
<polygon fill="#769ebf" points="2399.4,2080.4 2380.6,2075.8 2370.7,2093.7 2389.7,2098.4"/>
<polygon fill="#628cb0" points="2617.9,2055.3 2598.6,2051.9 2589.6,2078.3 2608.9,2082.4"/>
<polygon fill="#769ebf" points="2484.8,2078.7 2465.8,2074.2 2456.4,2094.3 2475.5,2098.9"/>
<polygon fill="url(#pb)" points="2676.1,1980.4 2656.6,1979.7 2646.5,2026 2665.9,2028.4"/>
<polygon fill="#497396" points="2665.9,2028.4 2646.5,2026 2637.2,2058.7 2656.6,2062.1"/>
<polygon fill="#769ebf" points="2162.2,2083.7 2143.7,2079.5 2132.5,2097.6 2151.1,2101.2"/>
<polygon fill="#769ebf" points="2570.3,2074.2 2551.2,2069.9 2542.1,2092.5 2561.3,2097.1"/>
<polygon fill="#769ebf" points="2333,2084.4 2314.1,2079.8 2303.9,2097.9 2322.8,2102.6"/>
<polygon fill="#769ebf" points="2247.6,2084.1 2228.9,2079.5 2218.2,2096.6 2237,2101.1"/>
<polygon fill="#769ebf" points="2418.4,2085 2399.4,2080.4 2389.7,2098.4 2408.7,2103"/>
<polygon fill="#719abc" points="2095.5,2090.6 2077.1,2087.3 2065.7,2107.1 2084.1,2109.6"/>
<polygon fill="url(#pd)" points="2612.6,1769.5 2592.3,1784.6 2580.8,1862.5 2600.5,1855.3"/>
<polygon fill="#769ebf" points="2503.8,2083.3 2484.8,2078.7 2475.5,2098.9 2494.6,2103.6"/>
<polygon fill="#5f89ad" points="2637.2,2058.7 2617.9,2055.3 2608.9,2082.4 2628.2,2086.4"/>
<polygon fill="url(#pm)" points="2668.5,1905.1 2648.6,1908.3 2637.1,1978.9 2656.6,1979.7"/>
<polygon fill="url(#pb)" points="2695.8,1981 2676.1,1980.4 2665.9,2028.4 2685.4,2030.9"/>
<polygon fill="url(#pm)" points="2640.5,1839.2 2620.4,1847.7 2609.3,1913.7 2628.9,1910.9"/>
<polygon fill="#477194" points="2685.4,2030.9 2665.9,2028.4 2656.6,2062.1 2676.1,2065.5"/>
<polygon fill="#759dbe" points="2589.6,2078.3 2570.3,2074.2 2561.3,2097.1 2580.6,2101.6"/>
<polygon fill="#769ebf" points="2180.8,2087.9 2162.2,2083.7 2151.1,2101.2 2169.8,2105"/>
<polygon fill="#769ebf" points="2351.8,2089 2333,2084.4 2322.8,2102.6 2341.8,2107.3"/>
<polygon fill="#769ebf" points="2266.3,2088.7 2247.6,2084.1 2237,2101.1 2255.8,2105.6"/>
<polygon fill="#769ebf" points="2437.3,2089.6 2418.4,2085 2408.7,2103 2427.8,2107.7"/>
<polygon fill="#769ebf" points="2522.9,2087.9 2503.8,2083.3 2494.6,2103.6 2513.8,2108.3"/>
<polygon fill="#759dbe" points="2114,2094 2095.5,2090.6 2084.1,2109.6 2102.6,2112.3"/>
<polygon fill="#5d87ab" points="2656.6,2062.1 2637.2,2058.7 2628.2,2086.4 2647.6,2090.4"/>
<polygon fill="#769ebf" points="2370.7,2093.7 2351.8,2089 2341.8,2107.3 2360.8,2112"/>
<polygon fill="#739bbd" points="2608.9,2082.4 2589.6,2078.3 2580.6,2101.6 2600,2106.1"/>
<polygon fill="#769ebf" points="2285.1,2093.3 2266.3,2088.7 2255.8,2105.6 2274.7,2110.2"/>
<polygon fill="#769ebf" points="2456.4,2094.3 2437.3,2089.6 2427.8,2107.7 2446.9,2112.4"/>
<polygon fill="#769ebf" points="2199.5,2092.2 2180.8,2087.9 2169.8,2105 2188.5,2108.9"/>
<polygon fill="#446e90" points="2705,2033.1 2685.4,2030.9 2676.1,2065.5 2695.6,2068.6"/>
<polygon fill="#769ebf" points="2542.1,2092.5 2522.9,2087.9 2513.8,2108.3 2533.1,2113"/>
<polygon fill="url(#pb)" points="2715.6,1981.4 2695.8,1981 2685.4,2030.9 2705,2033.1"/>
<polygon fill="url(#pm)" points="2688.6,1901.4 2668.5,1905.1 2656.6,1979.7 2676.1,1980.4"/>
<polygon fill="#769ebf" points="2132.5,2097.6 2114,2094 2102.6,2112.3 2121.2,2115.3"/>
<polygon fill="#5a85a8" points="2676.1,2065.5 2656.6,2062.1 2647.6,2090.4 2667.1,2094.4"/>
<polygon fill="#769ebf" points="2389.7,2098.4 2370.7,2093.7 2360.8,2112 2379.9,2116.7"/>
<polygon fill="#769ebf" points="2475.5,2098.9 2456.4,2094.3 2446.9,2112.4 2466.1,2117.2"/>
<polygon fill="#769ebf" points="2303.9,2097.9 2285.1,2093.3 2274.7,2110.2 2293.6,2114.8"/>
<polygon fill="#719abc" points="2628.2,2086.4 2608.9,2082.4 2600,2106.1 2619.4,2110.5"/>
<polygon fill="#769ebf" points="2218.2,2096.6 2199.5,2092.2 2188.5,2108.9 2207.3,2113.1"/>
<polygon fill="#769ebf" points="2561.3,2097.1 2542.1,2092.5 2533.1,2113 2552.4,2117.7"/>
<polygon fill="url(#pm)" points="2660.8,1829.9 2640.5,1839.2 2628.9,1910.9 2648.6,1908.3"/>
<polygon fill="#426b8c" points="2724.7,2034.7 2705,2033.1 2695.6,2068.6 2715.3,2071"/>
<polygon fill="url(#pd)" points="2633.1,1753.5 2612.6,1769.5 2600.5,1855.3 2620.4,1847.7"/>
<polygon fill="#5681a4" points="2695.6,2068.6 2676.1,2065.5 2667.1,2094.4 2686.7,2098.3"/>
<polygon fill="url(#pb)" points="2735.5,1981.3 2715.6,1981.4 2705,2033.1 2724.7,2034.7"/>
<polygon fill="#6993b6" points="2084.1,2109.6 2065.7,2107.1 2054.2,2127 2072.6,2128.9"/>
<polygon fill="#769ebf" points="2151.1,2101.2 2132.5,2097.6 2121.2,2115.3 2139.9,2118.3"/>
<polygon fill="#769ebf" points="2408.7,2103 2389.7,2098.4 2379.9,2116.7 2399,2121.4"/>
<polygon fill="#769ebf" points="2494.6,2103.6 2475.5,2098.9 2466.1,2117.2 2485.3,2121.9"/>
<polygon fill="#769ebf" points="2322.8,2102.6 2303.9,2097.9 2293.6,2114.8 2312.6,2119.5"/>
<polygon fill="#7099bb" points="2647.6,2090.4 2628.2,2086.4 2619.4,2110.5 2638.8,2115"/>
<polygon fill="#769ebf" points="2237,2101.1 2218.2,2096.6 2207.3,2113.1 2226.2,2117.3"/>
<polygon fill="#769ebf" points="2580.6,2101.6 2561.3,2097.1 2552.4,2117.7 2571.7,2122.4"/>
<polygon fill="url(#pm)" points="2708.8,1897.6 2688.6,1901.4 2676.1,1980.4 2695.8,1981"/>
<polygon fill="#769ebf" points="2427.8,2107.7 2408.7,2103 2399,2121.4 2418.1,2126.2"/>
<polygon fill="#769ebf" points="2513.8,2108.3 2494.6,2103.6 2485.3,2121.9 2504.6,2126.7"/>
<polygon fill="#769ebf" points="2341.8,2107.3 2322.8,2102.6 2312.6,2119.5 2331.6,2124.2"/>
<polygon fill="#4f7a9d" points="2715.3,2071 2695.6,2068.6 2686.7,2098.3 2706.3,2101.5"/>
<polygon fill="#769ebf" points="2169.8,2105 2151.1,2101.2 2139.9,2118.3 2158.6,2121.5"/>
<polygon fill="#6e97ba" points="2667.1,2094.4 2647.6,2090.4 2638.8,2115 2658.3,2119.4"/>
<polygon fill="#769ebf" points="2255.8,2105.6 2237,2101.1 2226.2,2117.3 2245.1,2121.7"/>
<polygon fill="#6d96b9" points="2102.6,2112.3 2084.1,2109.6 2072.6,2128.9 2091.2,2130.9"/>
<polygon fill="#769ebf" points="2600,2106.1 2580.6,2101.6 2571.7,2122.4 2591.1,2127.1"/>
<polygon fill="#769ebf" points="2446.9,2112.4 2427.8,2107.7 2418.1,2126.2 2437.4,2131"/>
<polygon fill="#769ebf" points="2533.1,2113 2513.8,2108.3 2504.6,2126.7 2524,2131.4"/>
<polygon fill="#769ebf" points="2360.8,2112 2341.8,2107.3 2331.6,2124.2 2350.8,2128.9"/>
<polygon fill="url(#pm)" points="2681.4,1818.7 2660.8,1829.9 2648.6,1908.3 2668.5,1905.1"/>
<polygon fill="#769ebf" points="2274.7,2110.2 2255.8,2105.6 2245.1,2121.7 2264.1,2126.2"/>
<polygon fill="#769ebf" points="2188.5,2108.9 2169.8,2105 2158.6,2121.5 2177.4,2125"/>
<polygon fill="#6b95b8" points="2686.7,2098.3 2667.1,2094.4 2658.3,2119.4 2677.9,2123.8"/>
<polygon fill="#769ebf" points="2619.4,2110.5 2600,2106.1 2591.1,2127.1 2610.6,2131.8"/>
<polygon fill="url(#pm)" points="2729.1,1893.2 2708.8,1897.6 2695.8,1981 2715.6,1981.4"/>
<polygon fill="#719abc" points="2121.2,2115.3 2102.6,2112.3 2091.2,2130.9 2109.8,2133.2"/>
<polygon fill="#769ebf" points="2466.1,2117.2 2446.9,2112.4 2437.4,2131 2456.6,2135.7"/>
<polygon fill="#769ebf" points="2552.4,2117.7 2533.1,2113 2524,2131.4 2543.4,2136.2"/>
<polygon fill="#769ebf" points="2379.9,2116.7 2360.8,2112 2350.8,2128.9 2369.9,2133.8"/>
<polygon fill="url(#pd)" points="2654,1735.4 2633.1,1753.5 2620.4,1847.7 2640.5,1839.2"/>
<polygon fill="#769ebf" points="2293.6,2114.8 2274.7,2110.2 2264.1,2126.2 2283.1,2130.8"/>
<polygon fill="#769ebf" points="2638.8,2115 2619.4,2110.5 2610.6,2131.8 2630.2,2136.4"/>
<polygon fill="#769ebf" points="2207.3,2113.1 2188.5,2108.9 2177.4,2125 2196.3,2128.8"/>
<polygon fill="#648eb2" points="2706.3,2101.5 2686.7,2098.3 2677.9,2123.8 2697.6,2127.9"/>
<polygon fill="#618caf" points="2072.6,2128.9 2054.2,2127 2042.5,2146.8 2061,2148.1"/>
<polygon fill="#749cbd" points="2139.9,2118.3 2121.2,2115.3 2109.8,2133.2 2128.5,2135.7"/>
<polygon fill="#769ebf" points="2485.3,2121.9 2466.1,2117.2 2456.6,2135.7 2476,2140.5"/>
<polygon fill="#769ebf" points="2571.7,2122.4 2552.4,2117.7 2543.4,2136.2 2562.8,2141"/>
<polygon fill="#769ebf" points="2399,2121.4 2379.9,2116.7 2369.9,2133.8 2389.1,2138.6"/>
<polygon fill="#769ebf" points="2312.6,2119.5 2293.6,2114.8 2283.1,2130.8 2302.2,2135.4"/>
<polygon fill="#769ebf" points="2658.3,2119.4 2638.8,2115 2630.2,2136.4 2649.7,2141.1"/>
<polygon fill="url(#pm)" points="2749.7,1888.4 2729.1,1893.2 2715.6,1981.4 2735.5,1981.3"/>
<polygon fill="#769ebf" points="2226.2,2117.3 2207.3,2113.1 2196.3,2128.8 2215.2,2132.8"/>
<polygon fill="url(#pm)" points="2702.2,1806.6 2681.4,1818.7 2668.5,1905.1 2688.6,1901.4"/>
<polygon fill="#769ebf" points="2504.6,2126.7 2485.3,2121.9 2476,2140.5 2495.4,2145.3"/>
<polygon fill="#769ebf" points="2418.1,2126.2 2399,2121.4 2389.1,2138.6 2408.4,2143.5"/>
<polygon fill="#769ebf" points="2591.1,2127.1 2571.7,2122.4 2562.8,2141 2582.4,2145.7"/>
<polygon fill="#6590b3" points="2091.2,2130.9 2072.6,2128.9 2061,2148.1 2079.5,2149.6"/>
<polygon fill="#769ebf" points="2158.6,2121.5 2139.9,2118.3 2128.5,2135.7 2147.2,2138.3"/>
<polygon fill="#769ebf" points="2331.6,2124.2 2312.6,2119.5 2302.2,2135.4 2321.4,2140.1"/>
<polygon fill="#769ebf" points="2677.9,2123.8 2658.3,2119.4 2649.7,2141.1 2669.4,2145.8"/>
<polygon fill="#769ebf" points="2245.1,2121.7 2226.2,2117.3 2215.2,2132.8 2234.2,2137"/>
<polygon fill="#769ebf" points="2524,2131.4 2504.6,2126.7 2495.4,2145.3 2514.8,2150.2"/>
<polygon fill="#769ebf" points="2437.4,2131 2418.1,2126.2 2408.4,2143.5 2427.7,2148.3"/>
<polygon fill="#769ebf" points="2610.6,2131.8 2591.1,2127.1 2582.4,2145.7 2601.9,2150.5"/>
<polygon fill="#769ebf" points="2350.8,2128.9 2331.6,2124.2 2321.4,2140.1 2340.6,2145"/>
<polygon fill="#769ebf" points="2697.6,2127.9 2677.9,2123.8 2669.4,2145.8 2689.1,2150.4"/>
<polygon fill="#769ebf" points="2177.4,2125 2158.6,2121.5 2147.2,2138.3 2166.1,2141.4"/>
<polygon fill="#6a94b7" points="2109.8,2133.2 2091.2,2130.9 2079.5,2149.6 2098.2,2151.4"/>
<polygon fill="#769ebf" points="2264.1,2126.2 2245.1,2121.7 2234.2,2137 2253.3,2141.4"/>
<polygon fill="#769ebf" points="2543.4,2136.2 2524,2131.4 2514.8,2150.2 2534.3,2155"/>
<polygon fill="url(#pd)" points="2675.4,1714.6 2654,1735.4 2640.5,1839.2 2660.8,1829.9"/>
<polygon fill="#769ebf" points="2456.6,2135.7 2437.4,2131 2427.7,2148.3 2447.1,2153.2"/>
<polygon fill="#769ebf" points="2630.2,2136.4 2610.6,2131.8 2601.9,2150.5 2621.6,2155.3"/>
<polygon fill="#769ebf" points="2369.9,2133.8 2350.8,2128.9 2340.6,2145 2359.8,2150"/>
<polygon fill="#5d87ab" points="2061,2148.1 2042.5,2146.8 2030.6,2166 2049.1,2166.8"/>
<polygon fill="#769ebf" points="2283.1,2130.8 2264.1,2126.2 2253.3,2141.4 2272.5,2145.9"/>
<polygon fill="#769ebf" points="2196.3,2128.8 2177.4,2125 2166.1,2141.4 2185.1,2144.9"/>
<polygon fill="url(#pm)" points="2723.3,1794.6 2702.2,1806.6 2688.6,1901.4 2708.8,1897.6"/>
<polygon fill="#769ebf" points="2562.8,2141 2543.4,2136.2 2534.3,2155 2553.9,2159.8"/>
<polygon fill="#769ebf" points="2476,2140.5 2456.6,2135.7 2447.1,2153.2 2466.5,2158.1"/>
<polygon fill="#6d96b9" points="2128.5,2135.7 2109.8,2133.2 2098.2,2151.4 2116.9,2153.3"/>
<polygon fill="#769ebf" points="2649.7,2141.1 2630.2,2136.4 2621.6,2155.3 2641.2,2160.1"/>
<polygon fill="#769ebf" points="2389.1,2138.6 2369.9,2133.8 2359.8,2150 2379.2,2155"/>
<polygon fill="#769ebf" points="2302.2,2135.4 2283.1,2130.8 2272.5,2145.9 2291.7,2150.5"/>
<polygon fill="#769ebf" points="2215.2,2132.8 2196.3,2128.8 2185.1,2144.9 2204.1,2148.6"/>
<polygon fill="#769ebf" points="2582.4,2145.7 2562.8,2141 2553.9,2159.8 2573.5,2164.7"/>
<polygon fill="#769ebf" points="2495.4,2145.3 2476,2140.5 2466.5,2158.1 2486,2163.1"/>
<polygon fill="#769ebf" points="2669.4,2145.8 2649.7,2141.1 2641.2,2160.1 2661,2164.8"/>
<polygon fill="#618baf" points="2079.5,2149.6 2061,2148.1 2049.1,2166.8 2067.7,2167.8"/>
<polygon fill="#769ebf" points="2408.4,2143.5 2389.1,2138.6 2379.2,2155 2398.5,2160"/>
<polygon fill="#719abc" points="2147.2,2138.3 2128.5,2135.7 2116.9,2153.3 2135.8,2155.5"/>
<polygon fill="#769ebf" points="2321.4,2140.1 2302.2,2135.4 2291.7,2150.5 2310.9,2155.3"/>
<polygon fill="#769ebf" points="2601.9,2150.5 2582.4,2145.7 2573.5,2164.7 2593.1,2169.5"/>
<polygon fill="#769ebf" points="2514.8,2150.2 2495.4,2145.3 2486,2163.1 2505.6,2168.1"/>
<polygon fill="#769ebf" points="2234.2,2137 2215.2,2132.8 2204.1,2148.6 2223.2,2152.6"/>
<polygon fill="#769ebf" points="2689.1,2150.4 2669.4,2145.8 2661,2164.8 2680.8,2169.5"/>
<polygon fill="#769ebf" points="2427.7,2148.3 2408.4,2143.5 2398.5,2160 2418,2165"/>
<polygon fill="#6690b4" points="2098.2,2151.4 2079.5,2149.6 2067.7,2167.8 2086.4,2169.1"/>
<polygon fill="url(#pm)" points="2744.5,1782.9 2723.3,1794.6 2708.8,1897.6 2729.1,1893.2"/>
<polygon fill="#769ebf" points="2340.6,2145 2321.4,2140.1 2310.9,2155.3 2330.3,2160.2"/>
<polygon fill="#769ebf" points="2166.1,2141.4 2147.2,2138.3 2135.8,2155.5 2154.7,2158.2"/>
<polygon fill="#769ebf" points="2534.3,2155 2514.8,2150.2 2505.6,2168.1 2525.2,2173"/>
<polygon fill="#769ebf" points="2621.6,2155.3 2601.9,2150.5 2593.1,2169.5 2612.9,2174.3"/>
<polygon fill="url(#pd)" points="2697.3,1689.6 2675.4,1714.6 2660.8,1829.9 2681.4,1818.7"/>
<polygon fill="#769ebf" points="2253.3,2141.4 2234.2,2137 2223.2,2152.6 2242.4,2156.9"/>
<polygon fill="#769ebf" points="2447.1,2153.2 2427.7,2148.3 2418,2165 2437.4,2170"/>
<polygon fill="#5781a5" points="2049.1,2166.8 2030.6,2166 2018.6,2185.1 2037.1,2185.3"/>
<polygon fill="#779fc0" points="2359.8,2150 2340.6,2145 2330.3,2160.2 2349.6,2165.4"/>
<polygon fill="#769ebf" points="2553.9,2159.8 2534.3,2155 2525.2,2173 2544.8,2177.9"/>
<polygon fill="#769ebf" points="2641.2,2160.1 2621.6,2155.3 2612.9,2174.3 2632.7,2179.2"/>
<polygon fill="#769ebf" points="2185.1,2144.9 2166.1,2141.4 2154.7,2158.2 2173.8,2161.5"/>
<polygon fill="#6892b6" points="2116.9,2153.3 2098.2,2151.4 2086.4,2169.1 2105.3,2170.6"/>
<polygon fill="#769ebf" points="2466.5,2158.1 2447.1,2153.2 2437.4,2170 2457,2175.1"/>
<polygon fill="#769ebf" points="2272.5,2145.9 2253.3,2141.4 2242.4,2156.9 2261.7,2161.3"/>
<polygon fill="#779fc0" points="2379.2,2155 2359.8,2150 2349.6,2165.4 2369.1,2170.6"/>
<polygon fill="#769ebf" points="2573.5,2164.7 2553.9,2159.8 2544.8,2177.9 2564.5,2182.6"/>
<polygon fill="#769ebf" points="2661,2164.8 2641.2,2160.1 2632.7,2179.2 2652.5,2184"/>
<polygon fill="#5b86a9" points="2067.7,2167.8 2049.1,2166.8 2037.1,2185.3 2055.8,2185.8"/>
<polygon fill="#769ebf" points="2486,2163.1 2466.5,2158.1 2457,2175.1 2476.6,2180.4"/>
<polygon fill="#769ebf" points="2291.7,2150.5 2272.5,2145.9 2261.7,2161.3 2281,2165.9"/>
<polygon fill="#769ebf" points="2204.1,2148.6 2185.1,2144.9 2173.8,2161.5 2192.9,2164.9"/>
<polygon fill="url(#pm)" points="2765.9,1771.7 2744.5,1782.9 2729.1,1893.2 2749.7,1888.4"/>
<polygon fill="#6d96b9" points="2135.8,2155.5 2116.9,2153.3 2105.3,2170.6 2124.2,2172.4"/>
<polygon fill="#769ebf" points="2398.5,2160 2379.2,2155 2369.1,2170.6 2388.5,2175.8"/>
<polygon fill="#769ebf" points="2593.1,2169.5 2573.5,2164.7 2564.5,2182.6 2584.3,2187.3"/>
<polygon fill="#769ebf" points="2680.8,2169.5 2661,2164.8 2652.5,2184 2672.4,2188.7"/>
<polygon fill="#769ebf" points="2505.6,2168.1 2486,2163.1 2476.6,2180.4 2496.2,2185.7"/>
<polygon fill="#769ebf" points="2310.9,2155.3 2291.7,2150.5 2281,2165.9 2300.4,2170.7"/>
<polygon fill="#769ebf" points="2223.2,2152.6 2204.1,2148.6 2192.9,2164.9 2212.1,2168.8"/>
<polygon fill="#769ebf" points="2418,2165 2398.5,2160 2388.5,2175.8 2408.1,2181"/>
<polygon fill="#618baf" points="2086.4,2169.1 2067.7,2167.8 2055.8,2185.8 2074.5,2186.6"/>
<polygon fill="#769ebf" points="2612.9,2174.3 2593.1,2169.5 2584.3,2187.3 2604.2,2192.1"/>
<polygon fill="#749cbe" points="2154.7,2158.2 2135.8,2155.5 2124.2,2172.4 2143.2,2174.8"/>
<polygon fill="#769ebf" points="2525.2,2173 2505.6,2168.1 2496.2,2185.7 2515.9,2190.8"/>
<polygon fill="#769ebf" points="2330.3,2160.2 2310.9,2155.3 2300.4,2170.7 2319.8,2175.8"/>
<polygon fill="#527da0" points="2037.1,2185.3 2018.6,2185.1 2006.4,2204.4 2025,2204.5"/>
<polygon fill="url(#pd)" points="2719.7,1662 2697.3,1689.6 2681.4,1818.7 2702.2,1806.6"/>
<polygon fill="#769ebf" points="2437.4,2170 2418,2165 2408.1,2181 2427.7,2186.2"/>
<polygon fill="#769ebf" points="2242.4,2156.9 2223.2,2152.6 2212.1,2168.8 2231.4,2173"/>
<polygon fill="#769ebf" points="2632.7,2179.2 2612.9,2174.3 2604.2,2192.1 2624.1,2196.8"/>
<polygon fill="#769ebf" points="2544.8,2177.9 2525.2,2173 2515.9,2190.8 2535.7,2195.6"/>
<polygon fill="#779fc0" points="2349.6,2165.4 2330.3,2160.2 2319.8,2175.8 2339.3,2181.1"/>
<polygon fill="#638eb1" points="2105.3,2170.6 2086.4,2169.1 2074.5,2186.6 2093.4,2187.5"/>
<polygon fill="#769ebf" points="2173.8,2161.5 2154.7,2158.2 2143.2,2174.8 2162.3,2177.8"/>
<polygon fill="#769ebf" points="2457,2175.1 2437.4,2170 2427.7,2186.2 2447.3,2191.5"/>
<polygon fill="#769ebf" points="2261.7,2161.3 2242.4,2156.9 2231.4,2173 2250.8,2177.3"/>
<polygon fill="#769ebf" points="2652.5,2184 2632.7,2179.2 2624.1,2196.8 2644,2201.4"/>
<polygon fill="#5580a3" points="2055.8,2185.8 2037.1,2185.3 2025,2204.5 2043.7,2204.9"/>
<polygon fill="#769ebf" points="2564.5,2182.6 2544.8,2177.9 2535.7,2195.6 2555.5,2200.2"/>
<polygon fill="#779fc0" points="2369.1,2170.6 2349.6,2165.4 2339.3,2181.1 2358.8,2186.5"/>
<polygon fill="#779fc0" points="2476.6,2180.4 2457,2175.1 2447.3,2191.5 2467,2197"/>
<polygon fill="#769ebf" points="2192.9,2164.9 2173.8,2161.5 2162.3,2177.8 2181.5,2181"/>
<polygon fill="#769ebf" points="2281,2165.9 2261.7,2161.3 2250.8,2177.3 2270.2,2181.8"/>
<polygon fill="#6892b6" points="2124.2,2172.4 2105.3,2170.6 2093.4,2187.5 2112.3,2188.8"/>
<polygon fill="#769ebf" points="2672.4,2188.7 2652.5,2184 2644,2201.4 2664.1,2205.6"/>
<polygon fill="#779fc0" points="2388.5,2175.8 2369.1,2170.6 2358.8,2186.5 2378.4,2191.9"/>
<polygon fill="#769ebf" points="2584.3,2187.3 2564.5,2182.6 2555.5,2200.2 2575.4,2204.7"/>
<polygon fill="#779fc0" points="2496.2,2185.7 2476.6,2180.4 2467,2197 2486.8,2202.7"/>
<polygon fill="#769ebf" points="2300.4,2170.7 2281,2165.9 2270.2,2181.8 2289.7,2186.6"/>
<polygon fill="#5984a7" points="2074.5,2186.6 2055.8,2185.8 2043.7,2204.9 2062.6,2205.6"/>
<polygon fill="#769ebf" points="2212.1,2168.8 2192.9,2164.9 2181.5,2181 2200.8,2184.7"/>
<polygon fill="#779fc0" points="2408.1,2181 2388.5,2175.8 2378.4,2191.9 2398.1,2197.2"/>
<polygon fill="#769ebf" points="2604.2,2192.1 2584.3,2187.3 2575.4,2204.7 2595.4,2209.3"/>
<polygon fill="#517c9f" points="2025,2204.5 2006.4,2204.4 1994.1,2224 2012.8,2224.2"/>
<polygon fill="#769ebf" points="2515.9,2190.8 2496.2,2185.7 2486.8,2202.7 2506.6,2207.9"/>
<polygon fill="#719abc" points="2143.2,2174.8 2124.2,2172.4 2112.3,2188.8 2131.4,2190.8"/>
<polygon fill="#769ebf" points="2319.8,2175.8 2300.4,2170.7 2289.7,2186.6 2309.2,2191.8"/>
<polygon fill="#779fc0" points="2427.7,2186.2 2408.1,2181 2398.1,2197.2 2417.8,2202.5"/>
<polygon fill="#769ebf" points="2231.4,2173 2212.1,2168.8 2200.8,2184.7 2220.2,2188.8"/>
<polygon fill="url(#pd)" points="2742.6,1632.6 2719.7,1662 2702.2,1806.6 2723.3,1794.6"/>
<polygon fill="#769ebf" points="2624.1,2196.8 2604.2,2192.1 2595.4,2209.3 2615.4,2213.8"/>
<polygon fill="#769ebf" points="2535.7,2195.6 2515.9,2190.8 2506.6,2207.9 2526.5,2212.7"/>
<polygon fill="#5b86a9" points="2093.4,2187.5 2074.5,2186.6 2062.6,2205.6 2081.5,2206.5"/>
<polygon fill="#779fc0" points="2339.3,2181.1 2319.8,2175.8 2309.2,2191.8 2328.8,2197.3"/>
<polygon fill="#769ebf" points="2162.3,2177.8 2143.2,2174.8 2131.4,2190.8 2150.7,2193.5"/>
<polygon fill="#779fc0" points="2447.3,2191.5 2427.7,2186.2 2417.8,2202.5 2437.6,2208"/>
<polygon fill="#537ea1" points="2043.7,2204.9 2025,2204.5 2012.8,2224.2 2031.6,2224.6"/>
<polygon fill="#769ebf" points="2250.8,2177.3 2231.4,2173 2220.2,2188.8 2239.7,2193.1"/>
<polygon fill="#769ebf" points="2644,2201.4 2624.1,2196.8 2615.4,2213.8 2635.5,2218"/>
<polygon fill="#769ebf" points="2555.5,2200.2 2535.7,2195.6 2526.5,2212.7 2546.4,2217.1"/>
<polygon fill="#779fc0" points="2358.8,2186.5 2339.3,2181.1 2328.8,2197.3 2348.5,2202.9"/>
<polygon fill="#779fc0" points="2467,2197 2447.3,2191.5 2437.6,2208 2457.4,2213.9"/>
<polygon fill="#5f8aad" points="2112.3,2188.8 2093.4,2187.5 2081.5,2206.5 2100.5,2207.7"/>
<polygon fill="#769ebf" points="2181.5,2181 2162.3,2177.8 2150.7,2193.5 2170,2196.5"/>
<polygon fill="#769ebf" points="2270.2,2181.8 2250.8,2177.3 2239.7,2193.1 2259.2,2197.6"/>
<polygon fill="#769ebf" points="2575.4,2204.7 2555.5,2200.2 2546.4,2217.1 2566.5,2221.4"/>
<polygon fill="#769ebf" points="2664.1,2205.6 2644,2201.4 2635.5,2218 2655.8,2221.2"/>
<polygon fill="#779fc0" points="2378.4,2191.9 2358.8,2186.5 2348.5,2202.9 2368.2,2208.4"/>
<polygon fill="#779fc0" points="2486.8,2202.7 2467,2197 2457.4,2213.9 2477.2,2219.8"/>
<polygon fill="#5782a5" points="2062.6,2205.6 2043.7,2204.9 2031.6,2224.6 2050.5,2225.4"/>
<polygon fill="#527d9f" points="2012.8,2224.2 1994.1,2224 1981.7,2244.2 2000.5,2244.8"/>
<polygon fill="#769ebf" points="2289.7,2186.6 2270.2,2181.8 2259.2,2197.6 2278.8,2202.4"/>
<polygon fill="#769ebf" points="2200.8,2184.7 2181.5,2181 2170,2196.5 2189.4,2200"/>
<polygon fill="#779fc0" points="2398.1,2197.2 2378.4,2191.9 2368.2,2208.4 2388,2213.9"/>
<polygon fill="#769ebf" points="2595.4,2209.3 2575.4,2204.7 2566.5,2221.4 2586.6,2225.8"/>
<polygon fill="#769ebf" points="2506.6,2207.9 2486.8,2202.7 2477.2,2219.8 2497.1,2225.3"/>
<polygon fill="#6993b6" points="2131.4,2190.8 2112.3,2188.8 2100.5,2207.7 2119.7,2209.6"/>
<polygon fill="#779fc0" points="2309.2,2191.8 2289.7,2186.6 2278.8,2202.4 2298.5,2207.7"/>
<polygon fill="#779fc0" points="2417.8,2202.5 2398.1,2197.2 2388,2213.9 2407.8,2219.4"/>
<polygon fill="#5883a6" points="2081.5,2206.5 2062.6,2205.6 2050.5,2225.4 2069.5,2226.3"/>
<polygon fill="#769ebf" points="2220.2,2188.8 2200.8,2184.7 2189.4,2200 2208.9,2204"/>
<polygon fill="#769ebf" points="2526.5,2212.7 2506.6,2207.9 2497.1,2225.3 2517.1,2230"/>
<polygon fill="#769ebf" points="2615.4,2213.8 2595.4,2209.3 2586.6,2225.8 2606.7,2230"/>
<polygon fill="url(#pd)" points="2766.2,1598.8 2742.6,1632.6 2723.3,1794.6 2744.5,1782.9"/>
<polygon fill="#537ea1" points="2031.6,2224.6 2012.8,2224.2 2000.5,2244.8 2019.4,2245.5"/>
<polygon fill="#7099bb" points="2150.7,2193.5 2131.4,2190.8 2119.7,2209.6 2139,2212.3"/>
<polygon fill="#779fc0" points="2328.8,2197.3 2309.2,2191.8 2298.5,2207.7 2318.2,2213.4"/>
<polygon fill="#779fc0" points="2437.6,2208 2417.8,2202.5 2407.8,2219.4 2427.6,2225.1"/>
<polygon fill="#769ebf" points="2546.4,2217.1 2526.5,2212.7 2517.1,2230 2537.2,2234.2"/>
<polygon fill="#769ebf" points="2239.7,2193.1 2220.2,2188.8 2208.9,2204 2228.4,2208.2"/>
<polygon fill="#769ebf" points="2635.5,2218 2615.4,2213.8 2606.7,2230 2627,2233.7"/>
<polygon fill="#5c87aa" points="2100.5,2207.7 2081.5,2206.5 2069.5,2226.3 2088.6,2227.5"/>
<polygon fill="#779fc0" points="2348.5,2202.9 2328.8,2197.3 2318.2,2213.4 2338,2219.2"/>
<polygon fill="#779fc0" points="2457.4,2213.9 2437.6,2208 2427.6,2225.1 2447.6,2231.3"/>
<polygon fill="#749cbe" points="2170,2196.5 2150.7,2193.5 2139,2212.3 2158.4,2215.2"/>
<polygon fill="#5681a4" points="2050.5,2225.4 2031.6,2224.6 2019.4,2245.5 2038.4,2246.7"/>
<polygon fill="#769ebf" points="2259.2,2197.6 2239.7,2193.1 2228.4,2208.2 2248.1,2212.7"/>
<polygon fill="#769ebf" points="2566.5,2221.4 2546.4,2217.1 2537.2,2234.2 2557.4,2238.3"/>
<polygon fill="#5b85a9" points="2000.5,2244.8 1981.7,2244.2 1969.2,2264.8 1988.2,2267.3"/>
<polygon fill="#779fc0" points="2368.2,2208.4 2348.5,2202.9 2338,2219.2 2357.8,2224.8"/>
<polygon fill="#779fc0" points="2477.2,2219.8 2457.4,2213.9 2447.6,2231.3 2467.5,2237.4"/>
<polygon fill="#769ebf" points="2655.8,2221.2 2635.5,2218 2627,2233.7 2647.4,2235.6"/>
<polygon fill="#6690b4" points="2119.7,2209.6 2100.5,2207.7 2088.6,2227.5 2107.9,2229.5"/>
<polygon fill="#769ebf" points="2189.4,2200 2170,2196.5 2158.4,2215.2 2177.9,2218.7"/>
<polygon fill="#769ebf" points="2278.8,2202.4 2259.2,2197.6 2248.1,2212.7 2267.8,2217.5"/>
<polygon fill="#779fc0" points="2388,2213.9 2368.2,2208.4 2357.8,2224.8 2377.7,2230.4"/>
<polygon fill="#769ebf" points="2497.1,2225.3 2477.2,2219.8 2467.5,2237.4 2487.6,2243.1"/>
<polygon fill="#769ebf" points="2586.6,2225.8 2566.5,2221.4 2557.4,2238.3 2577.6,2242.4"/>
<polygon fill="#5681a4" points="2069.5,2226.3 2050.5,2225.4 2038.4,2246.7 2057.5,2247.9"/>
<polygon fill="#5782a5" points="2019.4,2245.5 2000.5,2244.8 1988.2,2267.3 2007.3,2269.9"/>
<polygon fill="#779fc0" points="2407.8,2219.4 2388,2213.9 2377.7,2230.4 2397.6,2236"/>
<polygon fill="#779fc0" points="2298.5,2207.7 2278.8,2202.4 2267.8,2217.5 2287.6,2222.9"/>
<polygon fill="#769ebf" points="2517.1,2230 2497.1,2225.3 2487.6,2243.1 2507.7,2247.7"/>
<polygon fill="#769ebf" points="2208.9,2204 2189.4,2200 2177.9,2218.7 2197.5,2222.8"/>
<polygon fill="#6d96b9" points="2139,2212.3 2119.7,2209.6 2107.9,2229.5 2127.3,2232.2"/>
<polygon fill="#769ebf" points="2606.7,2230 2586.6,2225.8 2577.6,2242.4 2597.9,2246.4"/>
<polygon fill="#779fc0" points="2427.6,2225.1 2407.8,2219.4 2397.6,2236 2417.6,2241.9"/>
<polygon fill="url(#pd)" points="2790.5,1561.3 2766.2,1598.8 2744.5,1782.9 2765.9,1771.7"/>
<polygon fill="#779fc0" points="2318.2,2213.4 2298.5,2207.7 2287.6,2222.9 2307.4,2228.8"/>
<polygon fill="#5984a7" points="2088.6,2227.5 2069.5,2226.3 2057.5,2247.9 2076.7,2249.5"/>
<polygon fill="#5580a3" points="2038.4,2246.7 2019.4,2245.5 2007.3,2269.9 2026.5,2272.9"/>
<polygon fill="#769ebf" points="2537.2,2234.2 2517.1,2230 2507.7,2247.7 2527.9,2251.8"/>
<polygon fill="#769ebf" points="2228.4,2208.2 2208.9,2204 2197.5,2222.8 2217.2,2227"/>
<polygon fill="#769ebf" points="2627,2233.7 2606.7,2230 2597.9,2246.4 2618.3,2249.6"/>
<polygon fill="#719abc" points="2158.4,2215.2 2139,2212.3 2127.3,2232.2 2146.7,2235.3"/>
<polygon fill="#779fc0" points="2447.6,2231.3 2427.6,2225.1 2417.6,2241.9 2437.7,2248.3"/>
<polygon fill="#779fc0" points="2338,2219.2 2318.2,2213.4 2307.4,2228.8 2327.3,2234.8"/>
<polygon fill="#769ebf" points="2557.4,2238.3 2537.2,2234.2 2527.9,2251.8 2548.2,2255.7"/>
<polygon fill="#769ebf" points="2248.1,2212.7 2228.4,2208.2 2217.2,2227 2236.9,2231.4"/>
<polygon fill="#618baf" points="2107.9,2229.5 2088.6,2227.5 2076.7,2249.5 2096,2251.8"/>
<polygon fill="#779fc0" points="2467.5,2237.4 2447.6,2231.3 2437.7,2248.3 2457.7,2254.8"/>
<polygon fill="#527da0" points="2057.5,2247.9 2038.4,2246.7 2026.5,2272.9 2045.8,2275.9"/>
<polygon fill="#779fc0" points="2357.8,2224.8 2338,2219.2 2327.3,2234.8 2347.3,2240.5"/>
<polygon fill="#769ebf" points="2177.9,2218.7 2158.4,2215.2 2146.7,2235.3 2166.3,2238.8"/>
<polygon fill="#6892b6" points="2647.4,2235.6 2627,2233.7 2618.3,2249.6 2639,2250.2"/>
<polygon fill="#779fc0" points="2487.6,2243.1 2467.5,2237.4 2457.7,2254.8 2477.9,2260.6"/>
<polygon fill="#769ebf" points="2267.8,2217.5 2248.1,2212.7 2236.9,2231.4 2256.7,2236.3"/>
<polygon fill="#769ebf" points="2577.6,2242.4 2557.4,2238.3 2548.2,2255.7 2568.5,2259.6"/>
<polygon fill="#779fc0" points="2377.7,2230.4 2357.8,2224.8 2347.3,2240.5 2367.3,2246.3"/>
<polygon fill="#6892b6" points="2127.3,2232.2 2107.9,2229.5 2096,2251.8 2115.5,2254.7"/>
<polygon fill="#507b9e" points="2076.7,2249.5 2057.5,2247.9 2045.8,2275.9 2065.2,2279.1"/>
<polygon fill="#769ebf" points="2197.5,2222.8 2177.9,2218.7 2166.3,2238.8 2186,2242.9"/>
<polygon fill="#769ebf" points="2507.7,2247.7 2487.6,2243.1 2477.9,2260.6 2498.1,2265.2"/>
<polygon fill="#769ebf" points="2287.6,2222.9 2267.8,2217.5 2256.7,2236.3 2276.6,2241.8"/>
<polygon fill="#779fc0" points="2397.6,2236 2377.7,2230.4 2367.3,2246.3 2387.3,2252.1"/>
<polygon fill="#769ebf" points="2597.9,2246.4 2577.6,2242.4 2568.5,2259.6 2589,2263.3"/>
<polygon fill="#769ebf" points="2217.2,2227 2197.5,2222.8 2186,2242.9 2205.8,2247.2"/>
<polygon fill="#6b95b8" points="2146.7,2235.3 2127.3,2232.2 2115.5,2254.7 2135.1,2258"/>
<polygon fill="#779fc0" points="2307.4,2228.8 2287.6,2222.9 2276.6,2241.8 2296.6,2247.8"/>
<polygon fill="#779fc0" points="2417.6,2241.9 2397.6,2236 2387.3,2252.1 2407.5,2258.2"/>
<polygon fill="#517c9f" points="2096,2251.8 2076.7,2249.5 2065.2,2279.1 2084.7,2282.7"/>
<polygon fill="#769ebf" points="2527.9,2251.8 2507.7,2247.7 2498.1,2265.2 2518.4,2269.2"/>
<polygon fill="#769ebf" points="2618.3,2249.6 2597.9,2246.4 2589,2263.3 2609.5,2266.1"/>
<polygon fill="#779fc0" points="2327.3,2234.8 2307.4,2228.8 2296.6,2247.8 2316.6,2253.8"/>
<polygon fill="#779fc0" points="2437.7,2248.3 2417.6,2241.9 2407.5,2258.2 2427.6,2264.9"/>
<polygon fill="#769ebf" points="2236.9,2231.4 2217.2,2227 2205.8,2247.2 2225.6,2251.7"/>
<polygon fill="#7098bb" points="2166.3,2238.8 2146.7,2235.3 2135.1,2258 2154.8,2261.7"/>
<polygon fill="#769ebf" points="2548.2,2255.7 2527.9,2251.8 2518.4,2269.2 2538.8,2272.9"/>
<polygon fill="#527d9f" points="2115.5,2254.7 2096,2251.8 2084.7,2282.7 2104.3,2286.7"/>
<polygon fill="#779fc0" points="2457.7,2254.8 2437.7,2248.3 2427.6,2264.9 2447.8,2271.7"/>
<polygon fill="#769ebf" points="2347.3,2240.5 2327.3,2234.8 2316.6,2253.8 2336.6,2259.7"/>
<polygon fill="#769ebf" points="2256.7,2236.3 2236.9,2231.4 2225.6,2251.7 2245.5,2256.6"/>
<polygon fill="#5882a6" points="2639,2250.2 2618.3,2249.6 2609.5,2266.1 2630.4,2265.4"/>
<polygon fill="#759dbe" points="2186,2242.9 2166.3,2238.8 2154.8,2261.7 2174.6,2266"/>
<polygon fill="#779fc0" points="2477.9,2260.6 2457.7,2254.8 2447.8,2271.7 2468.1,2277.6"/>
<polygon fill="#769ebf" points="2568.5,2259.6 2548.2,2255.7 2538.8,2272.9 2559.3,2276.6"/>
<polygon fill="#769ebf" points="2367.3,2246.3 2347.3,2240.5 2336.6,2259.7 2356.8,2265.5"/>
<polygon fill="#517c9f" points="2135.1,2258 2115.5,2254.7 2104.3,2286.7 2123.9,2291"/>
<polygon fill="#769ebf" points="2276.6,2241.8 2256.7,2236.3 2245.5,2256.6 2265.5,2262.2"/>
<polygon fill="#769ebf" points="2498.1,2265.2 2477.9,2260.6 2468.1,2277.6 2488.4,2282.2"/>
<polygon fill="#769ebf" points="2387.3,2252.1 2367.3,2246.3 2356.8,2265.5 2376.9,2271.4"/>
<polygon fill="#769ebf" points="2205.8,2247.2 2186,2242.9 2174.6,2266 2194.4,2270.4"/>
<polygon fill="#769ebf" points="2589,2263.3 2568.5,2259.6 2559.3,2276.6 2579.9,2280"/>
<polygon fill="#527da0" points="2154.8,2261.7 2135.1,2258 2123.9,2291 2143.7,2295.4"/>
<polygon fill="#769ebf" points="2296.6,2247.8 2276.6,2241.8 2265.5,2262.2 2285.6,2268.2"/>
<polygon fill="#779fc0" points="2407.5,2258.2 2387.3,2252.1 2376.9,2271.4 2397.1,2277.6"/>
<polygon fill="#769ebf" points="2518.4,2269.2 2498.1,2265.2 2488.4,2282.2 2508.9,2286"/>
<polygon fill="#769ebf" points="2225.6,2251.7 2205.8,2247.2 2194.4,2270.4 2214.3,2275"/>
<polygon fill="#769ebf" points="2316.6,2253.8 2296.6,2247.8 2285.6,2268.2 2305.7,2274.3"/>
<polygon fill="#537ea1" points="2174.6,2266 2154.8,2261.7 2143.7,2295.4 2163.5,2300.2"/>
<polygon fill="#779fc0" points="2427.6,2264.9 2407.5,2258.2 2397.1,2277.6 2417.4,2284.5"/>
<polygon fill="#749cbe" points="2609.5,2266.1 2589,2263.3 2579.9,2280 2600.6,2282.4"/>
<polygon fill="#769ebf" points="2336.6,2259.7 2316.6,2253.8 2305.7,2274.3 2325.9,2280.3"/>
<polygon fill="#769ebf" points="2245.5,2256.6 2225.6,2251.7 2214.3,2275 2234.3,2280.1"/>
<polygon fill="#769ebf" points="2538.8,2272.9 2518.4,2269.2 2508.9,2286 2529.4,2289.5"/>
<polygon fill="#779fc0" points="2447.8,2271.7 2427.6,2264.9 2417.4,2284.5 2437.7,2291.4"/>
<polygon fill="#537ea1" points="2194.4,2270.4 2174.6,2266 2163.5,2300.2 2183.4,2305"/>
<polygon fill="#769ebf" points="2356.8,2265.5 2336.6,2259.7 2325.9,2280.3 2346.1,2286.1"/>
<polygon fill="#769ebf" points="2468.1,2277.6 2447.8,2271.7 2437.7,2291.4 2458.1,2297.4"/>
<polygon fill="#769ebf" points="2265.5,2262.2 2245.5,2256.6 2234.3,2280.1 2254.4,2285.6"/>
<polygon fill="#4e799b" points="2630.4,2265.4 2609.5,2266.1 2600.6,2282.4 2621.7,2280.7"/>
<polygon fill="#769ebf" points="2559.3,2276.6 2538.8,2272.9 2529.4,2289.5 2550,2293"/>
<polygon fill="#537ea1" points="2214.3,2275 2194.4,2270.4 2183.4,2305 2203.4,2310"/>
<polygon fill="#769ebf" points="2376.9,2271.4 2356.8,2265.5 2346.1,2286.1 2366.4,2292.1"/>
<polygon fill="#769ebf" points="2285.6,2268.2 2265.5,2262.2 2254.4,2285.6 2274.6,2291.7"/>
<polygon fill="#769ebf" points="2488.4,2282.2 2468.1,2277.6 2458.1,2297.4 2478.6,2302.1"/>
<polygon fill="#5580a3" points="2234.3,2280.1 2214.3,2275 2203.4,2310 2223.4,2315.2"/>
<polygon fill="#769ebf" points="2397.1,2277.6 2376.9,2271.4 2366.4,2292.1 2386.7,2298.4"/>
<polygon fill="#769ebf" points="2579.9,2280 2559.3,2276.6 2550,2293 2570.8,2296.2"/>
<polygon fill="#769ebf" points="2305.7,2274.3 2285.6,2268.2 2274.6,2291.7 2294.8,2297.8"/>
<polygon fill="#769ebf" points="2508.9,2286 2488.4,2282.2 2478.6,2302.1 2499.1,2305.8"/>
<polygon fill="#779fc0" points="2417.4,2284.5 2397.1,2277.6 2386.7,2298.4 2407.1,2305.3"/>
<polygon fill="#5983a7" points="2254.4,2285.6 2234.3,2280.1 2223.4,2315.2 2243.5,2320.7"/>
<polygon fill="#769ebf" points="2325.9,2280.3 2305.7,2274.3 2294.8,2297.8 2315,2303.7"/>
<polygon fill="#7099bb" points="2600.6,2282.4 2579.9,2280 2570.8,2296.2 2591.6,2298.1"/>
<polygon fill="#779fc0" points="2437.7,2291.4 2417.4,2284.5 2407.1,2305.3 2427.5,2312.3"/>
<polygon fill="#769ebf" points="2529.4,2289.5 2508.9,2286 2499.1,2305.8 2519.8,2309.3"/>
<polygon fill="#5d87ab" points="2274.6,2291.7 2254.4,2285.6 2243.5,2320.7 2263.7,2326.5"/>
<polygon fill="#769ebf" points="2346.1,2286.1 2325.9,2280.3 2315,2303.7 2335.3,2309.6"/>
<polygon fill="#769ebf" points="2458.1,2297.4 2437.7,2291.4 2427.5,2312.3 2448,2318.3"/>
<polygon fill="#5e89ac" points="2294.8,2297.8 2274.6,2291.7 2263.7,2326.5 2284,2332.3"/>
<polygon fill="#769ebf" points="2366.4,2292.1 2346.1,2286.1 2335.3,2309.6 2355.7,2315.6"/>
<polygon fill="#769ebf" points="2550,2293 2529.4,2289.5 2519.8,2309.3 2540.5,2312.8"/>
<polygon fill="#477193" points="2621.7,2280.7 2600.6,2282.4 2591.6,2298.1 2612.9,2295"/>
<polygon fill="#769ebf" points="2478.6,2302.1 2458.1,2297.4 2448,2318.3 2468.6,2323.1"/>
<polygon fill="#5e89ac" points="2315,2303.7 2294.8,2297.8 2284,2332.3 2304.3,2338"/>
<polygon fill="#769ebf" points="2386.7,2298.4 2366.4,2292.1 2355.7,2315.6 2376.1,2321.8"/>
<polygon fill="#739bbd" points="2570.8,2296.2 2550,2293 2540.5,2312.8 2561.3,2316"/>
<polygon fill="#769ebf" points="2499.1,2305.8 2478.6,2302.1 2468.6,2323.1 2489.2,2326.9"/>
<polygon fill="#769ebf" points="2407.1,2305.3 2386.7,2298.4 2376.1,2321.8 2396.6,2328.7"/>
<polygon fill="#5f89ad" points="2335.3,2309.6 2315,2303.7 2304.3,2338 2324.6,2343.7"/>
<polygon fill="#769ebf" points="2427.5,2312.3 2407.1,2305.3 2396.6,2328.7 2417.1,2335.6"/>
<polygon fill="#608bae" points="2355.7,2315.6 2335.3,2309.6 2324.6,2343.7 2345,2349.4"/>
<polygon fill="#739bbd" points="2519.8,2309.3 2499.1,2305.8 2489.2,2326.9 2510,2330.4"/>
<polygon fill="#658fb3" points="2591.6,2298.1 2570.8,2296.2 2561.3,2316 2582.3,2317.8"/>
<polygon fill="#769ebf" points="2448,2318.3 2427.5,2312.3 2417.1,2335.6 2437.7,2341.7"/>
<polygon fill="#638eb1" points="2376.1,2321.8 2355.7,2315.6 2345,2349.4 2365.5,2355.3"/>
<polygon fill="#769ebf" points="2468.6,2323.1 2448,2318.3 2437.7,2341.7 2458.4,2346.5"/>
<polygon fill="#749cbe" points="2540.5,2312.8 2519.8,2309.3 2510,2330.4 2530.8,2334"/>
<polygon fill="#6a94b7" points="2396.6,2328.7 2376.1,2321.8 2365.5,2355.3 2386,2361.6"/>
<polygon fill="#406889" points="2612.9,2295 2591.6,2298.1 2582.3,2317.8 2603.7,2314.3"/>
<polygon fill="#6c96b9" points="2417.1,2335.6 2396.6,2328.7 2386,2361.6 2406.6,2367.9"/>
<polygon fill="#719abc" points="2489.2,2326.9 2468.6,2323.1 2458.4,2346.5 2479.1,2350.6"/>
<polygon fill="#6f98bb" points="2561.3,2316 2540.5,2312.8 2530.8,2334 2551.7,2337.2"/>
<polygon fill="#6892b6" points="2437.7,2341.7 2417.1,2335.6 2406.6,2367.9 2427.2,2373.7"/>
<polygon fill="#6d96b9" points="2510,2330.4 2489.2,2326.9 2479.1,2350.6 2500,2354.3"/>
<polygon fill="#608bae" points="2582.3,2317.8 2561.3,2316 2551.7,2337.2 2572.8,2339.1"/>
<polygon fill="#5f89ad" points="2458.4,2346.5 2437.7,2341.7 2427.2,2373.7 2447.9,2378.9"/>
<polygon fill="#6d97b9" points="2530.8,2334 2510,2330.4 2500,2354.3 2520.9,2358.1"/>
<polygon fill="#5782a5" points="2479.1,2350.6 2458.4,2346.5 2447.9,2378.9 2468.7,2383.6"/>
<polygon fill="#3e6686" points="2603.7,2314.3 2582.3,2317.8 2572.8,2339.1 2594.3,2335.7"/>
<polygon fill="#6892b6" points="2551.7,2337.2 2530.8,2334 2520.9,2358.1 2541.9,2361.5"/>
<polygon fill="#537da0" points="2500,2354.3 2479.1,2350.6 2468.7,2383.6 2489.6,2388.2"/>
<polygon fill="#517c9f" points="2520.9,2358.1 2500,2354.3 2489.6,2388.2 2510.5,2392.9"/>
<polygon fill="#5984a7" points="2572.8,2339.1 2551.7,2337.2 2541.9,2361.5 2563.1,2363.8"/>
<polygon fill="#4d789b" points="2541.9,2361.5 2520.9,2358.1 2510.5,2392.9 2531.5,2397.4"/>
<polygon fill="url(#pb)" points="2594.3,2335.7 2572.8,2339.1 2563.1,2363.8 2584.6,2361.2"/>
<polygon fill="#456f91" points="2563.1,2363.8 2541.9,2361.5 2531.5,2397.4 2552.7,2401.2"/>
<polygon fill="url(#pb)" points="2584.6,2361.2 2563.1,2363.8 2552.7,2401.2 2574,2402.6"/>
</g>
<g stroke="#0a1a30" stroke-width="3" fill="none" opacity="0.45">
<line x1="1923.5" y1="1799.8" x2="2596.3" y2="1955.7" stroke-dasharray="6.5 10.5"/>
<line x1="2596.3" y1="1955.7" x2="2790.5" y2="1561.3" stroke-dasharray="6.5 10.5"/>
<line x1="2571.3" y1="2456.7" x2="2596.3" y2="1955.7" stroke-dasharray="6.5 10.5"/>
</g>
<g stroke="#1a1a1a" stroke-width="4" stroke-linecap="butt" fill="none">
<line x1="2488.3" y1="2434.4" x2="2481.6" y2="2461.5"/>
<line x1="2385.9" y1="2406.9" x2="2379.2" y2="2433.7"/>
<line x1="2285" y1="2379.7" x2="2278.4" y2="2406.4"/>
<line x1="2185.7" y1="2353" x2="2179" y2="2379.4"/>
<line x1="2087.8" y1="2326.7" x2="2081.2" y2="2352.9"/>
<line x1="1991.3" y1="2300.8" x2="1984.7" y2="2326.8"/>
<line x1="2748.8" y1="2045.7" x2="2764.6" y2="2062.7"/>
<line x1="2710.3" y1="2134.9" x2="2726.5" y2="2152.3"/>
<line x1="2669.5" y1="2229.3" x2="2686.3" y2="2246.9"/>
<line x1="2626.4" y1="2329" x2="2643.8" y2="2347"/>
<line x1="2580.8" y1="2434.8" x2="2598.7" y2="2453.1"/>
<line x1="1967.7" y1="2249.5" x2="1940.5" y2="2258.2"/>
<line x1="1956.6" y1="2136.6" x2="1928.6" y2="2145.2"/>
<line x1="1944.9" y1="2017.3" x2="1916.1" y2="2025.8"/>
<line x1="1932.5" y1="1891.1" x2="1902.8" y2="1899.6"/>
</g>
<text x="2472.8" y="2509.3" font-size="48.5" text-anchor="middle" textLength="27.9" lengthAdjust="spacingAndGlyphs">5</text>
<text x="2369.5" y="2481.6" font-size="48.5" text-anchor="middle" textLength="55.8" lengthAdjust="spacingAndGlyphs">10</text>
<text x="2266.2" y="2452.5" font-size="48.5" text-anchor="middle" textLength="55.8" lengthAdjust="spacingAndGlyphs">15</text>
<text x="2163.5" y="2425.6" font-size="48.5" text-anchor="middle" textLength="55.8" lengthAdjust="spacingAndGlyphs">20</text>
<text x="2061.7" y="2401.6" font-size="48.5" text-anchor="middle" textLength="55.8" lengthAdjust="spacingAndGlyphs">25</text>
<text x="1965.6" y="2374.6" font-size="48.5" text-anchor="middle" textLength="55.8" lengthAdjust="spacingAndGlyphs">30</text>
<text x="2786.4" y="2083.6" font-size="48.5" text-anchor="middle" textLength="27.9" lengthAdjust="spacingAndGlyphs">0</text>
<text x="2741.5" y="2178.8" font-size="48.5" text-anchor="middle" textLength="27.9" lengthAdjust="spacingAndGlyphs">5</text>
<text x="2713.3" y="2282.4" font-size="48.5" text-anchor="middle" textLength="55.8" lengthAdjust="spacingAndGlyphs">10</text>
<text x="2669.2" y="2389.4" font-size="48.5" text-anchor="middle" textLength="55.8" lengthAdjust="spacingAndGlyphs">15</text>
<text x="2625" y="2494.8" font-size="48.5" text-anchor="middle" textLength="55.8" lengthAdjust="spacingAndGlyphs">20</text>
<text x="1939.5" y="2287.8" font-size="48.5" text-anchor="end" textLength="27.9" lengthAdjust="spacingAndGlyphs">1</text>
<text x="1923.6" y="2165.8" font-size="48.5" text-anchor="end" textLength="27.9" lengthAdjust="spacingAndGlyphs">2</text>
<text x="1911.1" y="2046.5" font-size="48.5" text-anchor="end" textLength="27.9" lengthAdjust="spacingAndGlyphs">3</text>
<text x="1897.8" y="1920.2" font-size="48.5" text-anchor="end" textLength="27.9" lengthAdjust="spacingAndGlyphs">4</text>
<text transform="translate(1976.6 2450.1) rotate(14.1)" font-size="48.5" text-anchor="start" textLength="521.2" lengthAdjust="spacingAndGlyphs">Mean temperature (°C)</text>
<text transform="translate(2789.5 2362.6) rotate(-64.6)" font-size="48.5" text-anchor="start" textLength="75.4" lengthAdjust="spacingAndGlyphs">Lag</text>
<text transform="translate(1829 2074.5) rotate(-90)" font-size="48.5" text-anchor="middle" textLength="375.7" lengthAdjust="spacingAndGlyphs">Relative risk (<tspan font-style="italic">RR</tspan>)</text>
<text x="2084.5" y="2652.8" font-size="48.5" text-anchor="start" textLength="536.4" lengthAdjust="spacingAndGlyphs">D. Northern Guangdong</text>
</svg>
</body></html>
